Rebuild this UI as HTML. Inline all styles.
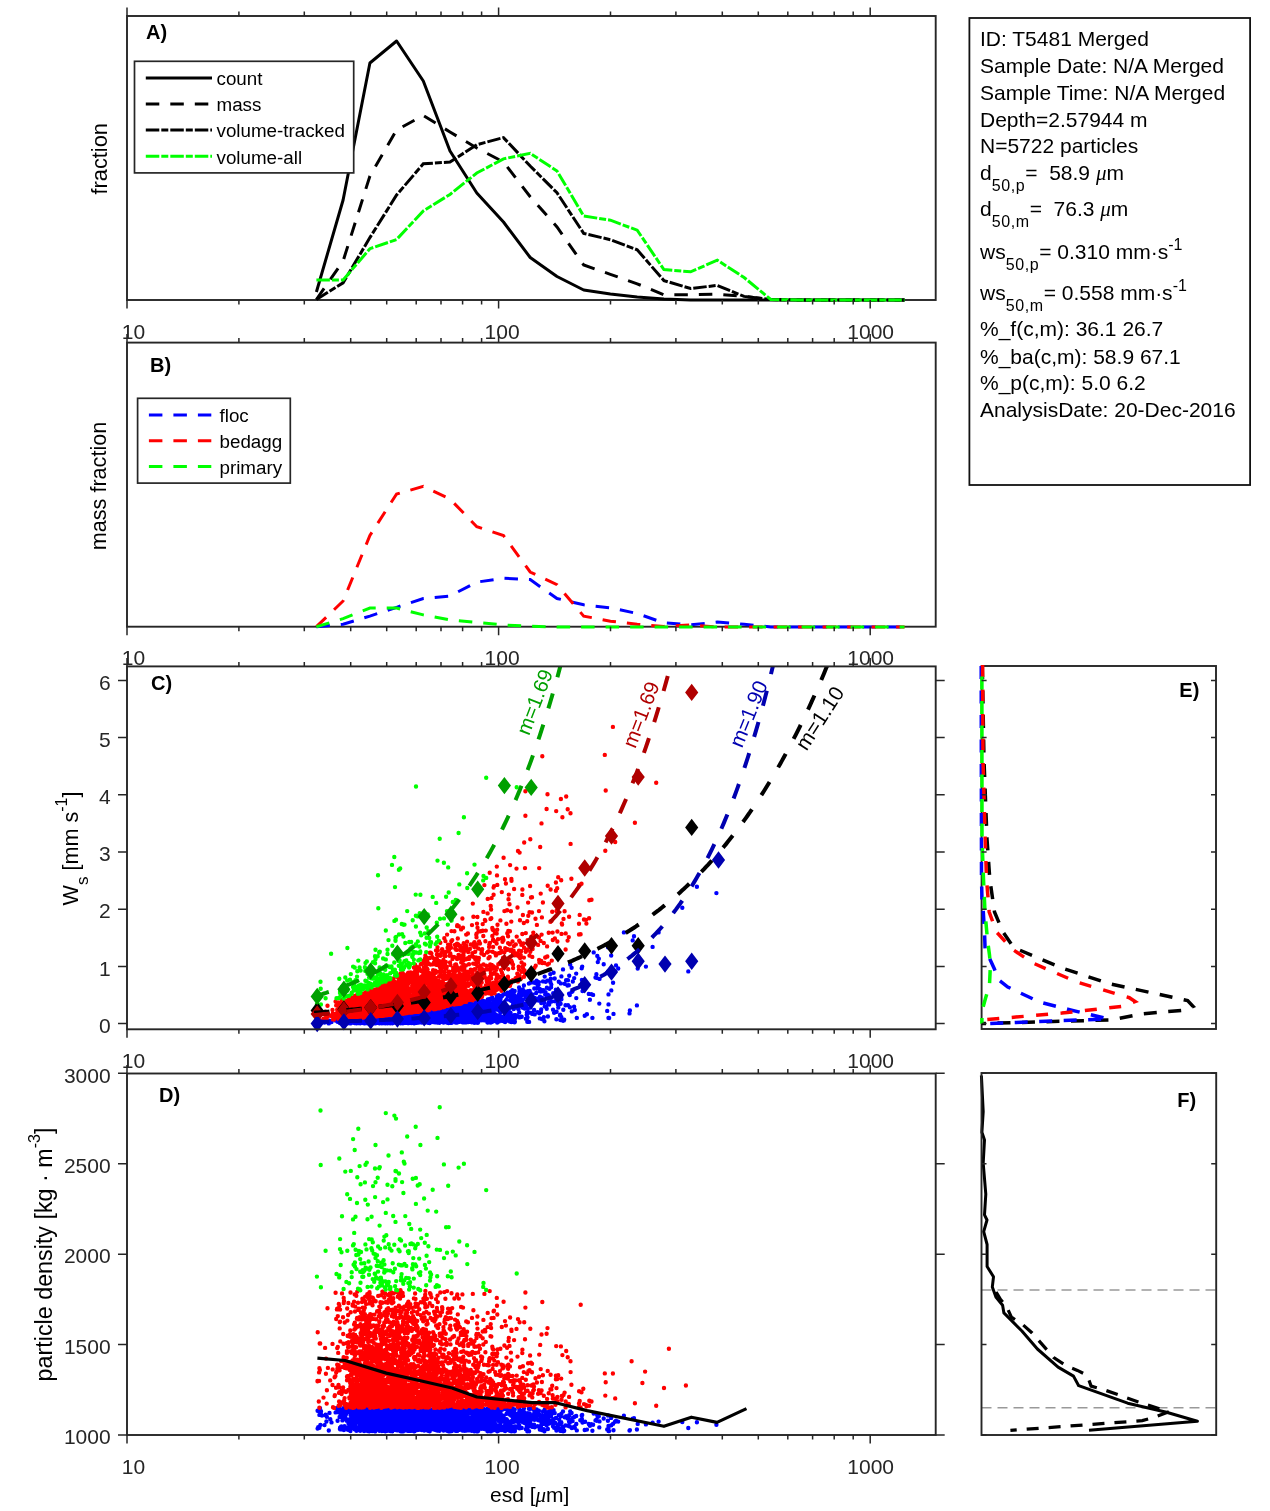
<!DOCTYPE html><html><head><meta charset="utf-8"><style>html,body{margin:0;padding:0;background:#fff;overflow:hidden}svg{display:block;will-change:transform}text{font-family:"Liberation Sans",sans-serif}</style></head><body>
<svg width="1270" height="1511" viewBox="0 0 1270 1511">
<rect width="1270" height="1511" fill="#fff"/>
<g id="A">
<rect x="127" y="16" width="808.7" height="284" fill="none" stroke="#262626" stroke-width="1.9"/>
<path d="M316.4 292 L343.1 200 L369.9 63 L396.6 41 L423.3 81 L450 151 L476.8 193 L503.5 222 L530.2 257.5 L557 276.5 L583.7 290 L610.4 294 L637.2 297 L663.9 299 L690.6 300 L717.3 300 L744.1 300 L770.8 300 L797.5 300 L824.3 300 L851 300 L877.7 300 L904.5 300" fill="none" stroke="#000" stroke-width="3" stroke-linejoin="round"/>
<path d="M316.4 299.5 L343.1 261 L369.9 176 L396.6 130 L423.3 115.5 L450 132 L476.8 148 L503.5 162 L530.2 196.7 L557 227 L583.7 265 L610.4 274.3 L637.2 283.8 L663.9 294.8 L690.6 294.8 L717.3 294.2 L744.1 296.4 L770.8 299.5 L797.5 300 L824.3 300 L851 300 L877.7 300 L904.5 300" fill="none" stroke="#000" stroke-width="3" stroke-dasharray="13.5 11"/>
<path d="M316.4 299.5 L343.1 282.8 L369.9 237.6 L396.6 195 L423.3 163.8 L450 162 L476.8 144.7 L503.5 137.6 L530.2 166 L557 192.8 L583.7 233.4 L610.4 239.7 L637.2 249.8 L663.9 280.6 L690.6 288.5 L717.3 285.4 L744.1 296.4 L770.8 299.5 L797.5 300 L824.3 300 L851 300 L877.7 300 L904.5 300" fill="none" stroke="#000" stroke-width="3" stroke-dasharray="13.5 2 7 2"/>
<path d="M316.4 280 L343.1 280 L369.9 248.7 L396.6 239.5 L423.3 211 L450 194.4 L476.8 173 L503.5 158.9 L530.2 153.3 L557 171 L583.7 216 L610.4 220.2 L637.2 230.2 L663.9 269.6 L690.6 271.8 L717.3 260.2 L744.1 277.5 L770.8 299.5 L797.5 300 L824.3 300 L851 300 L877.7 300 L904.5 300" fill="none" stroke="#0f0" stroke-width="3" stroke-dasharray="13.5 2 7 2"/>
<path d="M127 300 v8.5 M127 16 v-8.5 M238.9 300 v4.5 M238.9 16 v-4.5 M304.3 300 v4.5 M304.3 16 v-4.5 M350.7 300 v4.5 M350.7 16 v-4.5 M386.7 300 v4.5 M386.7 16 v-4.5 M416.2 300 v4.5 M416.2 16 v-4.5 M441 300 v4.5 M441 16 v-4.5 M462.6 300 v4.5 M462.6 16 v-4.5 M481.6 300 v4.5 M481.6 16 v-4.5 M498.6 300 v8.5 M498.6 16 v-8.5 M610.5 300 v4.5 M610.5 16 v-4.5 M675.9 300 v4.5 M675.9 16 v-4.5 M722.3 300 v4.5 M722.3 16 v-4.5 M758.3 300 v4.5 M758.3 16 v-4.5 M787.8 300 v4.5 M787.8 16 v-4.5 M812.6 300 v4.5 M812.6 16 v-4.5 M834.2 300 v4.5 M834.2 16 v-4.5 M853.2 300 v4.5 M853.2 16 v-4.5 M870.2 300 v8.5 M870.2 16 v-8.5" stroke="#262626" stroke-width="1.5" fill="none"/>
</g>
<g font-size="21" fill="#262626"><text x="133.5" y="338.6" text-anchor="middle">10</text><text x="502.1" y="338.6" text-anchor="middle">100</text><text x="870.7" y="338.6" text-anchor="middle">1000</text></g>
<rect x="134.5" y="61.3" width="219.2" height="111.6" fill="#fff" stroke="#262626" stroke-width="1.7"/>
<path d="M145.8 78 H212" stroke="#000" stroke-width="3"/>
<text x="216.5" y="85.3" font-size="18.8" fill="#000">count</text>
<path d="M145.8 104.1 H212" stroke="#000" stroke-width="3" stroke-dasharray="13.5 11"/>
<text x="216.5" y="111.4" font-size="18.8" fill="#000">mass</text>
<path d="M145.8 130.1 H212" stroke="#000" stroke-width="3" stroke-dasharray="13.5 2 7 2"/>
<text x="216.5" y="137.4" font-size="18.8" fill="#000">volume-tracked</text>
<path d="M145.8 156.2 H212" stroke="#0f0" stroke-width="3" stroke-dasharray="13.5 2 7 2"/>
<text x="216.5" y="163.5" font-size="18.8" fill="#000">volume-all</text>
<text x="146" y="38.9" font-size="20" font-weight="bold" fill="#000">A)</text>
<text transform="translate(106.7,158.8) rotate(-90)" text-anchor="middle" font-size="21.8" fill="#000">fraction</text>
<rect x="127" y="342.6" width="808.7" height="284.1" fill="none" stroke="#262626" stroke-width="1.9"/>
<path d="M316.4 626.7 L343.1 624.2 L369.9 616.1 L396.6 607.3 L423.3 598.5 L450 596 L476.8 582.1 L503.5 578.3 L530.2 579.6 L557 598.5 L583.7 604.8 L610.4 607.8 L637.2 613.5 L663.9 622.9 L690.6 624.8 L717.3 622.1 L744.1 624.3 L770.8 627 L797.5 627 L824.3 627 L851 627 L877.7 627 L904.5 627" fill="none" stroke="#00f" stroke-width="3" stroke-dasharray="13.5 11"/>
<path d="M316.4 626.7 L343.1 601 L369.9 535.5 L396.6 494 L423.3 486.4 L450 499 L476.8 526.7 L503.5 535.5 L530.2 572 L557 584.6 L583.7 616.1 L610.4 621.2 L637.2 624.3 L663.9 626.4 L690.6 625 L717.3 627 L744.1 627 L770.8 627 L797.5 627 L824.3 627 L851 627 L877.7 627 L904.5 627" fill="none" stroke="#f00" stroke-width="3" stroke-dasharray="13.5 11"/>
<path d="M316.4 626.7 L343.1 618.7 L369.9 608.1 L396.6 608.1 L423.3 614.9 L450 619.9 L476.8 622.4 L503.5 625 L530.2 626.2 L557 627 L583.7 627 L610.4 627 L637.2 627 L663.9 627 L690.6 627 L717.3 627 L744.1 627 L770.8 627 L797.5 627 L824.3 627 L851 627 L877.7 627 L904.5 627" fill="none" stroke="#0f0" stroke-width="3" stroke-dasharray="13.5 11"/>
<path d="M127 626.7 v8.5 M127 342.6 v-8.5 M238.9 626.7 v4.5 M238.9 342.6 v-4.5 M304.3 626.7 v4.5 M304.3 342.6 v-4.5 M350.7 626.7 v4.5 M350.7 342.6 v-4.5 M386.7 626.7 v4.5 M386.7 342.6 v-4.5 M416.2 626.7 v4.5 M416.2 342.6 v-4.5 M441 626.7 v4.5 M441 342.6 v-4.5 M462.6 626.7 v4.5 M462.6 342.6 v-4.5 M481.6 626.7 v4.5 M481.6 342.6 v-4.5 M498.6 626.7 v8.5 M498.6 342.6 v-8.5 M610.5 626.7 v4.5 M610.5 342.6 v-4.5 M675.9 626.7 v4.5 M675.9 342.6 v-4.5 M722.3 626.7 v4.5 M722.3 342.6 v-4.5 M758.3 626.7 v4.5 M758.3 342.6 v-4.5 M787.8 626.7 v4.5 M787.8 342.6 v-4.5 M812.6 626.7 v4.5 M812.6 342.6 v-4.5 M834.2 626.7 v4.5 M834.2 342.6 v-4.5 M853.2 626.7 v4.5 M853.2 342.6 v-4.5 M870.2 626.7 v8.5 M870.2 342.6 v-8.5" stroke="#262626" stroke-width="1.5" fill="none"/>
<g font-size="21" fill="#262626"><text x="133.5" y="665.3" text-anchor="middle">10</text><text x="502.1" y="665.3" text-anchor="middle">100</text><text x="870.7" y="665.3" text-anchor="middle">1000</text></g>
<rect x="137.6" y="398.3" width="152.7" height="84.8" fill="#fff" stroke="#262626" stroke-width="1.7"/>
<path d="M148.9 414.9 H211.3" stroke="#00f" stroke-width="3" stroke-dasharray="13.5 11"/>
<text x="219.5" y="422.2" font-size="18.8" fill="#000">floc</text>
<path d="M148.9 440.7 H211.3" stroke="#f00" stroke-width="3" stroke-dasharray="13.5 11"/>
<text x="219.5" y="448" font-size="18.8" fill="#000">bedagg</text>
<path d="M148.9 466.5 H211.3" stroke="#0f0" stroke-width="3" stroke-dasharray="13.5 11"/>
<text x="219.5" y="473.8" font-size="18.8" fill="#000">primary</text>
<text x="150" y="371.8" font-size="20" font-weight="bold" fill="#000">B)</text>
<text transform="translate(105.6,486) rotate(-90)" text-anchor="middle" font-size="21.6" fill="#000">mass fraction</text>
<defs><clipPath id="cC"><rect x="127" y="666.4" width="808.7" height="362.9"/></clipPath><clipPath id="cD"><rect x="127" y="1073.5" width="808.7" height="361.5"/></clipPath></defs>
<path d="M443.7 1014.4h0M527.0 1018.5h0M532.3 994.5h0M456.2 1016.9h0M377.4 1022.9h0M368.9 1022.6h0M364.5 1022.9h0M520.8 1017.0h0M454.2 1015.4h0M490.2 1018.2h0M414.7 1020.1h0M442.2 1017.7h0M506.5 1006.6h0M435.7 1022.4h0M388.8 1020.6h0M407.0 1018.5h0M412.0 1022.4h0M382.2 1020.3h0M459.9 1014.4h0M381.4 1018.4h0M433.9 1017.9h0M390.0 1019.4h0M556.4 1019.3h0M407.1 1015.5h0M548.2 1004.2h0M353.5 1020.2h0M467.0 1017.3h0M416.5 1014.8h0M392.7 1019.0h0M357.8 1018.8h0M412.8 1014.1h0M498.3 999.4h0M459.3 1012.8h0M370.1 1018.3h0M358.1 1022.8h0M412.7 1018.2h0M467.6 1014.5h0M443.2 1009.4h0M394.6 1017.1h0M464.1 1014.0h0M351.5 1020.9h0M611.2 955.5h0M466.0 1008.9h0M369.8 1019.2h0M527.9 991.3h0M449.8 1014.6h0M418.0 1016.1h0M371.4 1019.4h0M497.2 1006.4h0M415.9 1016.8h0M390.4 1019.3h0M499.7 1019.6h0M342.4 1022.8h0M367.1 1018.6h0M369.8 1022.6h0M495.9 999.1h0M682.3 907.7h0M461.7 1019.6h0M498.5 1006.1h0M434.2 1017.3h0M351.1 1021.2h0M569.9 1007.3h0M437.6 1014.1h0M484.1 1017.2h0M361.4 1021.4h0M431.3 1013.6h0M416.0 1021.3h0M507.3 1013.4h0M412.4 1021.0h0M420.0 1016.6h0M477.0 1003.1h0M507.6 1011.9h0M479.6 1017.1h0M491.0 1018.6h0M335.6 1020.5h0M435.0 1014.5h0M417.0 1021.7h0M421.5 1013.2h0M495.6 1009.3h0M362.5 1021.6h0M460.5 1010.5h0M356.7 1020.2h0M565.5 1005.2h0M423.5 1013.9h0M534.8 997.9h0M376.3 1019.6h0M458.6 1015.2h0M361.9 1019.6h0M528.1 1002.6h0M369.5 1021.0h0M472.8 1007.3h0M491.0 1003.6h0M353.2 1019.0h0M399.0 1022.9h0M561.4 976.4h0M504.0 1019.5h0M502.6 1008.8h0M446.5 1012.5h0M417.7 1017.0h0M505.3 1007.6h0M392.4 1017.5h0M397.2 1023.0h0M348.7 1019.3h0M381.1 1021.2h0M471.5 1005.4h0M569.1 993.8h0M448.6 1015.6h0M389.0 1019.8h0M387.3 1019.6h0M460.0 1016.8h0M405.7 1017.5h0M420.8 1012.9h0M413.7 1018.8h0M451.6 1013.3h0M441.3 1011.4h0M370.2 1023.1h0M514.0 1001.3h0M371.1 1019.8h0M397.7 1020.6h0M455.7 1012.4h0M506.0 994.0h0M396.6 1021.2h0M498.0 1018.5h0M558.3 1007.5h0M355.2 1021.8h0M547.9 1016.5h0M410.0 1018.4h0M425.6 1013.8h0M424.4 1022.6h0M409.7 1014.2h0M431.6 1013.3h0M381.9 1022.7h0M475.8 1012.0h0M380.6 1018.5h0M451.9 1008.9h0M433.9 1016.1h0M487.2 1001.7h0M381.9 1022.3h0M425.1 1012.5h0M368.5 1019.5h0M436.1 1022.2h0M363.6 1019.7h0M410.8 1019.6h0M455.1 1013.9h0M451.1 1015.4h0M466.4 1022.2h0M397.6 1015.7h0M539.9 990.9h0M551.1 987.2h0M360.2 1023.3h0M514.7 991.0h0M409.6 1020.1h0M385.3 1019.7h0M380.1 1018.1h0M461.2 1017.5h0M382.2 1022.3h0M629.9 1010.5h0M459.2 1007.8h0M374.7 1019.4h0M410.1 1015.9h0M510.7 1018.7h0M458.2 1007.6h0M391.0 1019.4h0M561.3 1016.9h0M365.0 1023.2h0M431.1 1015.7h0M493.6 1013.0h0M613.1 982.7h0M370.1 1018.1h0M506.6 999.5h0M403.4 1016.4h0M408.6 1014.6h0M422.5 1016.6h0M339.0 1020.2h0M436.4 1011.1h0M400.7 1019.5h0M451.7 1019.6h0M432.1 1014.6h0M382.2 1018.5h0M402.9 1015.0h0M466.7 1010.6h0M503.9 994.1h0M387.1 1017.8h0M396.4 1016.2h0M414.2 1015.0h0M391.0 1017.9h0M406.9 1021.5h0M491.0 1010.1h0M426.0 1018.7h0M571.7 991.9h0M460.4 1011.0h0M422.1 1021.9h0M424.3 1013.9h0M430.3 1012.5h0M381.4 1022.2h0M425.4 1012.4h0M352.0 1022.7h0M513.0 1016.5h0M404.1 1015.1h0M367.8 1022.7h0M425.4 1020.7h0M390.1 1017.1h0M461.8 1006.5h0M457.7 1016.8h0M409.6 1018.2h0M522.4 993.7h0M502.8 1004.3h0M424.5 1021.4h0M387.9 1020.0h0M527.0 998.1h0M434.6 1013.6h0M320.0 1020.5h0M433.3 1015.9h0M615.0 971.6h0M393.1 1022.4h0M380.2 1019.4h0M363.0 1019.9h0M402.5 1022.6h0M480.3 1014.9h0M375.1 1023.2h0M400.2 1021.4h0M460.5 1015.3h0M425.1 1021.5h0M502.7 995.2h0M505.5 1007.7h0M433.5 1019.5h0M418.4 1013.4h0M483.3 1010.2h0M360.0 1020.8h0M374.1 1020.0h0M416.5 1021.3h0M629.5 1013.4h0M391.3 1023.1h0M541.2 1009.4h0M369.1 1023.2h0M496.4 1004.5h0M440.3 1017.2h0M428.9 1022.3h0M456.0 1010.9h0M549.2 1004.6h0M487.7 1005.1h0M370.0 1021.6h0M440.0 1020.7h0M415.7 1022.8h0M379.3 1020.5h0M436.1 1015.8h0M599.3 1003.6h0M480.7 1014.9h0M362.1 1021.6h0M518.4 1001.0h0M535.6 1000.1h0M369.5 1021.9h0M374.0 1021.9h0M364.9 1022.8h0M408.5 1021.6h0M522.4 991.1h0M395.2 1017.6h0M429.9 1020.4h0M483.9 1001.6h0M367.9 1021.8h0M449.3 1017.7h0M509.8 1021.6h0M369.7 1018.7h0M387.2 1016.9h0M463.3 1014.9h0M317.6 1020.9h0M461.7 1011.7h0M393.1 1021.8h0M388.7 1020.0h0M537.6 986.9h0M502.7 1010.3h0M360.0 1019.2h0M384.7 1018.9h0M426.0 1020.0h0M368.0 1018.5h0M446.5 1008.7h0M374.2 1022.4h0M554.1 1012.8h0M396.8 1020.6h0M447.1 1010.6h0M384.3 1022.1h0M429.1 1019.1h0M372.1 1019.9h0M455.1 1008.5h0M501.4 995.9h0M559.2 992.3h0M442.1 1010.4h0M477.8 1022.7h0M397.8 1016.3h0M401.5 1020.5h0M486.7 1009.8h0M384.4 1020.3h0M433.0 1022.1h0M538.5 998.5h0M411.6 1018.2h0M454.8 1012.4h0M452.3 1012.4h0M421.5 1022.4h0M425.5 1012.1h0M510.3 992.5h0M407.7 1019.7h0M399.0 1020.4h0M544.7 976.6h0M476.6 1022.6h0M370.9 1022.2h0M342.8 1023.1h0M396.3 1018.3h0M404.4 1020.2h0M430.9 1018.8h0M353.9 1019.7h0M394.4 1016.9h0M452.3 1017.1h0M439.1 1015.1h0M423.1 1021.0h0M375.4 1020.5h0M476.8 1021.0h0M395.8 1020.1h0M411.1 1019.4h0M401.9 1022.7h0M501.8 1010.2h0M427.7 1019.9h0M457.9 1021.9h0M510.2 1021.1h0M507.8 1016.4h0M603.7 964.2h0M442.2 1016.1h0M534.1 1009.9h0M410.2 1017.6h0M387.2 1017.0h0M431.1 1013.8h0M415.2 1018.6h0M358.2 1022.9h0M514.2 1004.9h0M388.3 1018.2h0M423.7 1013.7h0M397.3 1019.3h0M414.4 1015.7h0M571.6 967.7h0M340.6 1020.9h0M371.3 1020.4h0M388.1 1021.9h0M401.8 1016.1h0M361.2 1022.3h0M468.5 1020.8h0M347.2 1022.8h0M442.4 1021.7h0M462.7 1006.8h0M394.7 1018.7h0M413.6 1014.3h0M370.9 1019.6h0M376.7 1018.6h0M465.3 1018.8h0M482.9 1017.6h0M336.5 1019.8h0M510.4 1019.9h0M383.9 1019.7h0M512.2 992.7h0M431.0 1020.3h0M500.6 1016.4h0M431.9 1016.2h0M553.6 972.7h0M478.7 1018.4h0M382.2 1017.2h0M469.8 1014.0h0M392.7 1017.0h0M400.0 1015.2h0M431.7 1018.4h0M382.3 1021.5h0M423.7 1017.0h0M427.2 1019.3h0M489.8 998.9h0M498.9 996.7h0M498.1 1009.9h0M377.1 1020.5h0M399.4 1020.9h0M393.8 1017.9h0M346.6 1019.6h0M400.0 1021.5h0M412.3 1021.8h0M547.5 994.7h0M540.6 991.6h0M569.2 975.8h0M563.9 1020.4h0M402.3 1021.3h0M458.2 1022.0h0M464.7 1006.9h0M367.1 1020.0h0M388.4 1018.0h0M399.8 1022.8h0M425.9 1022.3h0M560.6 1003.7h0M398.5 1016.0h0M401.4 1018.9h0M408.0 1018.1h0M525.8 997.4h0M364.8 1023.2h0M461.4 1020.2h0M377.5 1022.4h0M483.8 1011.2h0M426.1 1013.7h0M405.9 1020.9h0M526.2 995.1h0M356.0 1021.6h0M404.0 1015.5h0M498.6 1002.9h0M519.4 1017.4h0M411.1 1022.7h0M595.5 977.5h0M474.3 1022.8h0M514.6 1021.1h0M320.8 1021.1h0M410.8 1020.9h0M374.9 1021.9h0M425.1 1015.4h0M479.6 1009.4h0M354.1 1022.1h0M404.3 1015.4h0M359.8 1019.7h0M464.2 1005.3h0M473.0 1007.2h0M352.1 1019.3h0M377.6 1018.8h0M422.5 1015.2h0M422.0 1013.6h0M385.7 1022.5h0M413.7 1019.5h0M363.3 1020.1h0M534.7 1014.4h0M337.6 1021.8h0M574.2 978.1h0M476.8 1022.0h0M379.0 1022.0h0M500.7 998.4h0M413.8 1017.0h0M377.5 1018.0h0M516.0 1007.5h0M438.6 1017.7h0M420.6 1015.8h0M488.3 1008.1h0M494.3 1018.2h0M344.5 1022.5h0M452.6 1016.1h0M414.4 1021.4h0M466.0 1013.2h0M376.3 1021.1h0M381.0 1019.7h0M482.1 1015.0h0M386.9 1023.1h0M464.4 1009.6h0M509.3 1014.4h0M386.3 1020.6h0M419.0 1021.6h0M539.3 1013.3h0M463.4 1008.7h0M341.0 1020.7h0M439.1 1011.2h0M491.9 1006.5h0M490.2 1020.9h0M469.4 1005.7h0M430.8 1012.0h0M513.0 1004.4h0M396.6 1019.0h0M391.6 1019.2h0M437.5 1018.5h0M418.3 1017.5h0M358.0 1020.1h0M490.8 1022.6h0M512.3 990.3h0M354.5 1023.0h0M351.0 1022.8h0M389.9 1020.6h0M466.6 1013.0h0M377.5 1019.6h0M408.0 1017.8h0M361.6 1021.3h0M464.8 1022.4h0M503.8 1002.9h0M446.6 1014.1h0M376.4 1022.8h0M473.9 1004.2h0M358.6 1023.0h0M422.3 1015.3h0M455.8 1018.2h0M500.8 1001.9h0M342.1 1020.0h0M420.6 1015.9h0M522.9 1007.7h0M427.7 1012.6h0M545.2 994.4h0M394.5 1016.7h0M510.7 1015.8h0M393.1 1019.5h0M457.0 1007.0h0M436.9 1014.2h0M443.1 1010.9h0M366.6 1021.6h0M368.8 1022.6h0M357.0 1023.1h0M491.9 1022.0h0M472.1 1008.3h0M439.0 1020.3h0M543.5 990.3h0M410.3 1019.1h0M374.1 1019.2h0M378.3 1020.3h0M365.4 1019.9h0M381.9 1023.2h0M538.9 982.1h0M424.6 1013.4h0M447.6 1022.8h0M385.8 1022.8h0M512.9 999.3h0M438.0 1012.2h0M427.8 1013.2h0M412.3 1015.2h0M495.5 1007.8h0M374.2 1020.0h0M483.8 1012.2h0M498.7 1018.4h0M461.1 1019.2h0M405.2 1021.8h0M481.0 1003.1h0M540.0 996.6h0M458.4 1014.3h0M499.5 1002.8h0M465.8 1013.2h0M546.5 997.7h0M413.8 1015.9h0M519.2 1012.4h0M497.5 997.8h0M364.0 1022.4h0M478.3 1018.4h0M481.2 1007.6h0M428.4 1011.7h0M468.5 1005.2h0M371.4 1018.0h0M449.6 1018.3h0M510.2 1000.0h0M367.9 1018.1h0M416.2 1014.8h0M451.3 1014.4h0M536.0 983.2h0M481.1 1006.1h0M512.3 995.8h0M471.5 1007.5h0M442.4 1013.4h0M487.4 1022.3h0M370.3 1023.2h0M431.2 1012.8h0M441.5 1016.8h0M546.9 987.7h0M608.5 994.4h0M461.0 1007.5h0M386.9 1017.8h0M407.0 1022.7h0M449.3 1021.4h0M423.4 1015.4h0M431.4 1020.0h0M365.7 1020.9h0M375.4 1019.6h0M543.8 1017.2h0M500.6 1012.2h0M397.0 1015.6h0M450.9 1020.7h0M370.2 1022.8h0M492.7 1014.2h0M440.4 1012.3h0M403.6 1022.1h0M397.1 1021.6h0M571.8 1011.4h0M320.0 1021.3h0M368.1 1021.2h0M496.5 1018.7h0M523.0 999.6h0M358.7 1019.7h0M408.6 1020.9h0M360.4 1020.9h0M599.5 978.9h0M367.1 1022.3h0M408.9 1022.3h0M406.8 1018.1h0M421.2 1014.9h0M455.7 1013.5h0M410.2 1015.0h0M424.3 1020.5h0M444.3 1016.2h0M442.8 1009.7h0M392.3 1023.3h0M399.2 1019.8h0M364.1 1023.0h0M515.9 1007.3h0M393.6 1022.4h0M570.2 964.6h0M425.0 1021.0h0M412.9 1020.2h0M396.3 1021.5h0M356.3 1020.4h0M500.3 1012.5h0M391.8 1017.7h0M401.6 1019.7h0M418.6 1017.8h0M357.1 1020.2h0M407.2 1020.0h0M426.7 1022.4h0M514.9 1021.8h0M510.1 1000.2h0M387.2 1022.2h0M417.5 1018.7h0M443.6 1021.0h0M483.3 1011.4h0M374.3 1017.6h0M425.6 1021.1h0M504.4 1016.3h0M503.0 1016.7h0M632.7 940.4h0M404.0 1018.5h0M451.3 1021.0h0M608.5 1004.4h0M395.8 1018.7h0M448.2 1014.2h0M418.5 1018.5h0M457.6 1016.9h0M352.4 1021.9h0M514.5 1022.2h0M449.7 1014.9h0M380.2 1018.0h0M441.4 1021.9h0M369.7 1022.1h0M370.2 1022.2h0M545.5 992.1h0M401.0 1022.8h0M435.9 1013.6h0M544.7 1006.4h0M356.1 1020.0h0M401.4 1021.5h0M352.2 1020.7h0M403.3 1019.8h0M412.1 1017.8h0M584.7 1015.8h0M472.2 1010.7h0M546.2 1007.2h0M467.3 1011.8h0M468.8 1017.7h0M363.6 1020.5h0M496.7 1001.3h0M355.6 1020.1h0M413.1 1022.1h0M367.1 1018.0h0M428.5 1021.1h0M386.1 1021.8h0M373.2 1021.9h0M391.0 1020.7h0M480.8 1010.1h0M369.4 1022.2h0M463.3 1008.4h0M372.8 1021.8h0M613.5 1013.9h0M581.9 980.0h0M637.7 968.6h0M394.1 1020.5h0M384.6 1022.2h0M482.4 1016.8h0M366.5 1018.2h0M386.2 1020.3h0M385.7 1022.6h0M473.3 1016.0h0M372.3 1018.6h0M518.4 1016.8h0M401.2 1020.4h0M378.3 1021.5h0M564.7 983.8h0M385.3 1023.3h0M437.5 1012.0h0M544.4 1021.3h0M522.0 995.2h0M354.9 1022.9h0M444.7 1017.4h0M607.2 1010.9h0M451.8 1022.8h0M440.0 1021.2h0M428.0 1022.8h0M399.7 1019.4h0M381.5 1021.5h0M382.7 1018.8h0M366.4 1019.0h0M372.1 1022.1h0M444.2 1022.4h0M454.4 1010.7h0M412.6 1016.9h0M439.4 1022.7h0M543.0 981.4h0M485.7 1012.8h0M436.7 1016.1h0M645.9 966.6h0M478.2 1018.1h0M414.0 1019.7h0M363.5 1021.2h0M447.9 1013.6h0M376.9 1022.8h0M390.2 1023.2h0M381.0 1020.0h0M593.1 994.9h0M404.9 1015.8h0M410.8 1018.2h0M406.8 1018.2h0M544.2 1002.7h0M339.6 1021.1h0M458.7 1018.9h0M519.7 998.5h0M389.4 1018.4h0M351.7 1020.3h0M497.2 1020.1h0M477.4 1009.4h0M382.2 1022.8h0M393.1 1019.9h0M421.7 1018.0h0M505.2 1014.3h0M427.1 1015.1h0M361.6 1021.2h0M450.1 1011.2h0M474.5 1007.1h0M447.9 1021.6h0M497.6 1008.9h0M346.2 1022.9h0M485.9 1011.9h0M369.3 1019.7h0M379.4 1018.3h0M441.8 1011.5h0M360.2 1022.0h0M379.5 1017.3h0M500.9 1004.8h0M521.6 1001.8h0M418.9 1022.5h0M392.1 1022.5h0M431.5 1016.4h0M444.5 1019.3h0M395.5 1017.9h0M319.4 1021.4h0M423.5 1019.7h0M526.1 1005.9h0M399.3 1016.5h0M541.1 1001.0h0M491.4 1006.7h0M369.9 1019.7h0M498.8 1015.7h0M541.3 1003.0h0M438.5 1012.9h0M441.5 1021.1h0M400.8 1016.9h0M329.5 1020.8h0M453.5 1009.4h0M400.0 1019.6h0M466.4 1012.4h0M397.7 1016.5h0M513.9 1017.6h0M453.1 1012.9h0M390.0 1021.5h0M582.9 990.1h0M488.7 1006.2h0M437.7 1019.5h0M455.0 1014.7h0M484.2 1001.1h0M413.1 1014.8h0M412.8 1013.9h0M374.1 1019.6h0M454.9 1021.7h0M423.4 1018.3h0M504.4 1021.5h0M401.6 1020.8h0M522.6 1002.6h0M445.2 1017.1h0M438.4 1020.0h0M418.4 1018.5h0M343.2 1020.6h0M370.0 1018.7h0M491.8 998.2h0M405.6 1017.8h0M401.1 1019.1h0M430.8 1017.6h0M497.8 999.6h0M363.8 1023.0h0M502.1 996.1h0M439.6 1020.4h0M406.2 1015.6h0M476.2 1015.2h0M440.3 1022.0h0M568.0 980.2h0M369.7 1021.9h0M397.5 1017.9h0M433.1 1015.8h0M518.5 1009.4h0M448.6 1015.1h0M460.0 1017.1h0M457.2 1022.6h0M463.3 1009.2h0M384.4 1017.3h0M387.7 1019.4h0M449.7 1015.8h0M425.3 1013.0h0M463.0 1006.4h0M376.9 1022.8h0M530.3 1007.6h0M429.0 1017.7h0M588.8 993.9h0M455.2 1019.4h0M352.5 1022.1h0M454.9 1020.3h0M352.9 1022.2h0M375.3 1020.6h0M416.9 1022.3h0M561.2 997.7h0M444.6 1009.6h0M398.4 1019.6h0M437.5 1011.3h0M366.7 1021.7h0M392.3 1018.2h0M369.1 1018.8h0M444.3 1017.3h0M508.8 1009.4h0M541.2 1001.5h0M443.8 1015.4h0M415.9 1017.1h0M430.4 1018.1h0M528.9 983.6h0M378.6 1022.8h0M362.8 1022.6h0M350.4 1023.4h0M344.9 1020.7h0M397.1 1021.7h0M350.4 1022.7h0M516.1 1002.0h0M427.9 1013.1h0M370.1 1022.7h0M560.4 1020.1h0M400.9 1016.8h0M414.4 1021.0h0M413.0 1021.0h0M380.2 1022.8h0M440.0 1011.5h0M403.1 1015.3h0M623.9 932.4h0M402.2 1017.0h0M492.3 997.5h0M471.2 1007.9h0M343.1 1021.4h0M525.6 994.9h0M498.6 1009.6h0M443.1 1019.1h0M445.8 1020.9h0M716.4 893.1h0M485.0 1006.8h0M393.5 1017.4h0M487.7 1011.1h0M450.1 1022.9h0M377.8 1017.8h0M391.0 1023.1h0M532.4 1012.8h0M477.6 1002.5h0M531.6 1000.9h0M420.0 1020.2h0M455.0 1007.2h0M383.5 1021.4h0M519.9 1006.5h0M448.5 1013.1h0M378.4 1018.9h0M368.0 1020.4h0M355.3 1022.4h0M474.6 1017.2h0M486.8 1020.1h0M338.0 1020.3h0M430.8 1017.2h0M392.5 1021.2h0M466.9 1009.8h0M496.7 1020.9h0M636.9 1005.4h0M387.3 1019.9h0M541.4 990.0h0M458.5 1011.0h0M438.8 1021.1h0M396.3 1021.0h0M325.6 1021.3h0M439.3 1020.9h0M364.0 1018.6h0M416.1 1015.5h0M354.8 1020.6h0M358.9 1020.1h0M418.8 1020.2h0M499.3 1003.3h0M437.2 1022.6h0M389.5 1016.7h0M467.6 1016.3h0M377.8 1018.8h0M418.4 1022.0h0M414.0 1023.1h0M451.3 1015.3h0M568.8 985.3h0M457.4 1016.6h0M455.5 1007.1h0M476.7 1022.3h0M367.6 1018.8h0M386.0 1016.9h0M368.6 1022.5h0M466.5 1014.5h0M494.2 1021.1h0M379.5 1022.4h0M359.1 1019.3h0M384.4 1022.6h0M386.8 1018.3h0M481.8 1020.3h0M426.3 1021.2h0M421.6 1022.6h0M350.6 1022.7h0M446.1 1017.6h0M390.4 1021.1h0M418.0 1015.8h0M341.4 1020.0h0M487.0 1002.8h0M390.4 1018.3h0M453.6 1020.5h0M428.6 1020.6h0M464.6 1016.0h0M493.9 1001.0h0M445.9 1020.4h0M358.0 1020.0h0M354.0 1020.5h0M438.6 1017.4h0M496.8 995.8h0M696.9 886.7h0M381.1 1021.4h0M358.0 1019.4h0M551.3 984.6h0M340.6 1020.7h0M486.3 1005.0h0M397.0 1020.1h0M417.7 1018.7h0M397.7 1016.9h0M618.2 968.5h0M468.9 1015.0h0M485.3 1013.4h0M360.2 1023.2h0M486.8 1015.4h0M440.6 1015.7h0M480.7 1010.8h0M524.7 1008.6h0M438.8 1018.9h0M407.1 1018.7h0M392.0 1017.4h0M399.5 1015.3h0M413.1 1021.0h0M498.9 1021.6h0M420.7 1018.0h0M389.2 1022.1h0M375.8 1022.3h0M471.8 1013.0h0M533.6 982.5h0M346.8 1021.5h0M491.9 1006.5h0M406.8 1018.8h0M421.1 1017.9h0M357.3 1021.6h0M375.4 1022.8h0M350.6 1021.7h0M399.8 1022.9h0M469.4 1014.6h0M385.1 1022.5h0M507.9 1013.5h0M375.7 1020.9h0M375.1 1023.4h0M564.2 1019.7h0M388.8 1017.5h0M560.0 1015.6h0M446.4 1014.7h0M377.3 1020.3h0M373.2 1019.6h0M370.3 1020.5h0M354.3 1019.0h0M390.9 1021.6h0M384.7 1020.5h0M356.4 1021.0h0M381.6 1017.7h0M560.2 1014.6h0M379.8 1021.8h0M360.0 1021.2h0M528.1 995.9h0M523.3 1007.1h0M351.4 1019.5h0M490.2 1020.5h0M364.5 1020.6h0M388.7 1022.2h0M453.6 1009.4h0M549.4 988.7h0M342.4 1021.6h0M398.9 1015.3h0M511.8 1015.8h0M408.3 1017.1h0M421.0 1020.9h0M448.6 1023.0h0M585.1 987.5h0M506.0 1019.1h0M507.5 992.7h0M448.9 1019.9h0M354.6 1021.0h0M403.4 1017.7h0M369.2 1023.3h0M490.5 1007.9h0M420.6 1013.1h0M519.9 1002.7h0M457.4 1010.5h0M425.8 1014.5h0M384.6 1017.7h0M373.5 1022.0h0M363.4 1023.0h0M421.2 1016.3h0M538.4 1000.6h0M445.9 1012.5h0M463.1 1013.8h0M381.4 1022.1h0M375.0 1023.3h0M390.0 1017.6h0M576.2 973.6h0M453.9 1008.5h0M474.5 1005.3h0M559.5 1004.3h0M319.4 1023.0h0M532.1 999.3h0M355.7 1020.3h0M454.6 1019.8h0M395.8 1016.4h0M380.5 1017.3h0M464.4 1014.8h0M407.7 1023.1h0M429.7 1023.1h0M414.0 1015.3h0M403.3 1020.5h0M430.3 1019.7h0M422.0 1020.0h0M420.2 1015.7h0M511.4 998.9h0M526.7 1014.8h0M378.8 1019.3h0M412.7 1014.2h0M375.0 1018.1h0M523.9 985.5h0M409.4 1018.8h0M466.3 1006.8h0M452.6 1014.0h0M474.3 1008.0h0M514.7 1019.4h0M385.5 1017.1h0M444.9 1018.3h0M402.3 1022.0h0M609.1 1018.0h0M415.6 1016.5h0M516.7 997.0h0M372.5 1019.1h0M383.8 1022.1h0M467.9 1019.5h0M401.8 1017.3h0M634.0 936.2h0M364.8 1022.5h0M477.3 1015.3h0M490.1 1000.1h0M512.0 1007.4h0M545.7 981.8h0M560.1 999.8h0M386.2 1020.3h0M450.1 1008.7h0M366.9 1019.6h0M409.9 1021.7h0M395.8 1020.3h0M430.3 1018.3h0M413.1 1014.9h0M461.5 1018.0h0M502.0 1010.6h0M611.3 990.4h0M582.2 966.6h0M438.0 1016.5h0M405.0 1022.4h0M576.3 998.1h0M455.5 1020.5h0M492.2 1005.6h0M548.8 995.5h0M446.0 1010.9h0M490.8 1003.9h0M413.7 1021.2h0M497.7 1020.1h0M421.0 1013.8h0M378.9 1018.5h0M500.5 1011.3h0M420.8 1019.7h0M408.9 1018.3h0M492.7 1010.0h0M495.1 1005.1h0M350.2 1022.2h0M569.8 995.1h0M418.8 1019.2h0M466.8 1021.6h0M403.1 1023.0h0M394.6 1019.3h0M455.3 1007.7h0M317.6 1023.1h0M608.5 1017.9h0M391.7 1022.0h0M403.7 1023.0h0M450.9 1010.3h0M425.6 1015.7h0M543.1 1001.8h0M464.1 1007.4h0M356.8 1019.2h0M414.7 1013.6h0M417.5 1017.3h0M542.3 991.2h0M451.0 1014.9h0M568.0 1005.3h0M380.9 1019.5h0M426.6 1012.9h0M501.8 1020.5h0M405.3 1015.4h0M485.8 1003.3h0M373.0 1022.6h0M416.6 1016.8h0M442.7 1016.1h0M388.0 1017.7h0M436.5 1013.3h0M320.4 1022.7h0M467.8 1018.0h0M431.4 1014.7h0M519.1 987.4h0M392.1 1019.9h0M593.7 952.4h0M360.5 1021.9h0M386.0 1022.4h0M383.2 1022.3h0M394.6 1016.4h0M356.7 1021.7h0M461.8 1015.5h0M413.1 1016.6h0M426.4 1013.5h0M358.0 1019.2h0M421.0 1018.4h0M354.5 1022.5h0M375.7 1018.3h0M380.3 1022.2h0M482.8 1004.5h0M409.5 1015.0h0M486.0 1019.1h0M395.2 1020.1h0M529.7 1012.6h0M442.3 1010.9h0M478.6 1007.0h0M430.4 1019.1h0M465.8 1017.3h0M548.8 1002.1h0M356.0 1020.0h0M419.4 1015.8h0M337.3 1020.0h0M506.3 1019.3h0M473.5 1018.1h0M383.8 1020.3h0M405.6 1016.2h0M388.5 1020.6h0M354.7 1021.5h0M384.9 1020.6h0M523.3 1007.5h0M488.2 1016.6h0M470.1 1017.0h0M507.4 1019.4h0M447.3 1017.0h0M376.1 1019.3h0M354.1 1020.2h0M519.4 991.3h0M495.3 1007.8h0M471.7 1022.3h0M454.9 1021.4h0M369.2 1022.1h0M405.2 1017.9h0M443.6 1022.6h0M396.1 1021.3h0M488.7 1018.1h0M574.1 1006.8h0M443.4 1011.5h0M496.8 1004.7h0M467.6 1018.9h0M558.8 981.8h0M411.9 1014.5h0M358.6 1021.4h0M379.3 1021.2h0M398.2 1019.6h0M465.7 1009.8h0M515.5 998.2h0M402.5 1019.5h0M392.2 1018.9h0M454.2 1009.6h0M385.4 1017.3h0M423.9 1020.3h0M384.0 1017.7h0M411.1 1014.5h0M401.6 1020.1h0M493.9 1012.7h0M404.4 1015.7h0M418.8 1022.4h0M510.6 1018.6h0M439.7 1011.5h0M415.9 1015.4h0M414.4 1014.2h0M360.2 1023.2h0M488.9 1016.0h0M405.0 1014.8h0M530.0 994.1h0M403.9 1017.9h0M519.1 997.2h0M444.0 1022.4h0M451.4 1012.1h0M429.4 1022.5h0M383.4 1020.7h0M406.5 1014.5h0M341.0 1022.7h0M475.8 1002.3h0M525.9 1018.7h0M461.9 1019.0h0M391.1 1020.0h0M432.2 1020.7h0M363.6 1022.1h0M509.0 1011.8h0M405.0 1021.6h0M388.9 1016.8h0M414.7 1020.9h0M392.4 1019.8h0M429.5 1019.7h0M359.2 1020.3h0M406.5 1020.4h0M536.6 988.6h0M455.8 1021.4h0M419.1 1014.5h0M455.6 1013.2h0M400.9 1018.9h0M367.3 1020.2h0M405.5 1019.5h0M399.9 1015.7h0M457.0 1011.6h0M474.9 1019.5h0M358.9 1020.4h0M519.5 1005.4h0M357.2 1019.0h0M528.2 997.8h0M433.3 1019.5h0M438.0 1011.7h0M421.6 1017.3h0M563.0 969.4h0M597.3 955.9h0M457.0 1022.3h0M367.3 1018.8h0M461.3 1009.2h0M378.3 1021.5h0M394.8 1019.2h0M495.2 1014.6h0M418.2 1014.2h0M513.7 1009.0h0M381.4 1020.6h0M567.5 985.5h0M435.0 1021.4h0M350.3 1019.3h0M399.7 1021.4h0M430.5 1013.8h0M400.9 1020.4h0M425.1 1012.8h0M459.8 1021.7h0M450.3 1011.3h0M462.2 1016.8h0M502.0 1020.6h0M616.0 965.4h0M420.0 1018.6h0M405.7 1017.3h0M441.8 1021.2h0M356.4 1023.1h0M397.9 1021.4h0M467.5 1009.8h0M480.1 1006.3h0M534.4 1000.7h0M426.5 1017.5h0M394.5 1017.3h0M343.9 1023.2h0M382.3 1017.6h0M465.2 1015.1h0M339.2 1019.8h0M374.7 1018.2h0M374.8 1018.9h0M386.2 1019.2h0M490.7 1020.7h0M423.8 1018.8h0M441.5 1012.7h0M370.3 1020.7h0M452.8 1007.9h0M369.9 1017.8h0M481.9 1014.8h0M430.4 1018.4h0M507.7 996.0h0M384.8 1019.9h0M524.6 991.4h0M532.1 997.4h0M426.5 1012.1h0M447.8 1011.6h0M361.9 1021.7h0M373.6 1019.9h0M505.5 1010.1h0M434.8 1022.2h0M403.4 1017.7h0M391.4 1020.8h0M381.8 1021.0h0M592.4 1017.9h0M401.3 1020.7h0M488.7 1011.3h0M516.6 1016.7h0M514.5 995.3h0M455.6 1008.2h0M379.8 1018.5h0M424.4 1015.3h0M430.2 1018.7h0M464.9 1012.4h0M413.5 1016.8h0M369.8 1019.3h0M480.8 1011.4h0M527.7 992.4h0M374.9 1017.5h0M387.7 1020.5h0M435.3 1018.7h0M388.7 1021.9h0M354.4 1020.9h0M456.3 1009.0h0M492.0 1003.7h0M363.6 1021.1h0M369.5 1021.2h0M483.0 1011.9h0M426.0 1012.8h0M409.1 1015.2h0M353.4 1020.5h0M415.9 1020.7h0M499.1 1004.8h0M340.5 1020.1h0M387.3 1020.1h0M489.6 1001.4h0M478.8 1011.6h0M409.3 1015.4h0M325.6 1021.2h0M433.8 1018.0h0M485.4 1019.2h0M386.0 1020.6h0M490.3 1012.5h0M428.5 1022.7h0M407.7 1017.1h0M415.6 1021.8h0M378.2 1019.7h0M449.6 1020.5h0M473.0 1011.7h0M389.2 1016.9h0M352.1 1019.6h0M351.2 1019.0h0M368.7 1019.9h0M447.7 1019.6h0M433.1 1016.2h0M480.6 1008.7h0M441.6 1014.9h0M378.3 1017.9h0M400.1 1016.5h0M416.4 1018.8h0M401.4 1022.5h0M403.7 1017.6h0M531.1 1000.6h0M492.1 1005.8h0M417.1 1022.7h0M553.0 1009.7h0M391.4 1016.2h0M404.0 1016.6h0M372.6 1019.0h0M364.8 1020.5h0M418.5 1022.1h0M434.6 1012.7h0M442.0 1011.7h0M478.3 1022.0h0M473.7 1020.4h0M426.4 1018.4h0M437.3 1011.0h0M406.5 1020.1h0M424.5 1019.2h0M448.0 1009.6h0M326.8 1021.4h0M485.6 1005.6h0M383.4 1020.0h0M356.3 1021.4h0M400.8 1015.5h0M396.3 1021.3h0M486.6 1015.9h0M459.9 1010.4h0M365.9 1019.0h0M411.3 1023.0h0M388.8 1018.7h0M516.0 999.4h0M472.3 1021.3h0M425.0 1012.5h0M598.8 958.7h0M527.7 1008.7h0M485.4 1007.4h0M493.2 1017.2h0M421.8 1017.8h0M413.9 1014.2h0M457.6 1019.0h0M505.1 1022.1h0M399.4 1022.2h0M383.5 1019.3h0M464.8 1005.8h0M434.7 1013.1h0M457.0 1018.6h0M361.1 1020.0h0M464.8 1016.3h0M539.8 1018.4h0M381.4 1020.1h0M411.9 1022.5h0M479.0 1011.9h0M448.4 1020.0h0M418.0 1014.0h0M398.0 1016.1h0M485.6 1001.9h0M490.9 1016.9h0M461.4 1011.5h0M396.6 1019.8h0M377.7 1021.7h0M529.9 992.5h0M393.9 1016.0h0M582.5 991.1h0M378.1 1022.0h0M469.8 1020.5h0M342.5 1020.3h0M551.6 1001.5h0M421.7 1019.9h0M355.3 1022.3h0M470.7 1005.1h0M489.0 1004.9h0M425.0 1012.8h0M361.4 1020.4h0M382.9 1022.4h0M414.0 1016.6h0M380.2 1020.5h0M404.6 1022.9h0M458.0 1014.7h0M491.7 1005.1h0M373.9 1019.6h0M364.0 1023.1h0M405.8 1022.3h0M407.1 1015.8h0M368.5 1020.4h0M507.2 1007.7h0M527.8 1003.3h0M379.4 1023.2h0M445.5 1009.3h0M386.2 1021.8h0M404.9 1021.1h0M540.8 998.6h0M529.1 1021.9h0M373.2 1022.2h0M475.9 1010.9h0M459.0 1017.5h0M471.7 1005.7h0M461.8 1011.1h0M364.3 1021.1h0M468.8 1004.3h0M508.8 1020.9h0M460.2 1010.6h0M366.2 1020.8h0M414.9 1020.6h0M427.9 1013.8h0M463.0 1016.0h0M541.8 1019.1h0M347.8 1019.9h0M492.8 1009.9h0M420.9 1021.3h0M368.2 1022.6h0M499.0 1002.7h0M486.3 1006.5h0M385.1 1023.2h0M477.7 1016.1h0M393.6 1019.7h0M361.7 1019.4h0M437.0 1014.5h0M514.9 1018.7h0M515.7 1001.6h0M466.8 1019.4h0M485.3 1011.1h0M355.7 1022.4h0M360.7 1018.9h0M510.6 994.1h0M530.3 982.7h0M363.1 1023.1h0M386.9 1022.8h0M355.5 1022.9h0M487.8 999.4h0M518.4 1001.9h0M351.1 1020.3h0M442.8 1017.6h0M457.9 1009.8h0M453.7 1015.7h0M402.8 1017.2h0M376.1 1021.6h0M340.1 1022.8h0M427.9 1012.4h0M451.2 1011.9h0M387.2 1023.2h0M392.5 1017.9h0M449.4 1019.7h0M428.3 1019.8h0M538.6 984.8h0M380.6 1019.0h0M356.7 1021.1h0M586.9 1014.3h0M431.1 1020.9h0M497.2 1022.5h0M407.6 1020.1h0M589.9 999.8h0M560.8 983.4h0M397.6 1020.8h0M439.6 1014.3h0M388.5 1019.8h0M478.3 1001.6h0M362.3 1019.0h0M418.3 1019.3h0M393.0 1018.9h0M351.5 1019.6h0M367.0 1022.5h0M364.7 1021.1h0M550.5 982.4h0M507.8 1011.9h0M461.0 1011.5h0M556.6 1011.7h0M425.9 1014.5h0M444.8 1022.0h0M456.2 1009.7h0M596.7 977.9h0M440.7 1013.9h0M441.3 1016.3h0M408.5 1022.2h0M372.3 1022.3h0M423.1 1021.4h0M361.0 1021.7h0M438.5 1017.5h0M369.9 1018.2h0M345.3 1020.9h0M428.7 1012.3h0M392.1 1021.0h0M468.0 1005.7h0M440.4 1013.0h0M439.8 1015.2h0M476.1 1008.5h0M401.0 1017.5h0M499.3 1017.0h0M353.6 1020.2h0M459.9 1010.4h0M540.9 1012.0h0M398.7 1019.7h0M404.9 1016.3h0M455.5 1020.3h0M384.1 1017.6h0M360.7 1020.3h0M408.7 1019.3h0M354.3 1021.5h0M433.1 1018.4h0M482.2 1011.3h0M462.5 1009.0h0M366.5 1022.2h0M381.6 1020.5h0M390.9 1016.2h0M470.9 1021.0h0M408.7 1014.8h0M460.4 1018.3h0M441.9 1012.4h0M658.6 932.4h0M457.2 1011.5h0M532.2 995.9h0M431.9 1016.3h0M591.2 994.1h0M414.3 1023.2h0M381.5 1021.0h0M411.0 1020.2h0M446.8 1012.6h0M520.3 998.2h0M370.0 1018.9h0M381.2 1021.1h0M470.6 1017.6h0M420.9 1016.4h0M372.4 1020.4h0M398.0 1022.5h0M422.2 1020.6h0M457.6 1013.0h0M378.3 1018.8h0M478.7 1005.1h0M435.8 1016.6h0M399.4 1017.9h0M393.7 1019.6h0M341.4 1022.6h0M369.0 1021.7h0M428.1 1018.7h0M401.8 1019.0h0M547.4 980.6h0M450.1 1019.2h0M424.4 1015.1h0M403.6 1022.9h0M344.3 1020.4h0M561.4 999.3h0M410.7 1022.9h0M398.2 1019.3h0M474.2 1019.8h0M596.4 974.2h0M465.7 1013.5h0M402.9 1023.3h0M370.5 1021.5h0M435.4 1015.3h0M432.3 1013.4h0M414.3 1019.2h0M429.4 1014.8h0M530.0 1004.8h0M417.0 1022.3h0M401.8 1018.4h0M431.3 1016.7h0M490.4 1010.5h0M468.7 1011.7h0M454.7 1010.1h0M427.9 1016.6h0M410.0 1017.1h0M465.4 1008.7h0M387.7 1018.0h0M350.3 1019.6h0M402.4 1018.7h0M421.8 1018.0h0M450.0 1022.4h0M532.6 996.4h0M382.8 1016.8h0M412.3 1021.0h0M439.9 1017.2h0M394.1 1017.5h0M426.9 1012.8h0M355.5 1021.0h0M409.4 1018.2h0M373.8 1022.5h0M489.5 1007.1h0M449.6 1015.6h0M417.9 1021.5h0M412.4 1018.0h0M378.8 1021.2h0M424.0 1018.8h0M339.9 1023.0h0M422.9 1016.3h0M434.9 1018.7h0M469.2 1017.8h0M400.8 1023.3h0M360.6 1020.3h0M366.2 1019.2h0M404.8 1017.7h0M444.2 1019.5h0M360.3 1021.5h0M563.1 1020.7h0M400.7 1019.5h0M423.9 1019.1h0M413.3 1014.9h0M473.8 1014.2h0M340.0 1023.1h0M448.7 1018.6h0M402.1 1020.5h0M475.8 1015.7h0M435.8 1019.7h0M420.5 1017.2h0M438.6 1014.5h0M572.8 981.5h0M529.7 991.0h0M534.3 988.5h0M433.9 1014.2h0M411.7 1014.3h0M355.4 1020.5h0M375.0 1018.8h0M330.3 1021.7h0M510.8 996.7h0M359.4 1018.6h0M380.1 1021.4h0M398.0 1019.2h0M503.5 1020.7h0M472.9 1004.2h0M519.0 994.2h0M516.6 997.9h0M440.6 1014.4h0M376.5 1021.4h0M436.4 1019.6h0M507.5 995.1h0M350.5 1020.4h0M563.3 1009.8h0M396.4 1019.2h0M421.2 1019.1h0M374.2 1022.6h0M459.2 1015.4h0M466.0 1004.6h0M463.8 1019.9h0M347.9 1023.2h0M451.8 1018.9h0M428.1 1017.7h0M363.8 1020.0h0M566.1 980.3h0M473.5 1018.0h0M608.0 947.3h0M510.5 1012.6h0M553.2 993.3h0M471.9 1014.8h0M387.5 1023.0h0M479.4 1010.9h0M530.6 993.3h0M452.2 1007.8h0M399.7 1020.1h0M385.6 1018.6h0M405.1 1018.5h0M484.8 1003.0h0M555.1 1001.2h0M387.0 1020.0h0M456.1 1014.8h0M407.2 1021.7h0M450.0 1020.2h0M443.4 1011.0h0M344.3 1020.0h0M458.9 1016.0h0M444.4 1015.1h0M390.9 1020.7h0M549.0 1004.0h0M488.5 1015.1h0M468.5 1022.1h0M522.8 989.4h0M384.5 1018.2h0M580.3 985.1h0M539.5 989.0h0M389.3 1020.0h0M373.8 1017.6h0M495.3 1015.6h0M542.5 999.9h0M386.8 1020.0h0M380.4 1023.0h0M471.5 1003.4h0M393.1 1019.3h0M375.4 1021.0h0M364.1 1023.3h0M416.0 1016.0h0M433.4 1021.3h0M440.9 1019.1h0M365.6 1021.5h0M379.6 1020.1h0M441.0 1019.4h0M445.0 1015.6h0M391.8 1016.7h0M363.4 1022.0h0M447.8 1016.1h0M362.7 1018.5h0M402.6 1016.3h0M429.8 1016.6h0M372.1 1022.0h0M463.5 1014.7h0M385.7 1022.9h0M407.4 1014.6h0M407.7 1019.2h0M445.5 1009.5h0M386.3 1019.5h0M550.3 974.1h0M498.5 1015.8h0M375.9 1017.6h0M401.4 1022.4h0M401.1 1019.0h0M376.6 1021.8h0M491.9 999.1h0M455.4 1016.0h0M464.5 1007.9h0M415.1 1019.5h0M407.6 1021.5h0M407.3 1014.8h0M378.3 1018.6h0M386.6 1017.3h0M443.3 1015.7h0M326.4 1022.1h0M354.3 1022.6h0M511.3 1000.9h0M576.8 1017.9h0M478.7 1003.7h0M321.0 1020.9h0M461.5 1016.4h0M476.0 1002.5h0M507.7 1009.7h0M361.8 1018.8h0M487.5 1011.8h0M546.7 1008.7h0M527.3 1021.8h0M382.9 1019.5h0M372.7 1021.1h0M493.8 1016.0h0M418.0 1021.4h0M361.4 1021.1h0M436.5 1014.3h0M386.8 1018.8h0M364.9 1018.3h0M392.6 1017.8h0M472.8 1005.5h0M331.5 1022.1h0M382.5 1020.3h0M384.3 1020.8h0M417.9 1013.5h0M451.0 1016.8h0M408.3 1017.3h0M397.4 1021.6h0M365.2 1023.1h0M521.7 1016.8h0M343.3 1019.5h0M408.9 1023.1h0M466.7 1008.8h0M451.0 1019.2h0M413.9 1013.9h0M427.3 1022.3h0M400.5 1019.4h0M397.4 1021.5h0M497.8 997.0h0M458.6 1021.5h0M442.3 1016.6h0M512.2 1018.2h0M366.9 1020.7h0M401.6 1018.5h0M459.4 1012.3h0M441.7 1010.2h0M480.6 1007.3h0M367.8 1021.9h0M473.6 1009.2h0M351.3 1021.7h0M454.3 1020.0h0M404.2 1017.8h0M436.1 1017.1h0M391.4 1020.1h0M472.9 1009.4h0M400.3 1020.9h0M359.6 1021.8h0M328.8 1023.4h0M467.7 1007.7h0M404.7 1021.3h0M428.9 1017.6h0M481.0 1012.1h0M358.5 1020.6h0M473.8 1021.7h0M369.3 1022.5h0M382.3 1022.7h0M425.8 1017.1h0M383.3 1018.1h0M340.9 1020.4h0M395.0 1018.6h0M380.6 1019.8h0M455.7 1022.5h0M378.5 1021.6h0M500.8 1018.1h0M416.9 1022.0h0M480.3 1011.6h0M353.2 1021.5h0M497.6 1021.0h0M378.7 1017.7h0M376.4 1022.4h0M532.3 1013.9h0M436.3 1015.0h0M384.5 1020.9h0M428.0 1018.9h0M419.7 1020.5h0M374.5 1020.1h0M453.1 1008.5h0M485.2 1020.0h0M423.0 1012.4h0M450.2 1016.2h0M347.9 1019.8h0M396.9 1023.0h0M411.2 1021.7h0M418.7 1021.5h0M430.5 1020.4h0M389.9 1020.2h0M359.8 1022.3h0M408.5 1021.4h0M455.4 1010.8h0M365.1 1022.8h0M406.0 1016.5h0M447.2 1016.3h0M362.6 1019.6h0M438.9 1011.5h0M476.9 1021.3h0M368.0 1020.7h0M368.5 1021.2h0M419.5 1013.4h0M550.6 998.3h0M361.1 1019.1h0M399.7 1020.1h0M355.0 1021.0h0M448.4 1015.3h0M324.5 1022.6h0M514.0 1015.3h0M529.3 1004.2h0M452.4 1021.0h0M367.9 1023.3h0M452.7 1011.1h0M499.6 997.5h0M372.3 1020.2h0M432.7 1019.0h0M519.5 989.3h0M395.8 1022.9h0M457.9 1007.8h0M473.6 1019.3h0M372.3 1019.2h0M442.6 1010.7h0M526.9 1012.4h0M478.2 1019.2h0M536.6 980.8h0M511.3 1022.1h0M372.3 1022.8h0M393.1 1019.3h0M436.3 1014.1h0M416.6 1017.4h0M469.7 1014.4h0M369.0 1018.8h0M407.2 1018.2h0M574.8 1010.0h0M384.8 1018.7h0M511.0 992.9h0M481.3 1006.4h0M462.5 1022.3h0M476.7 1020.6h0M473.0 1021.0h0M450.7 1010.8h0M554.7 978.5h0M355.2 1022.0h0M435.1 1018.9h0M416.7 1021.2h0M494.5 1017.6h0M468.4 1004.0h0M424.2 1022.8h0M393.4 1016.2h0M431.6 1018.4h0M353.8 1022.4h0M428.9 1011.8h0M389.4 1022.8h0M391.1 1019.4h0M537.7 1012.3h0M527.5 1017.2h0M380.1 1017.5h0M355.6 1018.9h0M347.3 1021.3h0M462.8 1020.1h0M371.9 1022.0h0M383.1 1019.2h0M607.9 971.6h0M408.8 1019.3h0M448.8 1021.7h0M381.3 1017.3h0M555.9 989.7h0M394.6 1018.2h0M489.4 1017.0h0M498.7 995.2h0M527.0 1014.2h0M401.0 1022.2h0M487.7 1022.6h0M459.6 1019.6h0M495.7 1014.4h0M355.9 1022.6h0M348.5 1022.0h0M454.3 1013.5h0M432.0 1011.9h0M376.3 1020.5h0M373.8 1020.7h0M501.8 1020.8h0M458.4 1019.8h0M402.2 1019.4h0M451.6 1017.8h0M487.6 1008.9h0M450.7 1012.2h0M461.9 1021.2h0M469.4 1005.5h0M395.4 1020.8h0M370.1 1022.5h0M427.7 1014.9h0M484.4 1020.4h0M489.0 1017.4h0M475.9 1005.4h0M378.3 1020.7h0M510.8 991.6h0M351.8 1019.7h0M597.8 962.1h0M463.2 1016.8h0M401.3 1020.8h0M515.8 1015.1h0M423.6 1016.7h0M472.7 1011.1h0M444.9 1014.0h0M456.7 1016.5h0M440.6 1009.7h0M399.6 1021.3h0M418.8 1022.5h0M428.4 1019.5h0M422.7 1016.4h0M536.2 993.0h0M403.2 1018.4h0M369.9 1021.8h0M451.8 1019.9h0M557.9 1004.5h0M372.2 1022.3h0M441.1 1016.7h0M501.7 1010.8h0M476.7 1020.3h0M414.1 1015.9h0M411.3 1014.3h0M428.0 1018.0h0M318.2 1023.0h0M443.8 1011.1h0M451.8 1016.7h0M368.7 1021.5h0M419.0 1021.4h0M387.8 1016.6h0M480.8 1007.8h0M355.9 1020.5h0M499.8 1007.5h0M363.2 1018.9h0M340.3 1023.1h0M455.9 1010.3h0M484.3 1013.1h0M572.6 991.0h0M385.2 1021.4h0M472.3 1015.2h0M404.2 1015.6h0M417.8 1022.5h0M432.9 1012.6h0M356.4 1023.3h0M407.3 1020.1h0M416.0 1022.1h0M541.8 997.8h0M421.4 1020.8h0M420.9 1014.3h0M524.4 1003.7h0M451.3 1013.6h0M496.7 1008.1h0M482.2 1000.4h0M449.6 1010.3h0M451.7 1008.9h0M502.4 1009.0h0M376.4 1019.5h0M414.0 1023.2h0M380.1 1020.7h0M449.2 1011.5h0M388.5 1020.5h0M416.9 1020.6h0M434.9 1020.9h0M412.4 1020.0h0M384.3 1019.2h0M396.5 1018.0h0M400.6 1019.8h0M409.8 1015.4h0M350.0 1021.2h0M474.0 1007.9h0M467.1 1009.9h0M371.0 1021.2h0M581.7 968.2h0M424.0 1012.5h0M368.4 1018.4h0M484.4 1001.5h0M372.1 1023.3h0M372.6 1021.8h0M369.4 1021.8h0M351.1 1020.9h0M385.0 1019.2h0M468.6 1008.2h0M456.5 1013.6h0M442.8 1016.0h0M386.1 1019.7h0M506.0 1011.3h0M367.6 1019.7h0M377.1 1021.9h0M526.4 1004.1h0M494.6 1004.6h0M417.6 1017.7h0M464.5 1016.1h0M439.2 1017.5h0M513.7 1018.1h0M439.5 1015.7h0M356.7 1019.6h0M368.4 1020.7h0M411.3 1017.3h0M476.1 1002.9h0M438.9 1015.2h0M322.0 1021.4h0M477.2 1005.0h0M407.9 1014.4h0M464.9 1015.0h0M399.0 1017.7h0M479.0 1002.6h0M550.8 978.8h0M652.6 946.9h0M365.2 1022.1h0M425.6 1015.6h0M428.3 1018.3h0M421.0 1014.2h0M385.4 1019.9h0M468.4 1021.3h0M688.3 971.4h0M476.3 1003.0h0M350.9 1019.8h0M425.2 1020.3h0M374.3 1018.7h0M381.4 1021.6h0M492.6 1013.0h0M400.0 1018.8h0M434.7 1015.6h0M379.9 1018.6h0M412.3 1019.5h0M489.1 1001.9h0M446.3 1021.6h0M461.4 1019.8h0M393.0 1020.5h0M510.2 1015.0h0M421.0 1017.2h0M363.1 1022.6h0M436.7 1010.6h0M346.0 1020.4h0M467.0 1017.5h0M343.2 1020.8h0" stroke="#00f" stroke-width="4.4" stroke-linecap="round" fill="none" clip-path="url(#cC)"/>
<path d="M378.4 1001.5h0M390.5 1014.1h0M471.4 956.4h0M444.3 938.2h0M400.3 1011.9h0M392.6 1008.7h0M430.5 989.5h0M381.3 1008.6h0M442.6 1005.2h0M359.4 1017.1h0M407.1 981.3h0M499.5 977.4h0M448.5 995.4h0M391.8 1011.5h0M357.2 1015.2h0M393.6 1013.3h0M410.4 1004.3h0M383.7 1004.0h0M476.5 937.3h0M373.6 1014.7h0M358.8 1017.6h0M430.6 964.6h0M488.3 990.8h0M519.2 940.7h0M422.3 997.0h0M524.2 964.5h0M384.7 989.3h0M408.5 975.4h0M392.4 1011.5h0M382.5 1015.6h0M393.5 995.5h0M382.7 1008.2h0M395.6 999.2h0M385.9 995.8h0M355.0 1007.9h0M433.6 986.7h0M371.2 994.9h0M367.5 1015.2h0M377.1 1011.0h0M411.7 982.1h0M387.9 1006.7h0M385.4 1003.2h0M382.9 1011.5h0M412.9 977.6h0M376.3 1007.6h0M414.8 991.3h0M381.0 1011.5h0M483.1 976.7h0M371.8 1011.4h0M490.7 905.9h0M371.5 1005.3h0M375.9 996.8h0M462.1 998.7h0M357.8 1014.4h0M433.8 989.0h0M420.9 1010.3h0M436.7 1003.3h0M371.0 1009.8h0M381.2 987.6h0M446.0 984.2h0M357.1 1015.9h0M495.3 967.5h0M405.3 1012.4h0M334.0 1019.5h0M376.0 1014.6h0M493.5 982.8h0M398.6 1004.1h0M385.0 1004.8h0M402.6 1003.5h0M370.2 1015.9h0M380.1 990.9h0M375.1 1009.7h0M423.2 971.4h0M397.1 1008.6h0M385.9 1005.5h0M531.0 897.5h0M345.0 1018.4h0M513.1 953.5h0M363.3 997.9h0M503.5 967.9h0M392.4 1011.5h0M398.6 1008.0h0M394.5 1010.8h0M417.8 1007.5h0M332.7 1013.8h0M404.5 1002.3h0M496.2 979.5h0M413.1 975.5h0M546.6 809.0h0M450.5 999.6h0M384.7 1011.5h0M444.2 990.9h0M563.5 918.9h0M492.3 928.0h0M387.0 1012.5h0M490.8 986.6h0M430.9 996.2h0M394.1 1012.1h0M353.0 1007.2h0M462.8 992.6h0M319.4 1020.2h0M492.8 973.8h0M412.1 1012.5h0M370.2 1015.9h0M420.4 1005.0h0M404.9 997.0h0M369.4 997.4h0M382.6 1000.9h0M583.3 868.7h0M453.9 996.4h0M455.9 996.6h0M496.2 990.0h0M451.0 947.8h0M521.6 962.4h0M567.7 809.3h0M461.6 967.3h0M433.6 970.6h0M362.3 1017.6h0M355.0 1015.7h0M420.9 977.6h0M371.4 1006.7h0M414.6 997.1h0M393.7 987.4h0M422.3 1007.7h0M397.6 989.4h0M363.1 1003.4h0M411.8 1007.9h0M406.5 977.4h0M366.5 1014.9h0M463.2 1001.4h0M403.3 1003.2h0M375.1 1013.2h0M351.2 1015.7h0M376.7 1014.4h0M347.0 1013.2h0M440.0 994.0h0M394.3 983.4h0M349.5 1015.3h0M370.5 1008.6h0M397.9 1004.3h0M377.5 1008.1h0M447.5 998.3h0M411.2 996.5h0M401.4 989.8h0M551.4 920.9h0M474.7 996.1h0M492.3 935.9h0M414.8 979.5h0M398.0 1008.7h0M367.6 1000.6h0M430.9 1001.2h0M386.6 1007.4h0M484.3 970.3h0M439.8 976.6h0M547.5 794.2h0M438.0 989.2h0M532.6 949.0h0M444.0 1001.9h0M373.2 1010.0h0M376.5 1004.8h0M392.8 1013.1h0M446.3 1002.8h0M406.3 1002.8h0M409.6 1010.6h0M478.3 987.4h0M389.8 981.2h0M466.6 997.8h0M412.2 1008.8h0M465.0 974.3h0M359.5 1008.0h0M459.6 989.4h0M397.0 991.8h0M409.2 991.4h0M562.4 817.3h0M367.8 1011.3h0M363.8 1008.7h0M385.1 999.2h0M404.8 1003.8h0M413.3 978.4h0M348.6 1006.8h0M430.3 998.9h0M458.0 992.4h0M520.7 955.0h0M354.8 1007.8h0M370.3 1012.5h0M383.0 1009.3h0M445.8 962.0h0M540.2 847.0h0M392.2 1008.8h0M373.5 1002.5h0M528.1 902.6h0M376.2 1010.2h0M401.7 985.6h0M399.4 993.9h0M404.8 988.4h0M452.2 1002.0h0M437.7 992.7h0M395.1 1006.5h0M413.9 995.2h0M408.7 1004.3h0M380.6 1012.3h0M399.5 1009.9h0M403.2 1013.8h0M479.5 997.7h0M376.4 1012.1h0M384.9 1015.1h0M364.5 1016.2h0M364.0 1017.4h0M416.2 1011.4h0M354.8 1001.5h0M414.2 1003.8h0M352.4 1017.2h0M561.2 880.3h0M351.7 1016.4h0M466.2 934.6h0M405.1 1011.1h0M472.8 945.0h0M370.9 1004.7h0M454.8 972.2h0M351.8 1008.0h0M412.4 1006.3h0M354.6 1010.3h0M453.7 992.4h0M465.5 989.8h0M371.3 1007.3h0M474.9 984.9h0M399.6 1012.5h0M399.1 1007.5h0M440.2 991.1h0M445.5 968.4h0M377.5 1013.0h0M317.5 1016.9h0M361.8 1017.4h0M387.5 1011.7h0M354.8 1009.1h0M530.3 839.3h0M367.7 1000.8h0M392.8 1007.1h0M420.4 1009.3h0M447.6 999.7h0M386.6 987.5h0M442.4 1005.4h0M394.4 1009.3h0M507.9 976.8h0M455.3 992.0h0M409.4 1002.0h0M458.1 999.8h0M401.2 994.7h0M405.9 1012.0h0M367.5 991.8h0M457.3 996.2h0M369.3 1015.5h0M474.5 986.7h0M426.4 1010.3h0M523.1 968.5h0M403.8 1011.3h0M441.0 1003.1h0M355.9 1002.0h0M369.2 1016.7h0M442.9 963.8h0M363.2 1016.6h0M370.0 995.8h0M356.9 1000.1h0M400.4 996.3h0M532.3 956.9h0M389.1 991.7h0M490.3 967.2h0M487.8 952.0h0M518.8 967.1h0M409.3 974.3h0M401.9 1007.8h0M395.6 1012.5h0M497.2 929.8h0M428.4 980.4h0M440.4 1008.0h0M405.0 1000.4h0M455.7 965.7h0M405.2 1011.6h0M395.5 983.8h0M366.5 1015.8h0M476.4 992.6h0M428.9 998.2h0M527.4 973.9h0M414.0 1011.9h0M332.5 1010.0h0M388.3 1012.8h0M426.2 1005.9h0M420.8 978.2h0M484.9 919.9h0M414.5 1009.3h0M547.3 956.5h0M489.4 993.4h0M341.6 1016.8h0M401.4 1008.8h0M427.4 976.9h0M355.2 1003.8h0M436.9 988.0h0M393.7 985.9h0M442.2 949.6h0M349.0 1010.4h0M354.1 997.6h0M404.9 1000.9h0M429.1 973.0h0M386.0 1000.4h0M384.2 1004.5h0M448.2 996.8h0M450.8 995.4h0M359.5 1014.9h0M481.1 993.0h0M385.1 997.1h0M507.7 949.1h0M325.1 1011.7h0M425.4 998.4h0M398.9 979.6h0M411.0 1006.8h0M353.9 1012.7h0M463.8 966.9h0M440.3 955.7h0M387.1 988.5h0M400.4 993.7h0M381.1 985.4h0M365.8 1016.6h0M429.5 1008.4h0M457.0 1001.9h0M437.9 986.0h0M407.8 984.8h0M337.9 1012.6h0M401.2 1009.2h0M397.4 985.9h0M458.9 995.0h0M440.1 967.5h0M436.7 1003.1h0M445.7 952.0h0M383.0 1010.8h0M326.9 1017.4h0M453.0 970.3h0M474.6 969.3h0M376.1 1000.4h0M388.5 997.1h0M433.3 994.2h0M403.3 1007.2h0M407.0 1005.1h0M385.2 983.0h0M457.9 944.1h0M389.3 1011.5h0M458.1 1002.8h0M354.4 1008.7h0M369.7 1016.4h0M395.2 994.5h0M456.5 993.0h0M354.2 1017.7h0M457.4 985.3h0M403.5 983.2h0M352.8 998.5h0M376.1 1008.7h0M383.9 992.6h0M379.1 1015.4h0M425.4 992.7h0M387.0 1011.3h0M361.4 1005.7h0M494.4 972.6h0M370.8 999.2h0M376.8 1015.2h0M369.5 989.9h0M389.3 989.5h0M442.0 971.0h0M417.3 1010.0h0M363.4 1013.6h0M424.6 997.9h0M386.5 997.4h0M362.4 994.1h0M430.5 1002.7h0M423.1 974.9h0M461.0 1002.7h0M367.8 1015.6h0M426.7 1005.6h0M449.5 994.7h0M502.5 941.8h0M464.1 970.7h0M432.6 997.9h0M384.0 995.0h0M435.6 994.9h0M394.1 984.6h0M363.0 1000.9h0M481.7 982.6h0M381.7 1011.2h0M358.4 1011.3h0M435.4 977.9h0M428.1 1010.2h0M490.2 964.5h0M389.8 1003.7h0M418.3 993.7h0M357.3 1001.6h0M396.8 1009.2h0M506.2 985.6h0M366.8 1001.4h0M408.3 982.6h0M406.3 1011.5h0M612.9 726.9h0M386.2 998.9h0M429.2 999.0h0M389.2 1011.0h0M406.0 1007.6h0M422.3 989.7h0M344.6 1011.2h0M354.5 1006.7h0M350.2 1007.2h0M434.2 1000.2h0M390.0 1005.5h0M426.7 981.6h0M496.1 974.1h0M392.2 991.6h0M409.4 1007.2h0M395.9 1009.9h0M422.2 1000.3h0M356.4 1017.8h0M383.3 1013.5h0M461.9 990.1h0M435.7 1009.0h0M434.2 998.3h0M378.7 1008.0h0M401.8 1012.1h0M363.8 1009.3h0M411.8 974.7h0M552.8 940.0h0M430.2 1004.0h0M523.8 923.0h0M357.0 1016.4h0M438.6 983.2h0M382.8 993.2h0M420.4 1005.3h0M364.3 1009.5h0M465.0 1001.4h0M522.3 934.0h0M457.1 943.8h0M376.9 1006.7h0M518.7 966.7h0M396.9 1005.9h0M353.1 1005.6h0M410.7 989.9h0M456.9 989.9h0M457.2 991.8h0M382.0 1005.9h0M392.0 998.5h0M375.5 996.2h0M353.6 1011.6h0M403.7 1000.6h0M357.6 1017.2h0M382.9 1011.4h0M355.2 1013.6h0M387.6 1009.4h0M453.6 1002.6h0M504.4 981.4h0M477.5 966.2h0M428.8 1009.6h0M352.6 1014.3h0M506.5 978.1h0M428.1 991.0h0M370.3 1010.9h0M431.7 975.1h0M457.1 926.0h0M400.7 1008.6h0M408.1 984.0h0M409.4 990.2h0M412.4 990.1h0M340.1 1018.7h0M427.2 977.0h0M450.3 977.2h0M441.8 1000.9h0M539.0 911.1h0M423.4 960.8h0M460.5 1003.7h0M372.1 1002.1h0M457.3 1004.1h0M425.9 1001.7h0M476.1 957.4h0M527.5 949.4h0M486.6 990.4h0M398.9 979.8h0M430.2 985.7h0M382.8 983.6h0M390.3 1011.2h0M453.0 1000.5h0M400.2 996.6h0M411.9 999.0h0M352.6 1015.7h0M543.8 943.0h0M414.2 975.7h0M443.0 977.9h0M437.5 995.5h0M394.7 997.4h0M354.8 1010.5h0M456.4 987.8h0M382.6 1006.3h0M382.6 1011.5h0M419.5 999.2h0M464.3 968.6h0M570.6 843.9h0M542.3 963.0h0M438.7 1000.2h0M392.7 1006.4h0M367.4 1010.6h0M435.7 1000.7h0M500.9 981.5h0M367.1 1004.5h0M442.8 986.4h0M352.8 1006.0h0M440.4 954.4h0M483.5 964.5h0M344.2 1017.6h0M394.4 992.6h0M364.7 1009.5h0M384.2 1004.6h0M394.8 994.4h0M381.1 1007.2h0M400.5 973.4h0M433.3 1005.8h0M401.5 1005.5h0M481.4 979.2h0M424.1 979.7h0M429.8 997.0h0M376.2 995.7h0M534.0 935.7h0M469.9 948.9h0M470.9 990.3h0M459.3 993.0h0M375.3 1010.4h0M439.8 988.2h0M380.6 1010.3h0M419.7 995.9h0M420.4 1008.7h0M467.2 997.4h0M356.3 995.7h0M386.3 988.1h0M352.1 1011.4h0M402.6 1009.5h0M437.0 983.3h0M398.8 981.4h0M374.1 1012.3h0M352.3 1015.4h0M447.1 934.6h0M406.5 978.8h0M427.0 968.5h0M449.2 949.6h0M412.6 1006.8h0M476.4 962.1h0M388.2 1003.3h0M462.4 918.5h0M354.4 1002.9h0M472.5 997.9h0M374.2 1003.0h0M416.0 998.2h0M438.5 1006.6h0M358.3 1016.3h0M362.2 1016.5h0M377.9 1000.4h0M524.7 973.1h0M429.8 1002.9h0M421.5 976.5h0M359.2 1012.0h0M398.9 1013.0h0M406.4 979.4h0M449.2 1005.0h0M407.8 1009.4h0M350.6 1014.8h0M519.6 975.7h0M351.4 1004.7h0M412.1 998.4h0M536.9 924.9h0M376.1 1007.1h0M490.2 966.4h0M418.6 979.3h0M368.9 1013.1h0M445.4 1005.4h0M440.9 1006.6h0M366.1 1008.9h0M340.9 1018.5h0M398.7 994.4h0M364.2 1004.5h0M366.2 998.0h0M369.6 990.1h0M451.6 990.7h0M376.2 1001.7h0M397.9 1003.5h0M474.8 979.8h0M415.6 986.9h0M427.0 1002.6h0M422.0 982.3h0M434.1 1006.7h0M435.8 1000.9h0M339.7 1005.2h0M378.8 1012.0h0M403.4 1010.1h0M561.8 923.5h0M423.9 980.4h0M493.2 966.1h0M410.4 1009.0h0M412.7 1007.3h0M451.3 984.5h0M447.1 986.1h0M351.7 1017.5h0M427.9 978.1h0M388.8 1005.9h0M463.6 980.7h0M642.4 662.5h0M494.0 886.2h0M510.9 911.3h0M463.6 989.8h0M361.8 1000.9h0M459.3 1000.4h0M367.9 1016.6h0M405.8 1013.2h0M381.3 1000.4h0M353.8 1017.5h0M380.1 1011.8h0M392.6 985.5h0M491.6 984.0h0M338.7 1012.3h0M384.3 988.8h0M395.6 1011.2h0M529.3 971.3h0M363.1 1014.9h0M396.1 1004.2h0M429.0 1004.5h0M397.0 1008.8h0M417.0 979.1h0M349.1 1011.5h0M373.0 1006.5h0M362.0 1014.7h0M386.2 1010.0h0M463.2 997.6h0M428.1 975.2h0M452.3 986.3h0M375.2 998.5h0M399.1 1012.1h0M460.0 968.1h0M433.7 1007.1h0M435.9 987.4h0M493.1 939.5h0M384.3 1008.7h0M440.5 970.5h0M486.5 979.6h0M391.5 981.5h0M437.9 1006.4h0M354.7 995.9h0M410.8 988.8h0M475.1 987.2h0M414.8 999.2h0M452.1 984.9h0M435.5 961.6h0M338.5 1015.5h0M380.8 996.5h0M405.3 993.1h0M484.9 987.8h0M406.5 1005.7h0M394.9 1011.6h0M385.3 1005.4h0M418.5 979.7h0M371.6 1007.9h0M400.9 991.6h0M376.4 995.5h0M363.6 1000.4h0M540.6 940.9h0M403.8 994.3h0M382.9 1015.6h0M505.0 879.3h0M405.4 1004.1h0M434.3 971.0h0M376.3 1006.2h0M413.3 986.4h0M430.8 986.9h0M366.5 1014.0h0M407.9 999.2h0M410.5 1002.2h0M398.8 998.8h0M361.5 1002.0h0M507.1 910.3h0M471.2 994.0h0M397.0 989.5h0M376.2 1009.9h0M388.2 1012.9h0M437.5 997.0h0M457.4 980.5h0M460.4 976.1h0M413.4 973.2h0M352.9 1016.9h0M362.7 1012.7h0M362.6 1000.4h0M388.0 1001.5h0M562.1 924.6h0M366.1 993.9h0M434.5 985.9h0M484.8 977.0h0M361.5 1016.0h0M414.2 1002.6h0M470.0 993.5h0M385.0 1012.7h0M471.3 996.6h0M439.1 976.3h0M343.7 1000.1h0M491.1 975.0h0M375.0 1016.0h0M404.2 976.9h0M397.6 1004.3h0M464.4 945.4h0M477.3 995.6h0M352.4 1016.1h0M392.3 1010.9h0M376.8 1014.1h0M422.7 1003.3h0M372.9 1008.4h0M407.9 978.6h0M472.3 995.5h0M380.6 1005.2h0M392.1 1010.6h0M501.0 970.0h0M410.0 997.4h0M517.9 981.6h0M338.2 1016.0h0M423.3 1001.4h0M356.1 1006.1h0M416.2 1003.0h0M366.4 1014.9h0M460.2 979.3h0M429.0 1003.1h0M374.1 1012.8h0M417.8 1003.0h0M504.4 911.1h0M355.5 1016.4h0M367.8 1007.9h0M440.3 942.7h0M356.3 1016.9h0M379.1 1002.7h0M429.3 998.5h0M397.9 1009.5h0M365.8 1013.7h0M368.6 1008.8h0M376.6 1015.5h0M404.4 1003.6h0M345.5 1011.0h0M394.2 1008.9h0M586.4 923.6h0M440.0 996.1h0M355.0 999.2h0M508.1 985.7h0M408.5 1008.9h0M453.7 1000.2h0M386.7 986.9h0M414.5 1006.3h0M350.4 1010.3h0M393.2 999.1h0M513.0 964.8h0M456.5 981.1h0M463.2 982.0h0M404.4 988.2h0M539.4 962.5h0M425.4 955.5h0M431.6 999.9h0M502.7 975.1h0M379.4 1002.7h0M436.5 1000.4h0M382.5 1010.4h0M428.9 977.3h0M405.7 990.3h0M499.9 947.7h0M403.0 997.7h0M420.8 994.8h0M415.5 1010.0h0M501.9 979.2h0M424.0 1001.0h0M354.6 1008.9h0M383.2 1006.0h0M399.0 986.9h0M381.2 1010.9h0M431.6 999.1h0M369.1 999.8h0M327.9 1014.1h0M489.3 944.4h0M371.1 990.4h0M412.2 978.4h0M408.6 991.8h0M417.2 974.9h0M491.3 918.3h0M326.7 1019.2h0M400.1 1001.7h0M490.5 919.0h0M370.9 1011.9h0M368.8 1005.5h0M368.5 1011.6h0M396.4 994.2h0M412.0 1008.7h0M489.7 943.1h0M429.2 981.5h0M367.8 999.2h0M426.2 989.4h0M378.2 987.0h0M388.6 1014.3h0M408.4 972.7h0M494.6 993.2h0M360.9 997.6h0M355.6 1015.6h0M319.7 1011.9h0M389.8 1002.7h0M456.9 949.9h0M456.2 993.2h0M423.1 988.0h0M399.0 989.9h0M392.1 1014.6h0M463.4 960.2h0M379.5 1006.0h0M362.9 1004.1h0M332.5 1016.1h0M356.5 1004.9h0M346.6 1007.3h0M485.8 930.6h0M408.6 1010.0h0M360.0 1009.7h0M386.7 984.6h0M380.8 997.5h0M344.8 1016.0h0M413.0 1009.4h0M351.4 1004.8h0M430.3 1008.2h0M435.5 992.5h0M414.5 1011.5h0M478.6 960.1h0M371.7 1016.2h0M421.4 1006.9h0M517.6 953.6h0M469.3 984.4h0M369.0 991.6h0M420.8 986.1h0M494.4 987.6h0M378.5 1002.0h0M378.4 1015.7h0M418.1 994.0h0M371.5 994.5h0M443.5 976.2h0M396.6 976.3h0M377.0 1008.9h0M414.9 1001.6h0M556.5 911.0h0M373.6 1013.8h0M357.1 999.9h0M413.5 994.7h0M458.4 970.3h0M359.4 1006.6h0M527.2 921.3h0M415.2 1000.4h0M448.8 1004.0h0M479.4 969.3h0M434.7 990.0h0M394.3 995.2h0M382.0 1012.0h0M402.8 991.8h0M413.9 1001.6h0M476.2 977.8h0M401.0 1005.0h0M420.6 1007.0h0M411.5 1008.9h0M384.6 1013.3h0M449.0 984.4h0M402.8 984.0h0M372.2 1000.8h0M417.6 968.5h0M480.3 993.4h0M438.4 1004.3h0M489.9 986.9h0M327.5 1005.8h0M367.8 1006.8h0M358.0 996.5h0M455.0 981.3h0M354.1 1002.0h0M503.9 957.9h0M393.9 1013.7h0M429.0 1009.5h0M493.6 887.5h0M417.9 1007.1h0M362.0 995.0h0M496.7 933.6h0M475.0 969.5h0M463.4 956.5h0M486.0 985.1h0M373.6 1011.7h0M396.5 997.4h0M374.7 1010.0h0M435.3 997.2h0M399.3 983.5h0M389.0 982.8h0M426.4 964.7h0M435.6 993.5h0M392.8 1013.2h0M404.6 997.4h0M424.3 1001.3h0M472.9 974.3h0M347.2 1000.9h0M369.1 1002.7h0M427.8 1004.9h0M502.8 989.0h0M432.3 957.3h0M491.2 992.4h0M404.7 980.5h0M361.7 1017.6h0M382.4 983.9h0M367.1 1007.7h0M448.5 983.8h0M471.7 999.3h0M380.1 1014.8h0M512.2 963.4h0M383.1 1015.1h0M416.3 1008.1h0M392.7 990.9h0M539.2 868.1h0M425.9 982.6h0M445.5 978.9h0M364.3 1006.2h0M391.4 1007.7h0M417.3 997.5h0M393.5 1011.9h0M360.7 1006.9h0M419.1 990.8h0M443.0 982.5h0M458.3 944.8h0M427.6 1007.5h0M411.1 1010.1h0M391.2 1015.1h0M362.6 1009.6h0M359.0 1015.4h0M384.0 994.7h0M472.6 1000.2h0M342.7 1012.1h0M461.6 969.2h0M379.0 1001.8h0M425.9 973.5h0M379.0 1014.2h0M564.6 911.3h0M407.7 979.4h0M363.6 1011.0h0M436.5 1003.8h0M467.0 995.8h0M387.1 1015.2h0M456.1 964.5h0M383.0 1006.7h0M398.7 1011.4h0M368.4 1003.4h0M368.4 1016.4h0M466.9 996.9h0M407.7 1008.7h0M541.3 961.0h0M449.4 1005.1h0M480.6 931.2h0M429.5 1006.3h0M470.9 977.1h0M418.0 999.5h0M464.8 977.4h0M468.1 978.1h0M391.7 1007.3h0M425.0 1000.0h0M388.4 1006.6h0M475.2 959.1h0M467.1 941.8h0M358.9 1017.9h0M453.2 968.0h0M350.2 1005.3h0M402.1 1012.8h0M460.8 950.5h0M358.1 1004.0h0M421.8 963.6h0M457.0 1003.3h0M389.3 1005.2h0M427.2 999.5h0M390.0 1009.6h0M385.2 1014.5h0M403.9 983.4h0M436.0 950.4h0M579.0 934.5h0M482.2 949.3h0M499.2 982.3h0M454.1 970.8h0M360.0 1004.6h0M365.9 1013.5h0M367.4 997.1h0M392.2 1009.8h0M433.6 1006.0h0M444.2 1007.1h0M382.7 993.9h0M456.2 987.0h0M439.7 966.5h0M383.8 1015.1h0M389.1 1003.0h0M352.9 1013.4h0M580.6 934.3h0M438.8 1001.9h0M473.0 995.7h0M346.0 1016.0h0M379.2 1015.9h0M400.1 1013.0h0M442.5 985.4h0M400.3 1004.7h0M479.8 987.8h0M381.1 997.5h0M413.7 1003.1h0M498.3 986.1h0M554.9 938.4h0M362.6 1005.9h0M369.5 1008.3h0M367.2 1016.8h0M452.2 940.1h0M468.6 976.1h0M463.0 927.7h0M394.5 1013.8h0M418.8 1001.7h0M524.5 970.4h0M402.7 989.8h0M359.3 1014.1h0M556.2 811.1h0M369.4 1012.4h0M362.8 1000.1h0M408.0 1002.1h0M383.4 990.0h0M419.0 991.3h0M467.6 983.1h0M420.2 1001.1h0M544.4 963.0h0M422.3 1004.1h0M533.2 943.8h0M519.0 956.6h0M503.5 940.0h0M430.1 978.2h0M420.7 1005.8h0M410.3 1001.7h0M455.1 1003.9h0M430.1 1000.0h0M358.0 1013.9h0M416.2 1005.0h0M405.1 1011.1h0M425.0 976.4h0M407.9 1010.0h0M493.9 991.7h0M400.3 981.8h0M441.7 996.3h0M444.3 1006.6h0M439.5 961.2h0M457.8 938.5h0M363.9 1011.9h0M385.0 1001.9h0M434.0 999.6h0M482.7 924.1h0M371.7 1005.9h0M481.8 951.7h0M424.3 984.6h0M406.7 1001.3h0M389.4 991.7h0M451.6 982.2h0M405.6 1001.3h0M477.0 923.6h0M503.1 957.7h0M428.9 963.7h0M465.4 999.8h0M416.1 984.0h0M463.9 999.7h0M423.9 1008.5h0M391.7 1012.4h0M399.0 987.1h0M431.5 998.2h0M510.5 982.9h0M373.7 1000.7h0M370.8 1016.4h0M410.8 999.2h0M394.0 1007.4h0M381.6 1009.4h0M542.9 902.5h0M404.1 991.0h0M399.8 1011.0h0M424.1 985.8h0M372.5 1000.5h0M429.0 1004.9h0M484.2 974.5h0M407.4 986.8h0M374.5 997.5h0M394.2 995.9h0M541.5 823.4h0M430.6 985.6h0M481.4 953.5h0M497.1 985.2h0M424.4 984.6h0M443.3 994.5h0M402.2 1011.6h0M394.7 996.2h0M400.3 979.4h0M424.3 986.8h0M503.8 986.3h0M383.1 995.8h0M391.4 979.4h0M399.5 986.4h0M424.3 998.1h0M350.3 1004.1h0M502.4 984.7h0M366.6 1010.8h0M403.2 1013.2h0M354.9 1004.3h0M460.2 995.1h0M468.2 952.1h0M417.1 986.0h0M370.4 999.8h0M372.4 1004.0h0M382.4 1014.4h0M490.4 993.1h0M433.0 1003.1h0M584.0 919.5h0M391.6 984.9h0M414.4 996.7h0M476.8 997.7h0M436.0 1001.5h0M396.4 1009.7h0M363.2 1009.9h0M390.9 1012.6h0M380.9 1000.7h0M417.0 983.3h0M388.3 1013.4h0M433.9 980.8h0M402.3 986.7h0M414.0 983.9h0M358.8 1014.9h0M376.9 1011.3h0M464.1 998.3h0M389.9 1014.5h0M412.2 985.5h0M393.8 1013.1h0M370.6 1015.6h0M475.3 979.2h0M384.4 994.6h0M401.1 1001.1h0M400.1 1003.7h0M440.0 987.1h0M368.5 1010.1h0M439.2 996.4h0M495.5 985.6h0M443.7 984.0h0M368.8 1015.2h0M490.2 987.1h0M420.7 970.3h0M468.8 973.5h0M335.6 1001.5h0M386.3 993.9h0M471.4 980.5h0M368.3 1015.7h0M401.7 986.3h0M446.0 1002.2h0M512.5 941.5h0M427.7 997.6h0M550.6 889.5h0M346.1 1018.1h0M455.0 945.0h0M432.9 994.3h0M400.5 1012.5h0M481.6 997.0h0M444.5 1002.1h0M409.6 1008.5h0M377.2 1016.3h0M436.5 1003.5h0M395.4 1004.4h0M520.1 958.1h0M435.7 1002.5h0M459.5 977.4h0M604.8 754.9h0M398.6 1003.4h0M511.2 949.6h0M370.8 1017.0h0M377.8 996.2h0M337.8 1004.6h0M350.2 1013.9h0M454.8 987.5h0M414.9 992.3h0M478.1 997.6h0M463.3 964.5h0M503.6 857.8h0M425.3 999.3h0M538.9 937.4h0M434.1 958.7h0M374.4 1014.9h0M433.9 1006.0h0M380.3 1013.7h0M483.9 955.0h0M406.6 1008.0h0M490.7 969.3h0M362.9 1013.6h0M500.5 952.8h0M364.1 1016.6h0M481.0 949.6h0M503.7 981.4h0M405.3 1009.9h0M462.7 982.4h0M377.2 991.4h0M472.4 981.4h0M368.2 1002.0h0M392.5 1007.2h0M377.7 1004.2h0M362.7 1017.3h0M358.2 997.9h0M391.9 989.7h0M386.6 1013.1h0M466.5 997.7h0M415.5 1000.7h0M400.2 1001.7h0M391.6 1009.8h0M418.2 1002.1h0M451.4 998.6h0M336.9 1003.8h0M455.9 965.4h0M374.8 1013.5h0M406.7 983.1h0M397.2 1003.7h0M459.7 958.4h0M409.1 996.8h0M402.1 991.0h0M462.9 988.4h0M381.5 1009.7h0M505.1 965.1h0M467.4 979.2h0M382.9 1011.9h0M457.5 997.4h0M416.4 1005.9h0M333.0 1019.4h0M363.1 1002.5h0M378.3 999.8h0M417.9 967.3h0M372.4 1011.9h0M475.3 958.2h0M381.3 1000.3h0M394.9 1013.9h0M367.6 1013.3h0M444.3 997.8h0M432.3 988.3h0M552.2 911.7h0M450.6 999.0h0M393.8 1003.2h0M434.7 1002.6h0M381.5 1010.4h0M370.1 1008.7h0M405.9 1011.3h0M354.4 1017.6h0M375.2 1016.5h0M388.2 985.8h0M391.8 986.6h0M458.7 1003.9h0M579.7 914.9h0M462.3 985.1h0M431.5 1001.9h0M463.7 943.2h0M367.1 996.9h0M685.9 433.3h0M438.5 1002.8h0M367.2 996.9h0M431.2 1006.8h0M461.2 1001.8h0M461.5 997.2h0M463.6 947.6h0M368.3 1003.7h0M362.8 994.0h0M350.4 1014.6h0M373.6 1002.6h0M445.5 1002.1h0M480.2 996.5h0M498.3 964.3h0M461.4 994.7h0M493.6 894.8h0M416.9 977.3h0M446.8 985.5h0M355.4 1014.8h0M423.0 1007.2h0M405.1 989.9h0M365.6 1013.2h0M492.5 991.7h0M438.1 993.4h0M381.0 1012.9h0M395.8 1006.3h0M429.9 952.7h0M409.7 1010.1h0M465.9 992.1h0M470.7 969.7h0M413.3 1007.7h0M387.8 984.4h0M391.3 1014.5h0M395.5 1007.7h0M411.0 981.3h0M478.2 994.9h0M371.8 1015.8h0M372.9 1004.7h0M363.4 1012.0h0M591.5 899.7h0M409.1 1001.8h0M445.4 956.1h0M478.0 990.8h0M437.1 985.2h0M463.7 952.7h0M555.9 890.7h0M367.5 1015.4h0M362.2 1002.2h0M406.9 994.4h0M362.1 1013.5h0M472.4 979.9h0M397.1 999.5h0M375.4 1012.7h0M373.9 1014.7h0M366.8 1015.9h0M383.3 1008.1h0M403.8 1011.5h0M516.7 936.6h0M373.4 989.9h0M319.9 1015.3h0M466.4 948.8h0M339.0 1016.8h0M339.5 1018.2h0M420.6 978.2h0M383.4 1006.7h0M427.0 1005.5h0M394.5 1009.1h0M460.0 981.4h0M501.9 972.8h0M319.1 1015.7h0M448.2 999.4h0M399.0 989.7h0M427.2 990.7h0M461.9 947.1h0M508.9 943.6h0M502.9 937.6h0M479.3 989.6h0M361.4 1015.4h0M400.9 1013.8h0M354.9 1017.5h0M440.7 970.6h0M405.1 1001.3h0M392.9 1004.6h0M378.8 992.1h0M380.7 1007.6h0M401.5 1008.7h0M480.6 965.7h0M365.2 993.6h0M517.5 907.5h0M343.1 1015.5h0M475.8 979.2h0M474.4 947.1h0M468.0 997.2h0M456.5 969.7h0M514.1 889.0h0M395.9 1003.4h0M426.5 974.4h0M416.1 1011.0h0M454.4 994.2h0M361.5 1002.4h0M360.6 1013.8h0M450.2 1000.7h0M374.4 998.4h0M373.9 1016.7h0M437.2 986.6h0M434.0 993.2h0M363.1 1016.0h0M417.0 971.3h0M380.8 1003.9h0M370.2 994.8h0M350.9 1016.1h0M530.3 971.7h0M426.4 1001.3h0M580.7 601.8h0M402.2 999.0h0M370.1 1014.3h0M402.8 998.1h0M393.5 1003.3h0M512.8 980.2h0M425.7 977.4h0M395.6 982.1h0M362.0 1010.9h0M382.3 986.9h0M493.7 973.6h0M362.7 995.9h0M415.5 1000.0h0M392.8 992.4h0M406.9 1010.4h0M589.3 900.2h0M541.9 917.4h0M450.0 962.4h0M378.8 1014.8h0M381.2 1014.5h0M395.3 1003.9h0M511.2 981.3h0M400.3 997.3h0M393.6 978.5h0M367.0 1015.7h0M496.1 969.3h0M397.6 986.2h0M413.5 999.5h0M508.8 981.3h0M417.4 1007.3h0M361.4 1017.5h0M383.3 1009.9h0M433.3 984.7h0M473.2 945.8h0M429.8 989.8h0M367.1 1016.5h0M394.6 1012.8h0M421.3 983.1h0M388.5 1005.3h0M346.2 1018.8h0M361.7 1000.3h0M471.1 983.1h0M374.8 1011.7h0M539.1 959.9h0M379.7 1006.9h0M377.4 1016.0h0M375.2 1003.9h0M668.9 191.4h0M337.8 1009.6h0M425.0 1007.5h0M363.5 1012.6h0M406.9 989.0h0M347.7 1005.7h0M402.8 995.6h0M433.2 994.7h0M486.8 981.6h0M432.9 1001.7h0M391.1 981.3h0M353.2 1004.4h0M454.0 957.2h0M367.4 998.6h0M499.1 983.0h0M434.6 1006.5h0M350.3 1012.5h0M493.0 940.3h0M381.3 1016.2h0M533.3 932.6h0M416.4 975.7h0M411.8 972.8h0M388.5 1000.1h0M615.2 842.0h0M432.1 983.5h0M415.1 994.9h0M433.9 1009.3h0M427.6 993.9h0M382.4 1010.8h0M437.8 950.4h0M394.7 999.7h0M551.8 960.6h0M377.0 995.8h0M368.9 1005.1h0M397.0 1013.2h0M418.5 1011.1h0M444.9 995.8h0M429.2 1004.6h0M402.2 1011.0h0M412.1 1004.0h0M366.8 1014.4h0M388.7 1014.7h0M396.8 1006.3h0M478.4 931.5h0M380.7 1009.2h0M458.4 993.9h0M367.3 991.2h0M382.7 1007.2h0M497.5 924.7h0M446.8 1001.6h0M326.0 1013.1h0M457.1 959.1h0M521.0 978.6h0M382.8 1008.4h0M474.6 996.1h0M364.5 1016.3h0M357.3 1010.6h0M360.0 1016.6h0M390.7 1011.9h0M494.0 988.2h0M428.3 995.9h0M350.6 1008.0h0M385.1 1006.2h0M453.9 986.9h0M405.1 982.4h0M430.0 992.9h0M474.6 982.4h0M513.1 968.1h0M518.0 851.0h0M356.6 1013.6h0M450.7 955.4h0M460.6 976.8h0M351.0 1009.8h0M481.8 971.0h0M467.9 933.5h0M479.8 993.9h0M423.6 988.0h0M431.0 976.9h0M521.3 951.1h0M368.5 1012.6h0M397.7 992.5h0M360.4 1014.6h0M394.1 1013.3h0M488.7 985.6h0M480.8 987.6h0M390.6 1010.0h0M363.5 1000.8h0M472.0 982.9h0M415.4 985.1h0M359.4 1004.3h0M440.9 1006.9h0M434.8 990.5h0M423.2 1000.1h0M409.4 1012.6h0M475.8 991.9h0M383.4 1015.2h0M453.9 1000.2h0M445.3 996.3h0M424.1 1002.5h0M489.7 872.8h0M400.2 1007.6h0M491.2 978.2h0M380.3 1000.7h0M426.9 978.9h0M399.6 1008.2h0M338.8 1002.4h0M397.9 993.6h0M370.8 1009.7h0M430.5 985.7h0M382.9 1001.5h0M436.9 954.4h0M469.0 964.2h0M473.7 994.8h0M374.4 993.4h0M494.1 987.2h0M474.8 990.6h0M430.1 982.3h0M488.5 958.3h0M402.7 992.4h0M381.0 999.4h0M390.0 990.5h0M432.0 992.7h0M417.8 980.9h0M344.5 1011.9h0M447.7 1004.3h0M410.9 1003.8h0M396.6 1005.7h0M366.1 1001.8h0M365.3 1011.7h0M433.9 972.3h0M447.4 1003.7h0M385.6 1015.2h0M427.2 979.8h0M364.3 1006.4h0M424.3 991.7h0M392.1 1001.0h0M432.4 964.4h0M418.8 995.8h0M433.9 976.4h0M387.6 1011.0h0M579.1 884.9h0M397.2 982.4h0M431.5 1000.5h0M418.2 1007.2h0M496.3 974.6h0M401.8 999.5h0M493.3 930.0h0M414.1 996.3h0M450.2 991.9h0M445.5 965.6h0M371.3 1013.4h0M367.3 1016.8h0M343.0 1003.6h0M379.0 1001.8h0M425.0 992.7h0M377.1 1014.3h0M372.5 1010.6h0M365.6 1005.8h0M363.7 1012.3h0M517.3 973.7h0M361.5 997.6h0M395.9 994.8h0M413.3 989.8h0M439.6 1007.2h0M432.2 977.8h0M372.9 1009.3h0M406.3 998.3h0M463.5 955.5h0M372.1 1008.6h0M370.1 1014.0h0M442.1 981.4h0M424.6 1004.2h0M393.2 991.0h0M433.1 993.4h0M483.0 989.7h0M475.3 997.6h0M376.5 1015.2h0M383.6 997.9h0M402.4 978.5h0M375.4 1016.1h0M398.9 1000.3h0M376.4 1005.0h0M426.0 981.3h0M401.6 982.0h0M389.8 991.2h0M360.5 1000.2h0M461.2 962.4h0M363.8 996.2h0M427.0 996.9h0M570.5 813.3h0M401.2 973.8h0M356.4 1013.8h0M355.6 1001.8h0M369.3 1014.6h0M540.7 893.6h0M357.4 1009.3h0M372.4 1003.4h0M397.6 1008.6h0M511.4 879.0h0M464.4 950.8h0M400.3 1009.8h0M458.5 987.3h0M509.5 981.3h0M441.0 982.2h0M474.8 998.8h0M392.7 995.1h0M408.2 1009.9h0M408.1 995.1h0M325.9 1015.2h0M471.4 994.9h0M363.2 1014.9h0M404.8 1009.3h0M456.1 977.4h0M383.9 996.4h0M362.3 1013.7h0M363.4 1017.5h0M409.3 1005.6h0M529.5 912.3h0M354.2 1014.8h0M406.2 1008.2h0M379.4 993.2h0M438.5 1004.3h0M422.8 996.7h0M385.7 1015.0h0M347.7 1005.8h0M388.3 1005.3h0M424.6 992.0h0M364.5 999.1h0M354.9 1007.1h0M436.6 1004.3h0M465.6 986.5h0M348.1 1007.7h0M455.5 1002.4h0M392.6 984.2h0M398.1 991.2h0M437.7 963.2h0M383.1 1015.7h0M400.3 997.0h0M477.2 992.4h0M463.5 968.0h0M381.1 1002.9h0M458.8 926.2h0M463.7 984.5h0M454.4 931.3h0M370.1 1006.5h0M417.4 996.8h0M356.5 1017.2h0M416.3 1005.3h0M358.5 1003.7h0M485.9 985.4h0M410.3 978.0h0M402.4 1002.4h0M438.7 980.6h0M415.6 977.8h0M399.0 1000.4h0M476.3 934.8h0M438.2 1003.4h0M412.2 981.4h0M589.1 918.3h0M433.3 988.7h0M434.5 990.1h0M408.8 1004.9h0M384.9 996.8h0M501.8 892.1h0M359.5 999.0h0M533.3 935.1h0M448.5 1004.2h0M391.6 1001.6h0M402.0 1008.7h0M525.8 933.1h0M418.9 983.5h0M423.4 997.4h0M366.2 1004.9h0M372.8 990.8h0M420.9 1009.8h0M398.1 1012.6h0M374.5 1003.4h0M330.2 1015.7h0M406.5 980.0h0M399.2 989.0h0M431.1 984.3h0M487.1 952.6h0M401.5 1008.0h0M376.0 1011.7h0M496.9 977.7h0M390.3 1013.4h0M460.4 982.9h0M425.6 976.4h0M365.3 1004.9h0M475.0 993.1h0M357.4 1004.7h0M431.2 1006.3h0M338.6 1018.9h0M381.1 1015.9h0M350.5 997.0h0M449.5 977.6h0M454.1 956.9h0M349.9 1010.2h0M379.2 990.5h0M367.1 1006.4h0M437.0 959.1h0M462.5 1002.0h0M441.9 989.1h0M477.4 917.0h0M429.0 999.7h0M392.9 996.9h0M442.1 949.3h0M441.7 1001.7h0M402.8 1012.1h0M391.8 991.7h0M524.2 842.5h0M386.7 1005.2h0M396.3 1012.5h0M361.7 1013.5h0M355.8 1010.8h0M451.0 997.8h0M416.5 1007.8h0M461.0 1001.1h0M473.4 916.8h0M381.0 1013.5h0M421.5 1011.1h0M384.3 991.8h0M360.4 1009.1h0M388.0 987.4h0M393.4 992.0h0M346.7 1009.8h0M376.4 1015.1h0M423.5 991.5h0M392.3 986.2h0M479.1 990.4h0M351.2 1011.6h0M418.9 999.4h0M383.9 992.9h0M366.4 1004.3h0M390.7 1000.3h0M557.4 931.5h0M442.3 950.4h0M422.8 994.4h0M377.8 1002.1h0M437.4 1002.8h0M406.5 975.3h0M376.1 1015.9h0M525.8 951.8h0M364.0 1014.1h0M389.2 1012.0h0M400.0 1008.9h0M473.0 992.2h0M555.5 951.9h0M417.7 977.5h0M370.7 1012.8h0M342.6 1018.0h0M436.7 984.4h0M407.3 1004.9h0M392.7 993.7h0M351.9 1005.7h0M385.4 1011.4h0M356.7 1015.0h0M390.5 1007.4h0M458.6 985.2h0M465.8 999.6h0M412.0 1005.8h0M432.0 987.1h0M408.3 1012.4h0M489.9 943.0h0M370.8 997.8h0M352.4 1014.5h0M434.7 986.7h0M392.5 1000.9h0M394.0 1009.5h0M396.0 1009.0h0M340.1 1005.0h0M444.4 990.6h0M381.1 994.8h0M424.8 1005.0h0M387.6 989.5h0M370.0 992.0h0M465.6 991.6h0M461.0 1003.6h0M353.8 1018.0h0M411.7 1000.2h0M397.7 1009.4h0M496.8 866.6h0M459.6 981.9h0M431.1 990.3h0M388.5 983.4h0M367.8 1001.4h0M361.2 1017.5h0M446.2 968.5h0M451.2 975.3h0M393.4 1008.8h0M364.1 1014.9h0M507.3 933.3h0M358.3 1011.1h0M400.9 1012.9h0M512.0 962.2h0M478.9 957.9h0M390.4 996.1h0M484.4 885.1h0M365.9 1014.9h0M426.8 992.0h0M416.6 975.1h0M508.1 943.1h0M427.9 999.7h0M379.9 1005.0h0M376.4 1014.1h0M378.7 1005.7h0M435.8 992.4h0M455.5 982.9h0M380.6 1006.8h0M383.5 1014.1h0M389.4 1010.4h0M358.9 997.4h0M426.7 997.1h0M561.5 933.9h0M458.1 1003.8h0M372.1 1007.5h0M339.1 1018.2h0M358.7 1001.1h0M473.2 990.3h0M412.6 985.0h0M446.8 990.6h0M396.0 989.7h0M404.3 1005.2h0M454.2 998.5h0M428.3 1008.7h0M442.0 952.2h0M367.8 1014.1h0M427.8 995.1h0M519.2 977.4h0M369.8 1013.2h0M460.7 992.4h0M417.2 1011.8h0M501.4 990.7h0M375.4 1015.4h0M386.6 990.5h0M396.0 996.8h0M441.5 982.8h0M413.2 1001.7h0M443.6 961.4h0M399.8 1002.9h0M354.4 1018.1h0M413.5 1012.1h0M435.3 970.8h0M355.5 1002.3h0M459.6 995.4h0M435.6 959.3h0M510.3 950.8h0M412.7 1008.1h0M483.3 936.0h0M473.6 995.7h0M383.9 994.5h0M446.4 976.5h0M468.3 985.8h0M434.7 998.6h0M392.6 1005.1h0M448.5 991.5h0M439.4 1001.5h0M397.2 1014.0h0M402.6 973.0h0M369.9 1015.9h0M401.4 980.4h0M423.2 1000.7h0M433.2 1008.1h0M489.4 977.3h0M357.7 1017.3h0M511.3 921.6h0M384.4 1013.7h0M422.4 1004.8h0M413.4 1003.2h0M399.3 1011.0h0M425.0 988.8h0M386.1 990.2h0M381.8 1004.2h0M468.2 950.8h0M388.3 1012.0h0M390.2 991.7h0M401.1 1013.8h0M455.2 948.6h0M368.9 1000.6h0M365.8 1012.8h0M393.5 1014.6h0M532.0 897.3h0M394.0 1012.4h0M392.1 1009.7h0M457.3 925.1h0M374.2 1009.5h0M460.1 995.4h0M472.2 998.0h0M461.6 999.9h0M440.2 1002.5h0M506.4 923.8h0M504.3 966.5h0M361.8 1012.8h0M407.8 1012.8h0M371.5 1016.8h0M496.6 943.5h0M360.1 1017.1h0M348.3 1015.4h0M349.5 1016.9h0M385.8 1010.4h0M480.0 943.5h0M356.0 1017.7h0M364.7 1011.9h0M453.5 1002.9h0M471.2 995.4h0M364.8 995.2h0M386.2 989.4h0M389.1 1001.3h0M375.8 999.0h0M372.2 1012.2h0M492.6 951.7h0M469.0 958.9h0M420.8 964.3h0M354.6 1007.8h0M404.8 1011.0h0M509.9 931.2h0M414.8 1011.4h0M465.4 976.3h0M389.2 1012.7h0M385.7 1008.0h0M413.4 1010.2h0M342.2 1011.1h0M399.4 1013.9h0M378.2 1009.7h0M499.3 976.9h0M381.1 1001.3h0M349.3 1016.7h0M380.2 1006.0h0M379.7 996.3h0M454.6 975.3h0M444.8 954.1h0M398.3 975.6h0M419.4 982.3h0M414.8 1011.6h0M352.3 1016.0h0M361.2 1017.3h0M407.3 1006.7h0M382.5 1006.5h0M457.7 993.9h0M402.1 1012.3h0M383.4 996.8h0M443.4 959.9h0M377.4 1011.7h0M447.6 987.9h0M375.7 989.4h0M430.0 988.7h0M425.6 959.0h0M358.4 1017.6h0M390.7 1011.8h0M368.1 1012.8h0M423.9 967.1h0M424.4 975.5h0M396.0 990.6h0M379.4 1004.4h0M404.1 1008.1h0M416.4 977.2h0M388.6 1011.2h0M408.0 997.9h0M363.6 1010.5h0M399.8 988.3h0M413.7 983.3h0M437.9 999.9h0M417.8 1005.2h0M422.5 979.1h0M368.1 1005.8h0M381.0 1005.1h0M452.5 998.5h0M412.0 1011.0h0M466.1 959.2h0M426.4 1009.9h0M631.6 575.0h0M404.2 1001.4h0M429.2 1002.1h0M464.1 971.0h0M557.4 941.5h0M495.9 955.4h0M368.8 995.7h0M351.0 1010.6h0M478.0 962.3h0M455.8 987.0h0M453.0 981.1h0M394.3 1000.5h0M472.3 997.7h0M396.2 1010.9h0M365.3 1013.5h0M384.6 1013.8h0M428.2 982.2h0M377.1 991.5h0M361.8 1008.8h0M491.1 909.5h0M432.5 1007.3h0M453.0 970.2h0M374.9 1014.1h0M409.3 1008.3h0M384.3 991.6h0M379.3 989.3h0M480.6 995.8h0M365.9 1012.8h0M406.7 1010.7h0M354.3 1009.7h0M377.2 1006.4h0M429.7 958.0h0M340.3 1008.2h0M356.6 1013.9h0M460.8 987.0h0M397.1 1006.1h0M471.2 979.1h0M437.4 955.6h0M421.7 971.2h0M426.7 1004.7h0M522.3 894.9h0M374.5 1010.6h0M426.3 988.5h0M634.9 822.8h0M430.7 992.8h0M475.2 951.8h0M349.8 1005.0h0M398.0 1008.8h0M459.6 973.9h0M401.3 998.5h0M425.7 982.7h0M466.4 945.9h0M435.7 985.8h0M415.3 1004.9h0M379.4 1015.0h0M380.8 991.6h0M395.3 996.3h0M393.1 1011.5h0M344.0 1010.4h0M398.1 1002.2h0M385.3 996.8h0M443.6 993.5h0M552.6 932.6h0M376.7 1012.2h0M396.2 1002.0h0M517.8 976.6h0M472.5 972.7h0M406.4 994.1h0M406.8 997.3h0M462.2 1002.5h0M426.4 1006.2h0M395.6 994.5h0M373.2 994.9h0M372.2 1014.1h0M415.4 1001.3h0M348.7 1018.1h0M472.5 970.4h0M515.8 944.4h0M505.0 961.0h0M346.9 1008.6h0M439.7 1001.1h0M398.4 1006.3h0M493.1 985.7h0M389.8 1006.8h0M425.2 1010.0h0M467.0 994.8h0M369.8 1016.9h0M409.1 999.5h0M459.8 1003.1h0M548.7 932.8h0M422.9 992.3h0M462.3 980.3h0M353.9 1017.7h0M403.1 1006.9h0M385.7 994.4h0M433.6 984.8h0M463.8 978.4h0M380.3 996.8h0M390.8 1004.6h0M368.4 1014.8h0M436.1 980.0h0M560.9 799.0h0M377.0 1004.7h0M504.3 952.4h0M373.9 999.1h0M444.5 990.2h0M432.5 973.3h0M374.7 1002.3h0M419.3 982.3h0M458.5 954.9h0M412.8 1002.4h0M369.4 1010.5h0M357.5 1004.0h0M522.8 966.5h0M437.6 995.4h0M522.9 915.0h0M451.7 997.0h0M406.4 983.9h0M422.4 1001.2h0M421.3 1002.3h0M408.7 979.8h0M435.4 996.1h0M507.4 983.8h0M490.8 986.8h0M411.2 1007.8h0M481.2 977.6h0M486.2 965.8h0M379.9 1015.5h0M357.3 994.5h0M451.2 1002.1h0M378.3 1000.0h0M469.6 999.9h0M415.1 995.6h0M429.8 1004.8h0M550.4 921.8h0M416.4 1000.1h0M445.5 1003.8h0M422.7 1005.2h0M446.7 967.0h0M424.9 962.0h0M455.6 995.9h0M508.1 936.3h0M434.8 1004.3h0M442.6 967.1h0M517.2 955.4h0M450.9 998.0h0M428.3 1009.0h0M364.8 1014.6h0M420.5 1001.8h0M452.5 959.0h0M389.9 980.6h0M381.4 1013.8h0M450.4 998.0h0M473.8 985.2h0M429.2 1009.7h0M418.8 1011.7h0M398.4 986.6h0M372.6 1005.5h0M430.3 998.5h0M403.9 1007.6h0M455.2 964.8h0M350.6 1013.6h0M415.6 982.3h0M407.9 982.2h0M357.4 1017.6h0M474.2 998.1h0M449.6 955.8h0M581.5 883.7h0M380.4 1015.5h0M368.2 999.4h0M378.3 1003.2h0M388.4 1007.6h0M467.7 994.0h0M405.1 1003.2h0M427.8 1007.3h0M431.8 992.2h0M432.3 1005.0h0M386.8 993.2h0M395.7 1011.5h0M399.1 1011.1h0M434.2 971.4h0M380.3 999.9h0M361.5 1012.2h0M482.2 989.0h0M415.0 992.0h0M459.2 945.9h0M435.4 997.8h0M366.3 1009.1h0M400.0 997.5h0M374.9 1004.5h0M498.0 988.8h0M368.1 1010.1h0M375.1 1007.8h0M413.9 1003.4h0M410.0 998.2h0M365.5 1003.6h0M448.2 978.6h0M365.9 1012.8h0M351.2 1016.5h0M356.8 1010.0h0M538.1 944.9h0M408.4 975.4h0M378.3 1004.0h0M360.6 1002.1h0M390.5 1010.2h0M372.5 991.8h0M378.7 1015.5h0M351.5 1016.4h0M409.9 1001.2h0M419.2 1009.0h0M493.3 968.5h0M446.1 987.4h0M355.0 1009.4h0M347.1 1011.2h0M404.3 996.3h0M500.4 988.8h0M480.9 973.3h0M415.6 968.6h0M411.2 1007.0h0M434.2 1007.7h0M404.8 986.4h0M378.5 1002.3h0M369.3 1006.7h0M485.1 988.8h0M461.7 955.5h0M420.6 998.7h0M458.4 994.6h0M405.3 995.5h0M500.4 920.4h0M429.7 995.8h0M447.0 975.6h0M389.2 1013.4h0M436.2 1003.0h0M389.9 1011.1h0M495.7 989.3h0M362.4 1007.2h0M318.8 1019.4h0M444.3 961.8h0M355.1 1017.8h0M434.2 988.7h0M419.6 988.6h0M358.7 1016.1h0M380.0 1014.8h0M351.1 1015.7h0M438.1 964.5h0M506.1 963.9h0M353.9 1004.9h0M485.3 920.8h0M347.0 1013.8h0M464.1 989.1h0M439.8 995.3h0M374.8 1004.8h0M375.3 1008.5h0M566.2 796.5h0M415.9 998.4h0M423.4 982.2h0M420.9 1006.8h0M364.8 1007.6h0M443.5 1000.6h0M468.9 997.5h0M366.6 1014.6h0M429.9 994.1h0M442.3 949.5h0M399.8 1004.9h0M385.4 1009.0h0M387.3 997.7h0M323.5 1018.6h0M425.0 989.6h0M335.4 1014.5h0M423.8 974.6h0M348.4 999.6h0M429.3 992.2h0M403.5 1009.7h0M365.2 1012.0h0M420.2 1009.3h0M521.5 971.8h0M425.7 1007.6h0M424.0 979.6h0M355.0 1008.6h0M424.3 994.9h0M385.1 1015.5h0M365.2 1011.9h0M349.6 1012.7h0M428.7 977.6h0M364.6 1012.7h0M386.4 995.5h0M476.9 965.1h0M547.1 946.4h0M400.4 989.8h0M361.0 1000.6h0M377.1 1005.8h0M431.8 986.1h0M395.3 984.4h0M461.1 1002.0h0M413.9 967.6h0M466.5 1001.0h0M426.0 999.9h0M390.8 1007.3h0M390.9 1008.8h0M408.1 998.7h0M353.2 1004.2h0M410.6 1008.0h0M430.8 999.4h0M377.4 1014.1h0M437.3 999.2h0M382.5 995.8h0M442.2 977.0h0M418.1 988.9h0M430.3 1000.4h0M341.8 1016.2h0M371.7 1008.3h0M354.3 1018.1h0M459.3 986.3h0M447.5 987.5h0M460.8 948.6h0M356.4 1011.5h0M529.5 955.6h0M425.5 996.7h0M454.0 978.3h0M415.5 991.3h0M353.8 1014.9h0M425.0 958.7h0M466.7 990.7h0M500.6 987.9h0M482.1 996.4h0M489.1 946.9h0M357.3 1006.8h0M396.9 988.7h0M376.7 1011.1h0M397.1 988.7h0M508.5 899.3h0M427.1 988.3h0M379.5 1010.8h0M501.8 963.0h0M393.5 991.1h0M456.2 975.7h0M357.6 1011.2h0M412.5 1001.3h0M480.9 994.4h0M440.1 971.6h0M445.2 996.7h0M434.1 994.7h0M404.8 1000.2h0M381.3 1014.2h0M413.6 1002.7h0M447.9 1005.8h0M407.0 974.4h0M421.9 1003.1h0M396.3 997.2h0M407.4 984.1h0M424.6 1002.0h0M377.7 1001.5h0M478.5 984.3h0M565.7 933.4h0M545.2 957.5h0M426.7 1004.3h0M415.0 1009.5h0M439.9 986.6h0M443.7 986.1h0M436.6 990.8h0M468.8 998.5h0M403.2 991.2h0M477.8 975.4h0M401.4 998.3h0M379.7 1013.5h0M664.0 596.4h0M365.6 1000.1h0M347.3 1013.0h0M488.6 969.4h0M470.8 944.5h0M360.0 1012.1h0M406.8 999.5h0M369.4 1011.2h0M361.1 1008.8h0M497.0 875.4h0M487.6 913.4h0M388.2 991.7h0M433.6 994.4h0M392.2 1000.9h0M403.6 1013.6h0M429.8 982.4h0M384.5 1010.4h0M453.6 991.9h0M367.2 1009.0h0M442.9 994.7h0M407.2 1012.4h0M463.4 994.1h0M454.2 1004.5h0M474.9 989.8h0M384.9 1014.1h0M395.7 1008.3h0M498.8 953.2h0M451.5 931.1h0M371.8 1014.4h0M401.1 994.1h0M392.2 988.5h0M454.9 970.8h0M485.8 993.5h0M524.0 976.7h0M377.0 1014.9h0M457.6 1002.0h0M390.4 980.8h0M392.0 1002.2h0M372.7 989.9h0M505.8 987.2h0M367.1 1000.6h0M410.0 999.5h0M374.3 997.8h0M387.7 1002.2h0M397.3 991.2h0M436.0 1008.3h0M359.4 1014.0h0M466.1 1001.9h0M428.0 993.8h0M414.0 991.9h0M439.5 1008.3h0M524.1 947.7h0M402.6 1011.0h0M500.2 962.9h0M389.7 982.5h0M401.8 986.8h0M451.4 991.1h0M385.0 1012.8h0M388.9 995.3h0M449.2 971.8h0M403.0 982.9h0M426.4 1000.1h0M347.4 1003.0h0M477.1 973.3h0M350.4 1015.6h0M376.8 1006.7h0M516.4 953.5h0M405.7 1007.8h0M437.1 1008.4h0M384.4 1001.7h0M416.7 1009.9h0M387.3 1004.1h0M343.5 1016.1h0M419.3 1008.3h0M375.2 1007.7h0M421.4 1010.9h0M441.9 964.6h0M405.2 1005.1h0M385.5 1010.1h0M411.1 1008.1h0M508.8 894.6h0M388.7 1014.2h0M344.0 1010.4h0M317.5 1016.9h0M414.6 1000.7h0M437.0 1000.5h0M369.9 1001.4h0M383.4 1012.7h0M382.5 994.6h0M378.0 1006.0h0M494.8 933.1h0M358.2 1013.3h0M423.9 993.8h0M378.5 994.6h0M361.1 1011.2h0M353.1 1010.9h0M460.0 996.5h0M373.0 998.7h0M431.2 1002.7h0M393.4 1014.6h0M400.3 1012.1h0M396.7 1012.4h0M370.1 1013.5h0M456.0 968.3h0M375.0 1004.9h0M416.1 1003.7h0M416.7 1001.0h0M352.5 1017.9h0M390.2 1013.7h0M369.4 1009.6h0M457.4 957.7h0M473.9 997.4h0M353.1 1004.8h0M398.5 1000.4h0M476.6 933.6h0M377.8 1002.7h0M569.1 916.7h0M415.5 1002.9h0M497.1 989.5h0M441.6 991.4h0M383.3 1014.1h0M497.6 978.0h0M397.2 1014.4h0M513.9 946.0h0M541.6 934.6h0M415.2 1009.4h0M492.9 973.8h0M477.5 927.8h0M351.8 1015.8h0M431.4 953.5h0M487.7 898.9h0M381.0 1001.0h0M510.0 985.8h0M476.1 998.0h0M374.1 1008.9h0M435.0 1004.4h0M393.2 1008.8h0M397.2 1012.6h0M481.3 972.0h0M441.0 997.3h0M402.3 998.3h0M364.9 996.6h0M368.2 1015.2h0M357.2 1012.6h0M480.3 979.9h0M366.5 1013.4h0M469.6 998.0h0M452.1 974.4h0M447.6 947.7h0M392.0 982.5h0M462.7 980.7h0M379.0 1012.3h0M387.2 1007.6h0M393.2 993.9h0M488.4 979.8h0M411.0 996.1h0M416.7 997.0h0M352.9 1016.3h0M482.7 930.7h0M405.8 997.2h0M353.8 1017.6h0M410.4 996.7h0M447.6 990.3h0M428.4 1006.3h0M497.4 983.6h0M364.4 1001.2h0M456.7 966.5h0M410.5 1011.6h0M454.0 988.4h0M393.3 1005.5h0M466.9 990.6h0M533.8 974.2h0M342.0 999.8h0M348.1 1001.8h0M427.8 1009.6h0M412.9 1009.8h0M447.5 989.0h0M439.1 1005.6h0M404.2 1004.7h0M452.9 998.9h0M374.0 1007.6h0M436.5 1002.0h0M464.7 975.7h0M499.8 985.4h0M449.4 994.9h0M404.6 1007.5h0M395.8 1010.3h0M339.3 1015.9h0M508.0 977.6h0M425.4 995.9h0M435.4 1003.9h0M511.3 960.8h0M462.4 974.5h0M535.7 965.7h0M350.4 1017.6h0M424.8 982.4h0M395.7 1012.2h0M352.7 1009.3h0M376.4 1006.5h0M433.8 989.4h0M433.4 1005.7h0M374.1 1013.5h0M507.8 949.5h0M371.7 1016.7h0M368.7 1004.2h0M392.7 1002.6h0M421.4 1007.8h0M354.8 1011.0h0M473.9 943.1h0M437.1 971.7h0M430.1 1000.2h0M430.6 952.6h0M388.0 1002.6h0M414.0 1012.0h0M645.1 567.5h0M388.9 1000.7h0M370.8 1007.2h0M522.4 889.5h0M376.0 994.0h0M365.4 999.5h0M376.9 1009.8h0M404.6 1004.2h0M394.3 987.3h0M461.4 995.3h0M365.2 1015.0h0M417.2 1011.9h0M446.5 1000.4h0M361.1 1002.4h0M369.9 1000.2h0M431.3 1004.5h0M407.1 977.5h0M497.3 884.9h0M472.4 953.3h0M432.3 982.3h0M409.0 991.3h0M432.1 1006.7h0M420.6 985.7h0M394.3 988.0h0M455.0 983.1h0M466.8 996.7h0M384.9 1008.3h0M457.0 981.2h0M461.8 984.2h0M416.7 1010.1h0M391.5 1011.9h0M344.5 1011.0h0M420.2 1008.9h0M393.3 1002.9h0M398.4 999.3h0M380.8 999.2h0M410.3 972.4h0M420.6 998.2h0M365.5 1009.1h0M385.9 1008.2h0M497.6 976.0h0M394.1 995.4h0M344.6 1017.2h0M361.6 1017.7h0M426.5 970.8h0M425.2 957.6h0M371.1 1014.9h0M364.4 1012.1h0M435.8 972.8h0M423.4 996.6h0M494.3 941.1h0M506.5 950.1h0M449.0 975.0h0M397.6 1008.0h0M388.9 993.5h0M361.7 1012.9h0M365.9 1006.7h0M501.4 938.6h0M336.2 1013.8h0M462.7 1000.3h0M381.5 1010.4h0M354.1 1006.4h0M467.4 991.4h0M508.2 969.2h0M403.6 985.6h0M410.3 1011.8h0M605.7 790.5h0M384.5 1013.8h0M334.6 1017.6h0M424.4 1009.1h0M387.0 1014.3h0M382.5 1007.0h0M415.1 964.8h0M437.5 947.1h0M479.1 984.1h0M424.4 960.7h0M426.9 958.0h0M352.6 998.8h0M457.6 978.4h0M393.0 1012.5h0M378.2 1012.3h0M366.8 1010.2h0M396.8 992.2h0M397.4 1009.7h0M381.9 1007.3h0M368.0 1004.8h0M397.7 1000.1h0M381.9 994.5h0M385.6 985.3h0M409.2 989.7h0M449.7 990.4h0M448.4 989.0h0M388.6 999.5h0M383.1 1007.0h0M509.9 961.9h0M392.2 1012.5h0M370.9 1003.9h0M351.2 1015.4h0M337.2 1003.6h0M435.8 991.9h0M465.9 965.5h0M378.5 1000.4h0M352.7 1006.5h0M406.9 977.0h0M424.6 968.5h0M495.2 953.3h0M370.8 997.4h0M423.9 994.5h0M418.6 1011.2h0M495.7 982.5h0M440.7 974.2h0M357.5 1014.5h0M386.3 1010.0h0M421.2 982.4h0M398.8 989.7h0M373.9 1016.5h0M362.1 997.6h0M396.4 991.6h0M396.7 984.9h0M355.3 998.1h0M414.6 988.2h0M405.9 999.9h0M397.1 999.3h0M376.0 1001.3h0M460.9 983.2h0M378.3 995.5h0M405.9 1011.7h0M451.4 983.7h0M451.3 941.2h0M346.9 1008.9h0M363.8 1016.2h0M375.9 1004.0h0M487.2 979.1h0M416.7 1007.9h0M479.7 992.1h0M412.3 1004.8h0M425.3 1001.4h0M411.0 995.6h0M520.0 920.3h0M399.7 1005.7h0M378.9 996.3h0M415.1 999.3h0M385.1 1015.0h0M482.8 977.0h0M478.2 948.5h0M491.6 994.1h0M502.9 975.1h0M405.1 1002.3h0M473.2 963.6h0M433.6 999.8h0M380.7 1001.3h0M393.4 981.5h0M402.3 1006.5h0M530.3 951.7h0M428.3 991.9h0M368.1 1012.2h0M371.7 997.2h0M390.3 1009.2h0M362.3 1017.4h0M359.6 1011.0h0M534.5 967.8h0M491.8 964.9h0M363.1 1016.0h0M418.7 1004.9h0M448.3 995.0h0M449.7 1000.0h0M377.5 1004.5h0M431.1 982.3h0M485.4 941.3h0M378.3 1001.3h0M395.7 1003.9h0M336.0 1016.2h0M656.2 782.8h0M404.8 991.9h0M409.4 978.1h0M433.9 962.7h0M505.9 883.5h0M393.1 998.9h0M386.3 1010.1h0M428.3 995.6h0M405.7 989.4h0M394.1 1003.9h0M379.0 1002.1h0M349.8 1018.1h0M490.8 973.1h0M343.2 1006.4h0M369.8 996.4h0M368.5 1012.3h0M473.8 978.3h0M363.3 1001.3h0M359.5 1006.2h0M403.2 1006.5h0M434.6 982.7h0M472.8 903.6h0M489.7 956.9h0M460.0 999.9h0M481.9 968.7h0M349.2 1013.3h0M380.6 991.3h0M369.7 1012.1h0M362.6 998.1h0M415.2 970.2h0M428.2 999.4h0M571.4 878.8h0M450.4 944.7h0M436.1 964.7h0M339.1 1012.8h0M513.6 950.7h0M388.8 1001.7h0M384.3 1015.3h0M456.1 949.7h0M421.0 1000.7h0M407.1 1013.1h0M421.7 1005.0h0M380.4 989.0h0M519.6 852.6h0M445.8 1005.9h0M460.0 945.6h0M369.5 992.5h0M352.1 1011.0h0M414.0 987.5h0M430.1 1008.8h0M415.1 998.5h0M579.0 923.7h0M409.4 1008.9h0M475.4 964.1h0M424.2 1009.9h0M483.4 911.9h0M455.8 993.9h0M380.4 987.7h0M351.6 1014.0h0M430.4 980.6h0M370.5 1013.6h0M474.1 957.3h0M521.3 944.7h0M496.2 969.7h0M437.6 982.9h0M503.4 986.8h0M435.4 983.0h0M424.8 1004.4h0M366.2 998.8h0M357.0 1013.1h0M406.4 987.7h0M351.9 1018.3h0M366.0 1004.5h0M422.8 1000.3h0M356.7 1009.3h0M452.9 983.7h0M408.8 1011.7h0M434.7 959.3h0M444.0 1004.4h0M386.2 1001.1h0M423.9 995.0h0M515.6 978.3h0M394.6 1008.1h0M382.5 1011.3h0M465.3 1001.4h0M352.9 1018.4h0M395.7 989.9h0M386.7 1011.6h0M346.3 1011.8h0M363.3 1011.9h0M492.3 986.2h0M353.5 1004.1h0M520.1 942.1h0M356.9 1011.8h0M365.7 1015.4h0M471.8 982.6h0M455.8 982.1h0M370.1 1017.1h0M378.4 1005.3h0M406.4 1012.4h0M320.2 1011.9h0M366.3 1006.6h0M568.8 937.1h0M420.9 993.5h0M488.8 951.3h0M442.8 990.6h0M395.8 1007.6h0M383.9 1014.1h0M423.3 1009.5h0M397.6 1013.2h0M428.3 984.7h0M454.0 980.9h0M382.7 984.2h0M509.5 904.2h0M486.9 969.4h0M381.7 1000.6h0M376.1 1014.4h0M402.4 985.1h0M424.2 986.6h0M487.3 983.6h0M390.9 997.0h0M434.4 963.7h0M497.6 975.2h0M353.7 1017.1h0M365.5 1016.7h0M370.2 1017.0h0M364.6 997.8h0M440.2 997.5h0M378.2 1014.5h0M432.7 1003.5h0M492.6 929.6h0M381.6 1012.8h0M429.5 979.2h0M407.3 984.6h0M547.4 964.6h0M366.6 999.4h0M394.8 1010.7h0M469.5 957.0h0M422.7 1000.7h0M397.0 987.7h0M356.5 1012.4h0M379.9 1002.2h0M505.2 948.2h0M445.5 984.7h0M361.6 1011.6h0M361.0 1014.4h0M410.0 1009.9h0M395.9 1007.6h0M430.6 997.4h0M471.8 983.8h0M348.5 1006.7h0M567.6 940.6h0M548.9 963.6h0M424.4 983.5h0M380.1 1006.2h0M393.8 995.3h0M447.3 992.5h0M400.3 1002.1h0M410.6 1012.6h0M457.7 988.7h0M319.4 1015.1h0M380.7 1008.0h0M461.1 929.4h0M472.0 925.1h0M384.2 1014.6h0M461.7 982.0h0M403.7 978.3h0M403.4 999.7h0M369.3 999.8h0M511.5 880.7h0M387.6 999.5h0M402.4 995.3h0M406.2 1000.0h0M450.3 953.4h0M383.2 1006.9h0M411.6 991.2h0M355.4 1012.7h0M417.6 1005.1h0M437.4 964.7h0M445.6 1004.8h0M435.6 983.9h0M355.0 1015.8h0M396.0 1007.9h0M433.8 1005.3h0M547.7 885.8h0M453.4 988.5h0M396.8 1005.5h0M443.3 996.9h0M514.3 980.2h0M397.8 1012.7h0M334.9 1017.5h0M501.4 951.0h0M408.1 999.3h0M339.5 1016.6h0M476.6 944.8h0M403.5 1011.8h0M457.0 970.2h0M525.4 791.3h0M380.2 1013.2h0M510.9 983.3h0M446.8 994.8h0M460.3 1000.6h0M420.0 1007.3h0M381.6 998.1h0M415.5 966.8h0M397.3 1012.5h0M447.6 984.2h0M398.8 1011.2h0M480.6 986.2h0M369.1 1008.1h0M444.4 956.1h0M535.5 918.7h0M359.2 1015.6h0M363.8 1015.2h0M369.9 1007.0h0M427.1 996.9h0M428.8 1008.2h0M434.2 1005.8h0M371.0 1009.6h0M445.0 1004.1h0M531.3 936.7h0M337.4 1013.1h0M444.6 972.4h0M454.9 1004.4h0M359.5 1016.4h0M479.1 941.4h0M426.4 1000.5h0M386.4 1009.8h0M370.8 1003.2h0M377.9 1011.2h0M339.6 1013.1h0M460.1 994.8h0M413.0 999.6h0M363.9 1004.1h0M361.9 1017.5h0M426.2 998.7h0M382.4 987.0h0M412.0 976.8h0M402.3 1012.4h0M351.6 1012.3h0M372.9 1016.7h0M455.9 980.3h0M403.8 1009.6h0M399.3 1006.6h0M442.7 998.3h0M384.4 1000.9h0M341.1 1011.3h0M438.7 1008.2h0M340.1 1003.0h0M399.0 1009.3h0M352.4 1011.3h0M338.2 1010.4h0M426.1 992.3h0M435.0 984.2h0M388.9 1006.0h0M382.5 997.3h0M421.3 1004.7h0M441.4 1007.0h0M373.0 1010.8h0M399.4 998.9h0M438.3 1003.8h0M450.1 999.6h0M360.9 1015.3h0M555.9 882.5h0M464.4 971.7h0M491.4 989.0h0M382.5 1006.4h0M467.3 958.4h0M519.1 950.6h0M362.0 1011.7h0M514.3 955.2h0M384.3 984.6h0M450.6 1002.4h0M433.1 996.0h0M403.3 993.8h0M395.7 994.6h0M376.6 1014.5h0M422.0 999.4h0M425.6 995.5h0M393.5 1009.8h0M496.6 974.6h0M357.5 1006.9h0M411.0 1011.7h0M397.6 1001.3h0M355.5 1002.4h0M399.0 989.6h0M336.2 1005.4h0M416.7 968.6h0M424.5 994.9h0M419.0 1004.9h0M438.8 1007.0h0M353.2 1012.8h0M383.2 993.4h0M339.7 1006.2h0M409.0 974.5h0M389.4 985.7h0M363.6 1002.5h0M358.4 1013.8h0M427.6 969.6h0M337.2 1009.8h0M339.4 1002.6h0M371.7 1013.1h0M409.6 1009.5h0M363.9 998.0h0M510.1 865.1h0M348.0 1012.9h0M379.0 1014.9h0M389.3 1014.8h0M416.6 977.7h0M360.0 1010.3h0M542.3 756.2h0M386.2 1004.2h0M407.5 1006.0h0M387.6 1011.1h0M385.2 1000.4h0M370.9 1013.3h0M337.2 1012.5h0M409.7 1002.1h0M396.7 1003.5h0M403.6 1008.3h0M446.8 951.5h0M465.7 978.1h0M402.3 1006.5h0M416.2 1007.8h0M374.5 1015.2h0M366.0 1013.7h0M419.1 996.6h0M379.2 1010.0h0M403.0 1010.5h0M434.5 998.1h0M397.6 1011.9h0M450.5 965.1h0M334.6 1014.7h0M458.6 1003.4h0M533.9 941.6h0M409.5 1002.4h0M478.5 988.2h0M515.8 954.0h0M448.1 999.0h0M381.9 1013.3h0M416.5 1005.7h0M387.9 982.0h0M384.5 1010.0h0M481.8 993.4h0M365.1 1002.2h0M403.0 973.8h0M415.1 1006.0h0M391.8 1008.3h0M366.5 1009.4h0M410.1 988.8h0M379.3 993.4h0M397.1 1004.4h0M443.2 1007.2h0M518.9 969.5h0M418.7 1010.8h0M357.9 999.9h0M403.4 981.7h0M445.6 999.3h0M385.1 988.3h0M407.9 1011.2h0M429.9 975.0h0M449.1 978.0h0M394.8 1011.4h0M488.2 987.3h0M462.5 992.7h0M359.4 1009.9h0M516.5 868.6h0M498.0 939.2h0M399.2 1004.8h0M359.2 999.6h0M508.3 931.0h0M586.0 919.9h0M396.1 995.9h0M388.9 1007.7h0M357.4 1008.3h0M381.7 1005.1h0M427.3 961.4h0M340.7 1018.3h0M508.3 985.7h0M523.4 943.5h0M372.9 1012.0h0M482.0 992.7h0M361.5 1001.5h0M389.5 993.6h0M407.8 992.8h0M428.7 978.8h0M442.0 986.0h0M419.3 968.5h0M433.9 1000.4h0M382.8 1008.0h0M378.3 1004.6h0M448.2 1004.2h0M421.1 978.2h0M391.9 988.8h0M352.3 1016.0h0M557.2 888.2h0M491.6 898.1h0M360.0 1008.7h0M420.6 991.2h0M384.5 1008.8h0M374.7 1003.2h0M432.4 995.9h0M350.7 1017.6h0M343.7 1000.9h0M366.7 1016.8h0M370.1 1016.0h0M390.1 1006.0h0M400.1 976.5h0M565.6 949.5h0M396.9 1014.1h0M428.1 1007.8h0M528.3 915.8h0M412.5 1007.4h0M417.6 971.7h0M385.2 1010.2h0M525.0 868.1h0M407.4 999.1h0M343.6 1010.3h0M397.8 977.2h0M498.8 984.3h0M395.7 997.3h0M420.9 984.7h0M381.7 1009.9h0M464.4 981.1h0M396.2 1003.7h0M417.4 983.7h0M453.4 1002.4h0M390.2 997.3h0M386.3 1004.5h0M363.5 1010.0h0M463.0 981.0h0M431.9 1008.1h0M442.4 966.5h0M375.5 1007.9h0M415.9 1003.9h0M465.2 984.8h0M420.2 996.7h0M356.9 1004.5h0M496.9 967.9h0M388.4 1004.9h0M406.3 1012.0h0M377.4 1009.8h0M433.1 970.3h0M473.2 997.8h0M343.6 1008.0h0M388.9 983.0h0M424.0 982.5h0M454.0 985.1h0M361.5 998.9h0M393.3 980.2h0M380.8 1008.6h0M375.0 1013.1h0M527.6 940.2h0M438.8 1004.7h0M356.7 1016.8h0M389.9 993.1h0M384.7 1015.0h0M407.8 973.5h0M381.8 996.1h0M360.3 1003.4h0M408.6 988.7h0M466.9 971.8h0M454.9 982.8h0M408.0 1009.9h0M360.2 1004.8h0M435.7 1006.0h0M367.1 996.7h0M503.5 961.8h0M439.8 997.6h0M357.4 1008.5h0M450.4 1004.8h0M384.7 1015.1h0M558.2 877.2h0M446.8 1002.3h0M344.0 1000.5h0M337.2 1013.4h0M359.7 1014.8h0M362.5 1010.2h0M459.7 1000.6h0M412.2 1001.7h0M393.6 1002.5h0M392.7 1004.7h0M366.8 1014.0h0M511.1 960.6h0M430.0 979.0h0M400.8 1001.3h0M447.7 951.4h0M460.8 989.3h0M530.1 886.0h0M523.9 957.6h0M375.2 1011.9h0M472.6 975.8h0M469.6 971.6h0M351.5 1016.9h0M489.2 981.2h0M362.5 1011.6h0M458.8 1002.0h0M375.4 1011.8h0M462.9 968.4h0M463.8 1001.8h0M432.7 987.6h0M398.7 1005.7h0M448.1 944.6h0M384.4 1007.9h0M445.4 941.1h0M471.1 978.7h0M400.0 975.8h0M400.7 1003.0h0M358.3 1009.1h0M409.6 992.6h0M493.1 946.9h0M461.1 969.7h0M373.5 996.4h0M410.3 1012.1h0M405.9 1012.6h0M434.3 982.3h0M402.2 1002.2h0M350.9 1012.3h0M403.8 1001.3h0M391.2 995.8h0M361.4 1015.9h0M379.2 1011.3h0M443.9 997.0h0M446.4 968.4h0M429.0 1005.4h0M509.8 944.2h0M370.7 1014.3h0M439.8 1004.0h0M388.6 1014.6h0M415.9 979.2h0M349.8 1011.6h0M430.1 1007.7h0M532.0 912.5h0M387.4 994.0h0M465.4 979.2h0M401.0 1006.9h0M344.7 1004.1h0M365.2 992.6h0M481.4 950.1h0M403.1 1011.4h0M458.2 945.3h0M407.2 1007.6h0M350.7 1000.6h0M418.2 991.8h0M401.2 1011.1h0M462.5 991.9h0M343.6 1010.8h0M317.7 1010.8h0M605.3 850.7h0M400.0 1003.9h0M473.8 992.8h0M425.2 1010.6h0M425.3 963.3h0M369.0 1002.6h0M394.8 1009.2h0M384.6 1013.3h0M408.1 1002.2h0M374.9 997.9h0M484.9 993.6h0M448.7 972.0h0M381.7 1015.2h0M356.4 1015.1h0M363.8 1014.5h0M418.6 1006.8h0M319.0 1016.8h0M390.1 1003.0h0M455.1 986.8h0M467.9 958.7h0M472.6 983.6h0M350.2 1018.4h0M413.1 1010.5h0M396.5 1013.1h0M357.1 1014.3h0M474.5 942.1h0M426.5 995.8h0M356.8 1003.8h0M446.9 998.0h0M390.8 996.7h0M434.1 985.2h0M525.4 815.8h0M405.5 978.9h0" stroke="#f00" stroke-width="4.4" stroke-linecap="round" fill="none" clip-path="url(#cC)"/>
<path d="M372.7 985.3h0M431.1 942.3h0M325.6 998.3h0M432.7 896.9h0M371.6 970.6h0M385.8 959.4h0M358.9 985.4h0M388.7 966.4h0M448.2 867.4h0M404.5 924.6h0M377.3 985.4h0M406.2 965.1h0M405.1 954.0h0M377.7 956.3h0M393.2 954.2h0M355.6 986.7h0M409.1 967.5h0M474.5 864.6h0M405.3 943.0h0M365.6 985.9h0M390.5 978.3h0M395.5 937.5h0M363.4 987.9h0M369.4 984.6h0M388.7 977.7h0M415.2 945.9h0M376.1 983.2h0M366.8 985.6h0M398.5 960.9h0M399.0 934.5h0M413.7 963.4h0M426.2 952.1h0M377.8 978.1h0M486.2 777.7h0M407.9 953.7h0M435.6 944.1h0M419.2 946.5h0M357.3 971.2h0M408.7 953.7h0M398.9 869.8h0M366.5 981.3h0M401.2 968.3h0M354.7 967.5h0M458.6 833.0h0M421.2 935.3h0M455.7 900.0h0M378.9 984.2h0M426.6 937.7h0M336.5 998.3h0M362.3 989.4h0M365.5 962.9h0M373.0 962.1h0M413.3 951.7h0M447.8 924.6h0M340.0 993.1h0M388.5 940.1h0M388.0 978.9h0M379.8 951.7h0M394.9 969.8h0M385.2 969.7h0M385.6 981.6h0M374.7 983.0h0M417.7 916.4h0M384.7 977.0h0M467.3 888.0h0M382.1 981.6h0M360.3 993.1h0M383.1 958.5h0M407.2 911.1h0M516.7 787.2h0M420.2 932.6h0M392.7 969.5h0M361.0 984.7h0M393.3 971.9h0M440.0 918.8h0M373.6 978.5h0M349.1 995.7h0M359.5 993.2h0M452.8 902.0h0M411.4 947.5h0M392.3 945.7h0M389.7 967.0h0M320.7 988.8h0M383.6 974.4h0M403.3 969.3h0M351.7 992.8h0M391.5 966.4h0M430.4 944.3h0M412.4 957.0h0M426.7 927.5h0M436.2 902.9h0M354.9 989.6h0M420.4 894.8h0M360.2 989.2h0M378.1 980.6h0M412.2 956.7h0M408.8 952.9h0M340.1 991.4h0M384.4 967.2h0M424.1 913.7h0M410.1 963.9h0M350.0 979.8h0M437.5 860.6h0M532.4 83.0h0M376.7 979.9h0M371.5 987.6h0M429.2 938.0h0M375.1 963.3h0M411.2 941.9h0M385.8 930.5h0M359.6 967.4h0M356.5 990.2h0M443.9 862.8h0M371.4 978.4h0M364.9 967.2h0M448.7 892.5h0M366.8 961.4h0M412.9 954.5h0M361.3 987.0h0M399.6 960.5h0M402.0 963.7h0M360.2 986.6h0M400.7 964.6h0M358.4 986.4h0M402.1 934.1h0M390.2 979.0h0M379.6 967.5h0M380.2 973.3h0M383.4 980.5h0M378.9 982.2h0M483.2 880.4h0M377.0 977.0h0M428.4 931.1h0M353.0 987.1h0M367.6 989.4h0M420.2 959.5h0M395.5 954.1h0M371.7 976.1h0M395.1 975.3h0M346.4 996.4h0M384.4 975.1h0M398.8 965.7h0M406.3 960.5h0M437.2 936.8h0M370.5 983.6h0M397.1 975.4h0M379.0 978.7h0M415.9 915.7h0M387.0 975.3h0M395.0 887.1h0M362.5 988.3h0M408.8 963.3h0M415.9 926.5h0M463.9 817.2h0M467.1 873.3h0M415.9 944.1h0M382.0 982.3h0M413.8 959.6h0M394.3 962.5h0M390.3 973.3h0M486.2 877.9h0M394.4 920.9h0M415.3 952.5h0M375.5 949.8h0M360.6 970.5h0M367.5 973.8h0M409.8 965.6h0M446.1 896.7h0M451.6 920.6h0M418.3 960.4h0M375.5 978.6h0M483.5 875.9h0M342.0 986.9h0M425.9 944.5h0M355.5 980.2h0M427.7 914.5h0M439.7 838.8h0M403.8 924.8h0M320.5 981.8h0M396.1 936.9h0M409.8 965.8h0M345.3 977.5h0M399.8 956.3h0M386.7 979.9h0M368.6 983.0h0M408.3 965.5h0M409.3 942.0h0M369.1 977.5h0M365.4 980.8h0M378.0 875.3h0M360.5 991.4h0M343.6 998.6h0M364.4 987.1h0M380.4 982.4h0M444.0 918.4h0M362.7 987.8h0M473.9 538.0h0M501.2 562.0h0M381.0 981.0h0M356.3 987.5h0M377.2 985.4h0M369.0 985.9h0M354.2 984.1h0M378.3 908.2h0M354.9 990.4h0M365.3 970.9h0M358.3 960.6h0M341.5 993.1h0M424.9 943.8h0M404.5 961.3h0M420.3 951.4h0M339.3 978.7h0M367.8 970.3h0M392.0 864.9h0M381.7 977.4h0M379.2 952.5h0M436.9 942.1h0M416.2 952.5h0M347.3 990.5h0M419.7 913.2h0M374.2 985.2h0M347.2 980.5h0M389.9 979.2h0M380.9 980.8h0M412.9 946.5h0M410.4 948.6h0M384.9 981.4h0M351.7 993.7h0M353.1 966.6h0M430.0 946.4h0M447.0 911.1h0M417.8 941.4h0M430.1 942.2h0M491.4 462.8h0M320.9 1004.5h0M384.2 977.5h0M350.8 974.1h0M450.8 917.9h0M316.9 1004.1h0M340.7 995.5h0M378.1 974.1h0M357.0 976.6h0M372.8 976.2h0M353.8 986.4h0M376.5 983.2h0M424.8 933.4h0M364.3 985.5h0M387.5 954.0h0M400.9 969.6h0M412.7 920.2h0M386.3 965.5h0M436.8 922.7h0M415.7 894.6h0M418.9 953.0h0M381.2 976.6h0M372.2 978.5h0M363.3 988.9h0M375.0 956.2h0M401.1 955.6h0M395.5 940.1h0M385.5 979.4h0M375.5 959.3h0M353.0 982.1h0M339.3 997.7h0M395.5 940.7h0M347.4 948.0h0M358.0 993.7h0M401.8 924.0h0M420.2 952.8h0M383.7 968.8h0M456.3 647.1h0M396.2 973.0h0M400.2 868.4h0M396.0 919.8h0M387.5 949.7h0M384.5 976.7h0M375.4 977.7h0M331.1 953.7h0M396.2 975.9h0M375.1 982.8h0M438.8 940.6h0M404.3 967.3h0M459.3 884.4h0M401.6 967.0h0M416.0 786.5h0M403.4 936.6h0M353.6 990.6h0M394.3 857.0h0M339.2 998.0h0" stroke="#0f0" stroke-width="4.4" stroke-linecap="round" fill="none" clip-path="url(#cC)"/>
<path d="M317.2 1001.7l6.6 8.7-6.6 8.7-6.6-8.7zM343.9 1000.6l6.6 8.7-6.6 8.7-6.6-8.7zM370.7 998.9l6.6 8.7-6.6 8.7-6.6-8.7zM397.4 997.2l6.6 8.7-6.6 8.7-6.6-8.7zM424.2 993.7l6.6 8.7-6.6 8.7-6.6-8.7zM450.9 987.4l6.6 8.7-6.6 8.7-6.6-8.7zM477.7 984.6l6.6 8.7-6.6 8.7-6.6-8.7zM504.4 975.4l6.6 8.7-6.6 8.7-6.6-8.7zM531.2 965.1l6.6 8.7-6.6 8.7-6.6-8.7zM558.0 945.1l6.6 8.7-6.6 8.7-6.6-8.7zM584.7 942.3l6.6 8.7-6.6 8.7-6.6-8.7zM611.5 937.1l6.6 8.7-6.6 8.7-6.6-8.7zM638.2 937.1l6.6 8.7-6.6 8.7-6.6-8.7zM691.7 818.7l6.6 8.7-6.6 8.7-6.6-8.7z" fill="#000"/>
<path d="M317.2 987.7l6.6 8.7-6.6 8.7-6.6-8.7zM343.9 980.6l6.6 8.7-6.6 8.7-6.6-8.7zM370.7 962.3l6.6 8.7-6.6 8.7-6.6-8.7zM397.4 944.5l6.6 8.7-6.6 8.7-6.6-8.7zM424.2 907.9l6.6 8.7-6.6 8.7-6.6-8.7zM450.9 905.6l6.6 8.7-6.6 8.7-6.6-8.7zM477.7 880.5l6.6 8.7-6.6 8.7-6.6-8.7zM504.4 776.9l6.6 8.7-6.6 8.7-6.6-8.7zM531.2 778.7l6.6 8.7-6.6 8.7-6.6-8.7z" fill="#00a000"/>
<path d="M317.2 1005.2l6.6 8.7-6.6 8.7-6.6-8.7zM343.9 1001.2l6.6 8.7-6.6 8.7-6.6-8.7zM370.7 998.9l6.6 8.7-6.6 8.7-6.6-8.7zM397.4 993.7l6.6 8.7-6.6 8.7-6.6-8.7zM424.2 983.4l6.6 8.7-6.6 8.7-6.6-8.7zM450.9 977.1l6.6 8.7-6.6 8.7-6.6-8.7zM477.7 970.3l6.6 8.7-6.6 8.7-6.6-8.7zM504.4 953.7l6.6 8.7-6.6 8.7-6.6-8.7zM531.2 934.2l6.6 8.7-6.6 8.7-6.6-8.7zM558.0 894.8l6.6 8.7-6.6 8.7-6.6-8.7zM584.7 859.3l6.6 8.7-6.6 8.7-6.6-8.7zM611.5 827.3l6.6 8.7-6.6 8.7-6.6-8.7zM638.2 768.4l6.6 8.7-6.6 8.7-6.6-8.7zM691.7 683.7l6.6 8.7-6.6 8.7-6.6-8.7z" fill="#b00000"/>
<path d="M317.2 1014.9l6.6 8.7-6.6 8.7-6.6-8.7zM343.9 1013.2l6.6 8.7-6.6 8.7-6.6-8.7zM370.7 1012.0l6.6 8.7-6.6 8.7-6.6-8.7zM397.4 1010.3l6.6 8.7-6.6 8.7-6.6-8.7zM424.2 1009.2l6.6 8.7-6.6 8.7-6.6-8.7zM450.9 1006.9l6.6 8.7-6.6 8.7-6.6-8.7zM477.7 1002.9l6.6 8.7-6.6 8.7-6.6-8.7zM504.4 998.9l6.6 8.7-6.6 8.7-6.6-8.7zM531.2 992.0l6.6 8.7-6.6 8.7-6.6-8.7zM558.0 986.3l6.6 8.7-6.6 8.7-6.6-8.7zM584.7 976.0l6.6 8.7-6.6 8.7-6.6-8.7zM611.5 963.4l6.6 8.7-6.6 8.7-6.6-8.7zM638.2 952.6l6.6 8.7-6.6 8.7-6.6-8.7zM665.0 955.4l6.6 8.7-6.6 8.7-6.6-8.7zM691.7 952.6l6.6 8.7-6.6 8.7-6.6-8.7zM718.5 851.3l6.6 8.7-6.6 8.7-6.6-8.7z" fill="#0000b0"/>
<path d="M314 1012.8 L316 1012.6 L318 1012.5 L320 1012.3 L322 1012.2 L324 1012 L326 1011.8 L328 1011.7 L330 1011.5 L332 1011.4 L334 1011.2 L336 1011 L338 1010.8 L340 1010.7 L342 1010.5 L344 1010.3 L346 1010.1 L348 1009.9 L350 1009.8 L352 1009.6 L354 1009.4 L356 1009.2 L358 1009 L360 1008.8 L362 1008.6 L364 1008.4 L366 1008.2 L368 1008 L370 1007.7 L372 1007.5 L374 1007.3 L376 1007.1 L378 1006.8 L380 1006.6 L382 1006.4 L384 1006.2 L386 1005.9 L388 1005.7 L390 1005.4 L392 1005.2 L394 1004.9 L396 1004.7 L398 1004.4 L400 1004.1 L402 1003.9 L404 1003.6 L406 1003.3 L408 1003 L410 1002.8 L412 1002.5 L414 1002.2 L416 1001.9 L418 1001.6 L420 1001.3 L422 1001 L424 1000.7 L426 1000.4 L428 1000 L430 999.7 L432 999.4 L434 999.1 L436 998.7 L438 998.4 L440 998 L442 997.7 L444 997.3 L446 997 L448 996.6 L450 996.2 L452 995.9 L454 995.5 L456 995.1 L458 994.7 L460 994.3 L462 993.9 L464 993.5 L466 993.1 L468 992.7 L470 992.2 L472 991.8 L474 991.4 L476 990.9 L478 990.5 L480 990 L482 989.6 L484 989.1 L486 988.6 L488 988.1 L490 987.7 L492 987.2 L494 986.7 L496 986.2 L498 985.6 L500 985.1 L502 984.6 L504 984.1 L506 983.5 L508 983 L510 982.4 L512 981.8 L514 981.3 L516 980.7 L518 980.1 L520 979.5 L522 978.9 L524 978.3 L526 977.7 L528 977 L530 976.4 L532 975.7 L534 975.1 L536 974.4 L538 973.8 L540 973.1 L542 972.4 L544 971.7 L546 971 L548 970.2 L550 969.5 L552 968.8 L554 968 L556 967.2 L558 966.5 L560 965.7 L562 964.9 L564 964.1 L566 963.3 L568 962.4 L570 961.6 L572 960.8 L574 959.9 L576 959 L578 958.1 L580 957.2 L582 956.3 L584 955.4 L586 954.5 L588 953.5 L590 952.5 L592 951.6 L594 950.6 L596 949.6 L598 948.6 L600 947.5 L602 946.5 L604 945.4 L606 944.4 L608 943.3 L610 942.2 L612 941.1 L614 939.9 L616 938.8 L618 937.6 L620 936.4 L622 935.2 L624 934 L626 932.8 L628 931.5 L630 930.3 L632 929 L634 927.7 L636 926.4 L638 925 L640 923.7 L642 922.3 L644 920.9 L646 919.5 L648 918.1 L650 916.6 L652 915.2 L654 913.7 L656 912.2 L658 910.7 L660 909.1 L662 907.5 L664 905.9 L666 904.3 L668 902.7 L670 901 L672 899.3 L674 897.6 L676 895.9 L678 894.2 L680 892.4 L682 890.6 L684 888.8 L686 886.9 L688 885 L690 883.1 L692 881.2 L694 879.2 L696 877.3 L698 875.3 L700 873.2 L702 871.2 L704 869.1 L706 866.9 L708 864.8 L710 862.6 L712 860.4 L714 858.2 L716 855.9 L718 853.6 L720 851.3 L722 848.9 L724 846.5 L726 844.1 L728 841.6 L730 839.1 L732 836.6 L734 834 L736 831.4 L738 828.8 L740 826.1 L742 823.4 L744 820.6 L746 817.8 L748 815 L750 812.2 L752 809.2 L754 806.3 L756 803.3 L758 800.3 L760 797.2 L762 794.1 L764 791 L766 787.8 L768 784.5 L770 781.3 L772 777.9 L774 774.6 L776 771.2 L778 767.7 L780 764.2 L782 760.6 L784 757 L786 753.3 L788 749.6 L790 745.9 L792 742.1 L794 738.2 L796 734.3 L798 730.3 L800 726.3 L802 722.2 L804 718.1 L806 713.9 L808 709.6 L810 705.3 L812 700.9 L814 696.5 L816 692 L818 687.5 L820 682.9 L822 678.2 L824 673.4 L826 668.6 L828 663.8 L830 658.8" fill="none" stroke="#000" stroke-width="4" stroke-dasharray="15.5 17" clip-path="url(#cC)"/>
<path d="M314 996.5 L316 995.9 L318 995.4 L320 994.8 L322 994.2 L324 993.5 L326 992.9 L328 992.2 L330 991.6 L332 990.9 L334 990.2 L336 989.5 L338 988.8 L340 988 L342 987.3 L344 986.5 L346 985.7 L348 984.9 L350 984.1 L352 983.3 L354 982.4 L356 981.6 L358 980.7 L360 979.8 L362 978.8 L364 977.9 L366 976.9 L368 975.9 L370 974.9 L372 973.9 L374 972.8 L376 971.8 L378 970.7 L380 969.5 L382 968.4 L384 967.2 L386 966 L388 964.8 L390 963.6 L392 962.3 L394 961 L396 959.7 L398 958.3 L400 956.9 L402 955.5 L404 954.1 L406 952.6 L408 951.1 L410 949.6 L412 948 L414 946.4 L416 944.8 L418 943.1 L420 941.4 L422 939.7 L424 937.9 L426 936.1 L428 934.2 L430 932.3 L432 930.4 L434 928.4 L436 926.4 L438 924.4 L440 922.3 L442 920.1 L444 917.9 L446 915.7 L448 913.4 L450 911.1 L452 908.7 L454 906.3 L456 903.8 L458 901.3 L460 898.7 L462 896 L464 893.3 L466 890.6 L468 887.7 L470 884.9 L472 881.9 L474 878.9 L476 875.9 L478 872.7 L480 869.6 L482 866.3 L484 863 L486 859.6 L488 856.1 L490 852.5 L492 848.9 L494 845.2 L496 841.5 L498 837.6 L500 833.7 L502 829.6 L504 825.5 L506 821.3 L508 817.1 L510 812.7 L512 808.2 L514 803.7 L516 799 L518 794.3 L520 789.4 L522 784.5 L524 779.4 L526 774.2 L528 768.9 L530 763.6 L532 758.1 L534 752.4 L536 746.7 L538 740.8 L540 734.8 L542 728.7 L544 722.5 L546 716.1 L548 709.6 L550 703 L552 696.2 L554 689.3 L556 682.2 L558 675 L560 667.6 L562 660 L564 652.3" fill="none" stroke="#00a000" stroke-width="4" stroke-dasharray="15.5 17" clip-path="url(#cC)"/>
<path d="M314 1022 L316 1022 L318 1021.9 L320 1021.9 L322 1021.8 L324 1021.8 L326 1021.7 L328 1021.7 L330 1021.7 L332 1021.6 L334 1021.6 L336 1021.5 L338 1021.5 L340 1021.4 L342 1021.4 L344 1021.3 L346 1021.3 L348 1021.2 L350 1021.1 L352 1021.1 L354 1021 L356 1021 L358 1020.9 L360 1020.8 L362 1020.8 L364 1020.7 L366 1020.6 L368 1020.6 L370 1020.5 L372 1020.4 L374 1020.3 L376 1020.3 L378 1020.2 L380 1020.1 L382 1020 L384 1019.9 L386 1019.8 L388 1019.8 L390 1019.7 L392 1019.6 L394 1019.5 L396 1019.4 L398 1019.3 L400 1019.2 L402 1019.1 L404 1019 L406 1018.8 L408 1018.7 L410 1018.6 L412 1018.5 L414 1018.4 L416 1018.2 L418 1018.1 L420 1018 L422 1017.9 L424 1017.7 L426 1017.6 L428 1017.4 L430 1017.3 L432 1017.1 L434 1017 L436 1016.8 L438 1016.7 L440 1016.5 L442 1016.3 L444 1016.2 L446 1016 L448 1015.8 L450 1015.6 L452 1015.4 L454 1015.2 L456 1015 L458 1014.8 L460 1014.6 L462 1014.4 L464 1014.2 L466 1014 L468 1013.7 L470 1013.5 L472 1013.3 L474 1013 L476 1012.8 L478 1012.5 L480 1012.2 L482 1012 L484 1011.7 L486 1011.4 L488 1011.1 L490 1010.8 L492 1010.5 L494 1010.2 L496 1009.9 L498 1009.6 L500 1009.2 L502 1008.9 L504 1008.5 L506 1008.2 L508 1007.8 L510 1007.4 L512 1007 L514 1006.6 L516 1006.2 L518 1005.8 L520 1005.4 L522 1005 L524 1004.5 L526 1004.1 L528 1003.6 L530 1003.1 L532 1002.6 L534 1002.1 L536 1001.6 L538 1001.1 L540 1000.6 L542 1000 L544 999.5 L546 998.9 L548 998.3 L550 997.7 L552 997.1 L554 996.4 L556 995.8 L558 995.1 L560 994.4 L562 993.8 L564 993 L566 992.3 L568 991.6 L570 990.8 L572 990 L574 989.2 L576 988.4 L578 987.6 L580 986.7 L582 985.8 L584 984.9 L586 984 L588 983.1 L590 982.1 L592 981.1 L594 980.1 L596 979.1 L598 978 L600 976.9 L602 975.8 L604 974.7 L606 973.5 L608 972.3 L610 971.1 L612 969.8 L614 968.5 L616 967.2 L618 965.9 L620 964.5 L622 963.1 L624 961.7 L626 960.2 L628 958.7 L630 957.1 L632 955.6 L634 953.9 L636 952.3 L638 950.6 L640 948.8 L642 947.1 L644 945.2 L646 943.4 L648 941.4 L650 939.5 L652 937.5 L654 935.4 L656 933.3 L658 931.2 L660 929 L662 926.7 L664 924.4 L666 922.1 L668 919.6 L670 917.2 L672 914.6 L674 912 L676 909.4 L678 906.6 L680 903.9 L682 901 L684 898.1 L686 895.1 L688 892 L690 888.9 L692 885.7 L694 882.4 L696 879 L698 875.6 L700 872.1 L702 868.5 L704 864.8 L706 861 L708 857.1 L710 853.1 L712 849.1 L714 844.9 L716 840.7 L718 836.3 L720 831.8 L722 827.3 L724 822.6 L726 817.8 L728 812.9 L730 807.9 L732 802.7 L734 797.5 L736 792.1 L738 786.6 L740 780.9 L742 775.1 L744 769.2 L746 763.2 L748 757 L750 750.6 L752 744.1 L754 737.4 L756 730.6 L758 723.7 L760 716.5 L762 709.2 L764 701.7 L766 694 L768 686.2 L770 678.1 L772 669.9 L774 661.5 L776 652.8" fill="none" stroke="#0000b0" stroke-width="4" stroke-dasharray="15.5 17" clip-path="url(#cC)"/>
<path d="M314 1015 L316 1014.9 L318 1014.7 L320 1014.5 L322 1014.3 L324 1014.1 L326 1013.9 L328 1013.7 L330 1013.5 L332 1013.3 L334 1013.1 L336 1012.8 L338 1012.6 L340 1012.4 L342 1012.1 L344 1011.9 L346 1011.6 L348 1011.4 L350 1011.1 L352 1010.9 L354 1010.6 L356 1010.3 L358 1010 L360 1009.8 L362 1009.5 L364 1009.2 L366 1008.9 L368 1008.5 L370 1008.2 L372 1007.9 L374 1007.6 L376 1007.2 L378 1006.9 L380 1006.5 L382 1006.2 L384 1005.8 L386 1005.4 L388 1005 L390 1004.6 L392 1004.2 L394 1003.8 L396 1003.4 L398 1003 L400 1002.6 L402 1002.1 L404 1001.7 L406 1001.2 L408 1000.7 L410 1000.2 L412 999.7 L414 999.2 L416 998.7 L418 998.2 L420 997.6 L422 997.1 L424 996.5 L426 996 L428 995.4 L430 994.8 L432 994.2 L434 993.5 L436 992.9 L438 992.3 L440 991.6 L442 990.9 L444 990.2 L446 989.5 L448 988.8 L450 988.1 L452 987.3 L454 986.5 L456 985.8 L458 985 L460 984.1 L462 983.3 L464 982.5 L466 981.6 L468 980.7 L470 979.8 L472 978.9 L474 977.9 L476 976.9 L478 976 L480 975 L482 973.9 L484 972.9 L486 971.8 L488 970.7 L490 969.6 L492 968.4 L494 967.3 L496 966.1 L498 964.9 L500 963.6 L502 962.3 L504 961.1 L506 959.7 L508 958.4 L510 957 L512 955.6 L514 954.1 L516 952.7 L518 951.2 L520 949.6 L522 948.1 L524 946.5 L526 944.8 L528 943.2 L530 941.5 L532 939.7 L534 938 L536 936.2 L538 934.3 L540 932.4 L542 930.5 L544 928.5 L546 926.5 L548 924.4 L550 922.3 L552 920.2 L554 918 L556 915.8 L558 913.5 L560 911.2 L562 908.8 L564 906.4 L566 903.9 L568 901.3 L570 898.8 L572 896.1 L574 893.4 L576 890.7 L578 887.8 L580 885 L582 882 L584 879 L586 876 L588 872.9 L590 869.7 L592 866.4 L594 863.1 L596 859.7 L598 856.2 L600 852.7 L602 849.1 L604 845.4 L606 841.6 L608 837.7 L610 833.8 L612 829.8 L614 825.7 L616 821.5 L618 817.2 L620 812.8 L622 808.4 L624 803.8 L626 799.2 L628 794.4 L630 789.6 L632 784.6 L634 779.6 L636 774.4 L638 769.1 L640 763.7 L642 758.2 L644 752.6 L646 746.9 L648 741 L650 735.1 L652 729 L654 722.7 L656 716.3 L658 709.8 L660 703.2 L662 696.4 L664 689.5 L666 682.4 L668 675.2 L670 667.8 L672 660.3 L674 652.6" fill="none" stroke="#b00000" stroke-width="4" stroke-dasharray="15.5 17" clip-path="url(#cC)"/>
<text transform="translate(534.6,702) rotate(-69)" text-anchor="middle" dominant-baseline="central" font-size="20.3" fill="#00a000">m=1.69</text>
<text transform="translate(640.5,714.5) rotate(-69)" text-anchor="middle" dominant-baseline="central" font-size="20.5" fill="#b00000">m=1.69</text>
<text transform="translate(748,713.8) rotate(-68)" text-anchor="middle" dominant-baseline="central" font-size="20.7" fill="#0000b0">m=1.90</text>
<text transform="translate(819.5,718) rotate(-57)" text-anchor="middle" dominant-baseline="central" font-size="21" fill="#000">m=1.10</text>
<rect x="127" y="666.4" width="808.7" height="362.9" fill="none" stroke="#262626" stroke-width="1.9"/>
<path d="M127 1029.3 v8.5 M127 666.4 v-8.5 M238.9 1029.3 v4.5 M238.9 666.4 v-4.5 M304.3 1029.3 v4.5 M304.3 666.4 v-4.5 M350.7 1029.3 v4.5 M350.7 666.4 v-4.5 M386.7 1029.3 v4.5 M386.7 666.4 v-4.5 M416.2 1029.3 v4.5 M416.2 666.4 v-4.5 M441 1029.3 v4.5 M441 666.4 v-4.5 M462.6 1029.3 v4.5 M462.6 666.4 v-4.5 M481.6 1029.3 v4.5 M481.6 666.4 v-4.5 M498.6 1029.3 v8.5 M498.6 666.4 v-8.5 M610.5 1029.3 v4.5 M610.5 666.4 v-4.5 M675.9 1029.3 v4.5 M675.9 666.4 v-4.5 M722.3 1029.3 v4.5 M722.3 666.4 v-4.5 M758.3 1029.3 v4.5 M758.3 666.4 v-4.5 M787.8 1029.3 v4.5 M787.8 666.4 v-4.5 M812.6 1029.3 v4.5 M812.6 666.4 v-4.5 M834.2 1029.3 v4.5 M834.2 666.4 v-4.5 M853.2 1029.3 v4.5 M853.2 666.4 v-4.5 M870.2 1029.3 v8.5 M870.2 666.4 v-8.5" stroke="#262626" stroke-width="1.5" fill="none"/>
<g font-size="21" fill="#262626"><text x="133.5" y="1067.9" text-anchor="middle">10</text><text x="502.1" y="1067.9" text-anchor="middle">100</text><text x="870.7" y="1067.9" text-anchor="middle">1000</text></g>
<path d="M127 1023.6 h-9 M935.7 1023.6 h9 M127 966.4 h-9 M935.7 966.4 h9 M127 909.2 h-9 M935.7 909.2 h9 M127 852 h-9 M935.7 852 h9 M127 794.8 h-9 M935.7 794.8 h9 M127 737.6 h-9 M935.7 737.6 h9 M127 680.4 h-9 M935.7 680.4 h9" stroke="#262626" stroke-width="1.5"/>
<g font-size="21" fill="#262626" text-anchor="end"><text x="110.6" y="1032.8">0</text><text x="110.6" y="975.6">1</text><text x="110.6" y="918.4">2</text><text x="110.6" y="861.2">3</text><text x="110.6" y="804">4</text><text x="110.6" y="746.8">5</text><text x="110.6" y="689.6">6</text></g>
<text x="151" y="689.8" font-size="20" font-weight="bold" fill="#000">C)</text>
<text transform="translate(77.8,848.5) rotate(-90)" text-anchor="middle" font-size="21.6" fill="#000">W<tspan font-size="17" dy="10">s</tspan><tspan dy="-10"> [mm s</tspan><tspan font-size="16" dy="-10.5">-1</tspan><tspan dy="10.5">]</tspan></text>
<path d="M443.7 1416.7h0M527.0 1429.2h0M532.3 1415.9h0M456.2 1422.6h0M377.4 1429.5h0M368.9 1428.2h0M364.5 1429.3h0M520.8 1428.0h0M454.2 1420.1h0M490.2 1427.2h0M414.7 1423.7h0M442.2 1422.1h0M506.5 1419.1h0M435.7 1430.0h0M388.8 1422.4h0M407.0 1418.6h0M412.0 1429.3h0M382.2 1420.4h0M459.9 1419.6h0M381.4 1413.4h0M433.9 1421.3h0M390.0 1418.4h0M556.4 1430.5h0M407.1 1410.7h0M548.2 1423.3h0M353.5 1414.8h0M467.0 1424.3h0M416.5 1411.6h0M392.7 1417.8h0M357.8 1408.9h0M412.8 1408.8h0M498.3 1411.6h0M459.3 1417.3h0M370.1 1409.9h0M358.1 1428.5h0M412.7 1418.9h0M467.6 1420.9h0M443.2 1408.1h0M394.6 1412.1h0M464.1 1419.7h0M351.5 1417.9h0M611.2 1417.9h0M466.0 1413.4h0M369.8 1413.8h0M527.9 1413.1h0M449.8 1418.3h0M418.0 1414.8h0M371.4 1414.7h0M497.2 1417.3h0M415.9 1416.0h0M390.4 1418.4h0M499.7 1428.9h0M342.4 1427.3h0M367.1 1410.6h0M369.8 1428.0h0M495.9 1410.6h0M682.3 1422.1h0M461.7 1426.9h0M498.5 1417.3h0M434.2 1420.3h0M351.1 1419.7h0M569.9 1426.5h0M437.6 1414.9h0M484.1 1425.8h0M361.4 1422.2h0M431.3 1412.7h0M416.0 1426.7h0M507.3 1424.4h0M412.4 1425.9h0M420.0 1416.4h0M477.0 1409.4h0M507.6 1423.3h0M479.6 1425.3h0M491.0 1427.6h0M335.6 1412.4h0M435.0 1415.1h0M417.0 1427.8h0M421.5 1409.2h0M495.6 1419.6h0M362.5 1423.2h0M460.5 1414.3h0M356.7 1415.2h0M565.5 1425.4h0M423.5 1411.2h0M534.8 1418.3h0M376.3 1416.8h0M458.6 1420.5h0M361.9 1413.7h0M528.1 1419.9h0M369.5 1421.1h0M472.8 1413.2h0M491.0 1413.5h0M353.2 1408.2h0M399.0 1430.2h0M561.4 1413.8h0M504.0 1429.0h0M502.6 1420.3h0M446.5 1414.2h0M417.7 1417.0h0M505.3 1419.7h0M392.4 1412.9h0M397.2 1430.4h0M348.7 1408.7h0M381.1 1423.6h0M471.5 1410.5h0M569.1 1421.7h0M448.6 1419.6h0M389.0 1419.6h0M387.3 1418.6h0M460.0 1422.9h0M405.7 1415.7h0M420.8 1408.2h0M413.7 1420.4h0M451.6 1416.5h0M441.3 1411.1h0M370.2 1430.1h0M514.0 1416.6h0M371.1 1416.7h0M397.7 1423.4h0M455.7 1416.0h0M506.0 1409.2h0M396.6 1424.9h0M498.0 1427.9h0M558.3 1425.7h0M355.2 1423.0h0M547.9 1429.0h0M410.0 1419.0h0M425.6 1411.5h0M424.4 1430.1h0M409.7 1408.2h0M431.6 1412.1h0M381.9 1429.0h0M475.8 1419.2h0M380.6 1413.6h0M451.9 1409.9h0M433.9 1418.1h0M487.2 1410.8h0M381.9 1427.6h0M425.1 1408.7h0M368.5 1414.9h0M436.1 1429.7h0M363.6 1414.5h0M410.8 1422.0h0M455.1 1418.1h0M451.1 1419.6h0M466.4 1430.5h0M397.6 1408.8h0M539.9 1415.5h0M551.1 1416.1h0M360.2 1430.7h0M514.7 1409.5h0M409.6 1423.2h0M385.3 1418.6h0M380.1 1412.0h0M461.2 1424.0h0M382.2 1427.5h0M629.9 1430.1h0M459.2 1410.2h0M374.7 1415.5h0M410.1 1412.6h0M510.7 1428.7h0M458.2 1409.7h0M391.0 1418.8h0M561.3 1429.7h0M365.0 1430.5h0M431.1 1416.7h0M493.6 1422.6h0M613.1 1423.8h0M370.1 1409.3h0M506.6 1413.7h0M403.4 1412.3h0M408.6 1408.9h0M422.5 1417.0h0M339.0 1411.1h0M436.4 1409.3h0M400.7 1420.6h0M451.7 1426.2h0M432.1 1414.8h0M382.2 1414.0h0M402.9 1408.4h0M466.7 1415.8h0M503.9 1408.7h0M387.1 1412.7h0M396.4 1410.0h0M414.2 1411.4h0M391.0 1413.8h0M406.9 1426.6h0M491.0 1419.7h0M426.0 1421.9h0M571.7 1421.3h0M460.4 1415.0h0M422.1 1428.6h0M424.3 1411.4h0M430.3 1410.1h0M381.4 1427.2h0M425.4 1408.7h0M352.0 1427.3h0M513.0 1427.2h0M404.1 1408.8h0M367.8 1428.4h0M425.4 1426.1h0M390.1 1411.1h0M461.8 1409.2h0M457.7 1422.6h0M409.6 1418.4h0M522.4 1413.3h0M502.8 1416.6h0M424.5 1427.5h0M387.9 1420.1h0M527.0 1416.9h0M434.6 1413.4h0M320.0 1408.1h0M433.3 1417.6h0M615.0 1421.8h0M393.1 1428.5h0M380.2 1416.9h0M363.0 1415.3h0M402.5 1429.4h0M480.3 1422.9h0M375.1 1430.8h0M400.2 1425.9h0M460.5 1420.9h0M425.1 1427.9h0M502.7 1409.2h0M505.5 1419.8h0M433.5 1424.5h0M418.4 1408.8h0M483.3 1418.4h0M360.0 1418.8h0M374.1 1417.9h0M416.5 1426.9h0M629.5 1430.6h0M391.3 1430.7h0M541.2 1425.1h0M369.1 1430.7h0M496.4 1415.5h0M440.3 1421.1h0M428.9 1429.7h0M456.0 1413.9h0M549.2 1423.6h0M487.7 1414.2h0M370.0 1423.9h0M440.0 1427.1h0M415.7 1430.4h0M379.3 1420.6h0M436.1 1417.8h0M599.3 1427.4h0M480.7 1423.0h0M362.1 1423.0h0M518.4 1417.2h0M535.6 1419.6h0M369.5 1425.2h0M374.0 1425.3h0M364.9 1428.8h0M408.5 1427.0h0M522.4 1411.6h0M395.2 1413.9h0M429.9 1425.8h0M483.9 1409.7h0M367.9 1424.7h0M449.3 1422.9h0M509.8 1430.8h0M369.7 1411.4h0M387.2 1409.6h0M463.3 1420.7h0M317.6 1410.7h0M461.7 1416.3h0M393.1 1426.5h0M388.7 1420.2h0M537.6 1413.0h0M502.7 1421.5h0M360.0 1411.4h0M384.7 1415.7h0M426.0 1424.8h0M368.0 1410.3h0M446.5 1407.9h0M374.2 1427.6h0M554.1 1427.7h0M396.8 1423.3h0M447.1 1411.3h0M384.3 1427.1h0M429.1 1423.1h0M372.1 1417.1h0M455.1 1410.1h0M501.4 1409.4h0M559.2 1419.7h0M442.1 1409.6h0M477.8 1431.3h0M397.8 1410.7h0M401.5 1423.5h0M486.7 1418.7h0M384.4 1420.8h0M433.0 1429.3h0M538.5 1419.2h0M411.6 1418.7h0M454.8 1415.8h0M452.3 1415.3h0M421.5 1429.6h0M425.5 1407.9h0M510.3 1409.3h0M407.7 1422.0h0M399.0 1422.8h0M544.7 1409.6h0M476.6 1431.2h0M370.9 1426.6h0M342.8 1429.5h0M396.3 1416.3h0M404.4 1422.8h0M430.9 1422.7h0M353.9 1412.2h0M394.4 1411.4h0M452.3 1422.5h0M439.1 1417.2h0M423.1 1426.7h0M375.4 1420.2h0M476.8 1429.4h0M395.8 1421.6h0M411.1 1421.8h0M401.9 1429.6h0M501.8 1421.3h0M427.7 1424.6h0M457.9 1429.9h0M510.2 1430.5h0M507.8 1426.8h0M603.7 1418.5h0M442.2 1419.4h0M534.1 1424.8h0M410.2 1416.9h0M387.2 1409.9h0M431.1 1412.9h0M415.2 1420.3h0M358.2 1428.7h0M514.2 1419.2h0M388.3 1414.2h0M423.7 1411.0h0M397.3 1419.5h0M414.4 1413.1h0M571.6 1413.0h0M340.6 1415.7h0M371.3 1419.0h0M388.1 1426.6h0M401.8 1411.0h0M361.2 1426.2h0M468.5 1428.8h0M347.2 1427.8h0M442.4 1429.1h0M462.7 1409.9h0M394.7 1417.2h0M413.6 1409.4h0M370.9 1415.5h0M376.7 1412.8h0M465.3 1426.1h0M482.9 1426.1h0M336.5 1408.2h0M510.4 1429.6h0M383.9 1418.6h0M512.2 1410.0h0M431.0 1425.8h0M500.6 1426.3h0M431.9 1417.9h0M553.6 1410.3h0M478.7 1426.6h0M382.2 1409.1h0M469.8 1420.5h0M392.7 1411.4h0M400.0 1407.9h0M431.7 1422.1h0M382.3 1424.8h0M423.7 1418.1h0M427.2 1423.4h0M489.8 1408.8h0M498.9 1409.4h0M498.1 1420.5h0M377.1 1420.3h0M399.4 1424.5h0M393.8 1414.6h0M346.6 1410.0h0M400.0 1426.1h0M412.3 1427.9h0M547.5 1418.8h0M540.6 1416.0h0M569.2 1415.3h0M563.9 1431.1h0M402.3 1425.7h0M458.2 1430.0h0M464.7 1410.6h0M367.1 1416.7h0M388.4 1413.6h0M399.8 1430.0h0M425.9 1429.6h0M560.6 1424.4h0M398.5 1409.9h0M401.4 1419.0h0M408.0 1417.7h0M525.8 1416.3h0M364.8 1430.7h0M461.4 1427.7h0M377.5 1427.5h0M483.8 1419.6h0M426.1 1411.6h0M405.9 1424.9h0M526.2 1415.0h0M356.0 1422.2h0M404.0 1409.8h0M498.6 1414.6h0M519.4 1428.2h0M411.1 1430.1h0M595.5 1420.4h0M474.3 1431.3h0M514.6 1430.5h0M320.8 1412.9h0M410.8 1425.4h0M374.9 1425.8h0M425.1 1414.9h0M479.6 1416.9h0M354.1 1424.6h0M404.3 1409.8h0M359.8 1413.5h0M464.2 1408.4h0M473.0 1413.1h0M352.1 1409.5h0M377.6 1413.9h0M422.5 1413.8h0M422.0 1410.2h0M385.7 1428.6h0M413.7 1422.3h0M363.3 1416.4h0M534.7 1427.2h0M337.6 1420.7h0M574.2 1417.0h0M476.8 1430.5h0M379.0 1426.3h0M500.7 1411.3h0M413.8 1416.2h0M377.5 1410.9h0M516.0 1421.2h0M438.6 1421.7h0M420.6 1414.7h0M488.3 1417.3h0M494.3 1427.5h0M344.5 1426.1h0M452.6 1421.0h0M414.4 1426.9h0M466.0 1419.0h0M376.3 1422.6h0M381.0 1418.0h0M482.1 1423.3h0M386.9 1430.7h0M464.4 1414.0h0M509.3 1425.4h0M386.3 1422.1h0M419.0 1427.7h0M539.3 1427.0h0M463.4 1412.6h0M341.0 1414.5h0M439.1 1410.1h0M491.9 1416.4h0M490.2 1429.8h0M469.4 1410.3h0M430.8 1409.4h0M513.0 1418.6h0M396.6 1418.3h0M391.6 1418.0h0M437.5 1423.0h0M418.3 1418.2h0M358.0 1415.0h0M490.8 1431.4h0M512.3 1408.3h0M354.5 1429.2h0M351.0 1428.1h0M389.9 1422.4h0M466.6 1418.8h0M377.5 1417.1h0M408.0 1417.1h0M361.6 1421.4h0M464.8 1430.7h0M503.8 1415.7h0M446.6 1416.8h0M376.4 1429.3h0M473.9 1409.8h0M358.6 1429.3h0M422.3 1414.1h0M455.8 1424.4h0M500.8 1414.2h0M342.1 1410.9h0M420.6 1415.0h0M522.9 1422.3h0M427.7 1409.7h0M545.2 1418.3h0M394.5 1410.9h0M510.7 1426.6h0M393.1 1419.4h0M457.0 1408.6h0M436.9 1415.1h0M443.1 1410.7h0M366.6 1423.6h0M368.8 1427.9h0M357.0 1429.9h0M491.9 1430.8h0M472.1 1414.2h0M439.0 1426.4h0M543.5 1416.0h0M410.3 1420.7h0M374.1 1414.5h0M378.3 1419.7h0M365.4 1415.8h0M381.9 1431.0h0M538.9 1410.8h0M424.6 1410.5h0M447.6 1430.9h0M385.8 1429.4h0M512.9 1414.9h0M438.0 1411.6h0M427.8 1410.8h0M412.3 1411.4h0M495.5 1418.3h0M374.2 1418.0h0M483.8 1420.6h0M498.7 1427.9h0M461.1 1426.3h0M405.2 1427.4h0M481.0 1410.5h0M540.0 1418.5h0M458.4 1419.2h0M499.5 1414.7h0M465.8 1419.0h0M546.5 1420.1h0M413.8 1413.5h0M519.2 1424.9h0M497.5 1410.0h0M364.0 1426.7h0M478.3 1426.5h0M481.2 1415.4h0M428.4 1407.9h0M468.5 1409.4h0M371.4 1409.0h0M449.6 1424.0h0M510.2 1414.8h0M367.9 1408.4h0M416.2 1411.4h0M451.3 1418.2h0M536.0 1410.6h0M481.1 1413.8h0M512.3 1412.2h0M471.5 1413.1h0M442.4 1414.8h0M487.4 1431.0h0M370.3 1430.7h0M431.2 1411.1h0M441.5 1420.6h0M546.9 1415.4h0M608.5 1425.9h0M461.0 1410.4h0M386.9 1412.4h0M407.0 1429.9h0M449.3 1428.9h0M423.4 1414.5h0M431.4 1425.1h0M365.7 1420.1h0M375.4 1416.5h0M543.8 1429.2h0M500.6 1422.8h0M397.0 1408.2h0M450.9 1427.8h0M370.2 1429.0h0M492.7 1423.7h0M440.4 1412.5h0M403.6 1428.2h0M397.1 1426.2h0M571.8 1428.1h0M320.0 1414.4h0M368.1 1421.9h0M496.5 1428.0h0M523.0 1417.1h0M358.7 1413.5h0M408.6 1425.3h0M360.4 1419.6h0M599.5 1421.4h0M367.1 1426.8h0M408.9 1428.9h0M406.8 1417.8h0M421.2 1413.0h0M455.7 1417.6h0M410.2 1410.3h0M424.3 1425.7h0M444.3 1419.9h0M442.8 1408.6h0M392.3 1431.3h0M399.2 1421.0h0M364.1 1429.5h0M515.9 1421.0h0M393.6 1428.4h0M570.2 1411.5h0M425.0 1426.8h0M412.9 1423.9h0M396.3 1426.0h0M356.3 1416.4h0M500.3 1423.0h0M391.8 1413.2h0M401.6 1421.3h0M418.6 1418.8h0M357.1 1415.6h0M407.2 1422.7h0M426.7 1429.7h0M514.9 1431.0h0M510.1 1414.9h0M387.2 1427.6h0M417.5 1421.0h0M443.6 1427.9h0M483.3 1419.6h0M374.3 1408.3h0M425.6 1427.1h0M504.4 1426.5h0M503.0 1426.7h0M632.7 1418.8h0M404.0 1418.1h0M451.3 1428.2h0M608.5 1428.1h0M395.8 1417.3h0M448.2 1417.2h0M418.5 1420.6h0M457.6 1422.8h0M352.4 1423.6h0M514.5 1431.3h0M449.7 1418.6h0M380.2 1411.7h0M441.4 1429.3h0M369.7 1426.1h0M370.2 1426.4h0M545.5 1417.2h0M401.0 1430.1h0M435.9 1413.8h0M544.7 1424.0h0M356.1 1414.5h0M401.4 1426.2h0M352.2 1417.2h0M403.3 1421.8h0M412.1 1417.7h0M584.7 1430.0h0M472.2 1417.0h0M546.2 1424.5h0M467.3 1417.5h0M468.8 1424.9h0M363.6 1418.3h0M496.7 1412.7h0M355.6 1414.9h0M413.1 1428.7h0M367.1 1408.0h0M428.5 1427.1h0M386.1 1426.2h0M373.2 1425.4h0M391.0 1422.9h0M480.8 1417.9h0M369.4 1426.5h0M463.3 1412.1h0M372.8 1425.1h0M613.5 1430.3h0M581.9 1419.0h0M637.7 1423.9h0M394.1 1422.8h0M384.6 1427.3h0M482.4 1425.2h0M366.5 1408.7h0M386.2 1420.9h0M385.7 1428.7h0M473.3 1423.4h0M372.3 1411.8h0M518.4 1427.7h0M401.2 1423.1h0M378.3 1424.4h0M564.7 1417.3h0M385.3 1431.2h0M437.5 1411.1h0M544.4 1431.2h0M522.0 1414.1h0M354.9 1428.5h0M444.7 1421.9h0M607.2 1429.5h0M451.8 1431.1h0M440.0 1428.1h0M428.0 1430.7h0M399.7 1420.1h0M381.5 1424.7h0M382.7 1415.1h0M366.4 1412.1h0M372.1 1426.1h0M444.2 1430.3h0M454.4 1413.2h0M412.6 1415.6h0M439.4 1430.7h0M543.0 1411.5h0M485.7 1421.5h0M436.7 1418.6h0M645.9 1424.4h0M478.2 1426.2h0M414.0 1422.7h0M363.5 1421.3h0M447.9 1416.3h0M376.9 1429.2h0M390.2 1431.1h0M381.0 1418.9h0M593.1 1424.7h0M404.9 1411.0h0M410.8 1418.7h0M406.8 1417.8h0M544.2 1422.2h0M339.6 1416.9h0M458.7 1425.7h0M519.7 1415.8h0M389.4 1415.0h0M351.7 1414.7h0M497.2 1429.3h0M477.4 1416.5h0M382.2 1429.3h0M393.1 1420.6h0M421.7 1419.8h0M505.2 1424.9h0M427.1 1414.7h0M361.6 1421.1h0M450.1 1412.9h0M474.5 1413.3h0M447.9 1429.1h0M497.6 1419.6h0M346.2 1428.5h0M485.9 1420.6h0M369.3 1415.7h0M379.4 1412.4h0M441.8 1411.3h0M360.2 1424.8h0M379.5 1408.6h0M500.9 1416.7h0M521.6 1418.3h0M418.9 1429.7h0M392.1 1428.9h0M431.5 1418.2h0M444.5 1425.1h0M395.5 1414.9h0M319.4 1414.9h0M423.5 1423.8h0M526.1 1421.5h0M399.3 1411.4h0M541.1 1420.9h0M491.4 1416.5h0M369.9 1416.0h0M498.8 1425.6h0M541.3 1421.9h0M438.5 1413.0h0M441.5 1428.0h0M400.8 1413.1h0M329.5 1412.9h0M453.5 1411.1h0M400.0 1420.6h0M466.4 1418.1h0M397.7 1411.2h0M513.9 1428.0h0M453.1 1416.3h0M390.0 1425.5h0M582.9 1422.2h0M488.7 1415.5h0M437.7 1424.9h0M455.0 1419.2h0M484.2 1409.3h0M413.1 1410.6h0M412.8 1408.4h0M374.1 1416.4h0M454.9 1429.5h0M423.4 1420.7h0M504.4 1430.6h0M401.6 1424.2h0M522.6 1418.9h0M445.2 1421.6h0M438.4 1425.8h0M418.4 1420.5h0M343.2 1414.9h0M370.0 1411.8h0M491.8 1408.7h0M405.6 1416.7h0M401.1 1419.5h0M430.8 1420.4h0M497.8 1411.6h0M363.8 1429.4h0M502.1 1409.8h0M439.6 1426.7h0M406.2 1410.7h0M476.2 1422.8h0M440.3 1429.4h0M568.0 1416.6h0M369.7 1425.2h0M397.5 1415.2h0M433.1 1417.4h0M518.5 1422.8h0M448.6 1418.8h0M460.0 1423.3h0M457.2 1430.9h0M463.3 1413.2h0M384.4 1410.2h0M387.7 1418.2h0M449.7 1420.1h0M425.3 1409.8h0M463.0 1409.5h0M376.9 1429.4h0M530.3 1423.0h0M429.0 1420.3h0M588.8 1424.0h0M455.2 1426.1h0M352.5 1424.6h0M454.9 1427.4h0M352.9 1424.8h0M375.3 1420.7h0M416.9 1429.3h0M561.2 1422.1h0M444.6 1409.0h0M398.4 1420.3h0M437.5 1409.9h0M366.7 1424.2h0M392.3 1414.9h0M369.1 1411.9h0M444.3 1421.7h0M508.8 1421.6h0M541.2 1421.1h0M443.8 1418.5h0M415.9 1416.7h0M430.4 1421.4h0M528.9 1408.8h0M378.6 1429.4h0M362.8 1427.6h0M350.4 1431.1h0M344.9 1415.5h0M397.1 1426.6h0M350.4 1427.3h0M516.1 1417.4h0M427.9 1410.8h0M370.1 1428.7h0M560.4 1430.9h0M400.9 1412.8h0M414.4 1426.0h0M413.0 1425.9h0M380.2 1429.3h0M440.0 1410.8h0M403.1 1409.0h0M623.9 1415.8h0M402.2 1413.5h0M492.3 1408.2h0M471.2 1413.4h0M343.1 1419.2h0M525.6 1414.7h0M498.6 1420.3h0M443.1 1424.6h0M445.8 1427.9h0M716.4 1424.8h0M485.0 1415.3h0M393.5 1412.8h0M487.7 1420.1h0M450.1 1431.2h0M377.8 1410.1h0M391.0 1430.8h0M532.4 1426.2h0M477.6 1408.9h0M531.6 1419.4h0M420.0 1424.5h0M455.0 1408.3h0M383.5 1424.3h0M519.9 1421.1h0M448.5 1415.6h0M378.4 1414.5h0M368.0 1418.6h0M355.3 1426.2h0M474.6 1424.9h0M486.8 1428.8h0M338.0 1412.0h0M430.8 1419.6h0M392.5 1424.8h0M466.9 1414.8h0M496.7 1429.9h0M636.9 1429.5h0M387.3 1419.8h0M541.4 1415.4h0M458.5 1414.7h0M438.8 1427.8h0M396.3 1424.3h0M325.6 1415.3h0M439.3 1427.5h0M364.0 1409.7h0M416.1 1413.0h0M354.8 1416.9h0M358.9 1415.3h0M418.8 1424.4h0M499.3 1415.1h0M437.2 1430.5h0M389.5 1409.5h0M467.6 1423.1h0M377.8 1413.9h0M418.4 1428.5h0M414.0 1431.0h0M451.3 1419.6h0M568.8 1418.6h0M457.4 1422.3h0M455.5 1408.2h0M476.7 1430.8h0M367.6 1411.5h0M386.0 1409.3h0M368.6 1427.4h0M466.5 1420.7h0M494.2 1430.1h0M379.5 1427.9h0M359.1 1411.8h0M384.4 1428.8h0M386.8 1414.2h0M481.8 1428.8h0M426.3 1427.2h0M421.6 1430.0h0M350.6 1427.4h0M446.1 1422.5h0M390.4 1424.1h0M418.0 1414.2h0M341.4 1410.9h0M487.0 1411.8h0M390.4 1415.1h0M453.6 1427.6h0M428.6 1426.1h0M464.6 1422.4h0M493.9 1411.8h0M445.9 1427.0h0M358.0 1414.5h0M354.0 1416.3h0M438.6 1421.1h0M496.8 1407.9h0M696.9 1422.3h0M381.1 1424.3h0M358.0 1411.7h0M551.3 1415.0h0M340.6 1415.0h0M486.3 1413.8h0M397.0 1421.7h0M417.7 1420.9h0M397.7 1412.4h0M618.2 1421.6h0M468.9 1421.7h0M485.3 1422.0h0M360.2 1430.3h0M486.8 1424.2h0M440.6 1418.5h0M480.7 1418.6h0M524.7 1423.0h0M438.8 1423.8h0M407.1 1419.2h0M392.0 1412.6h0M399.5 1408.1h0M413.1 1425.9h0M498.9 1430.6h0M420.7 1419.8h0M389.2 1427.2h0M375.8 1427.0h0M471.8 1419.7h0M533.6 1409.5h0M346.8 1420.7h0M491.9 1416.4h0M406.8 1419.4h0M421.1 1419.7h0M357.3 1422.5h0M375.4 1429.2h0M350.6 1422.1h0M399.8 1430.3h0M469.4 1421.3h0M385.1 1428.5h0M507.9 1424.6h0M375.7 1421.6h0M375.1 1431.4h0M564.2 1430.8h0M388.8 1411.8h0M560.0 1429.1h0M446.4 1417.8h0M377.3 1419.6h0M373.2 1416.2h0M370.3 1419.1h0M354.3 1408.9h0M390.9 1425.8h0M384.7 1421.5h0M356.4 1419.1h0M381.6 1410.8h0M560.2 1428.7h0M379.8 1425.5h0M360.0 1420.7h0M528.1 1415.9h0M523.3 1421.9h0M351.4 1410.5h0M490.2 1429.3h0M364.5 1418.9h0M388.7 1427.7h0M453.6 1411.0h0M549.4 1416.4h0M342.4 1420.4h0M398.9 1408.0h0M511.8 1426.6h0M408.3 1415.2h0M421.0 1426.2h0M448.6 1431.3h0M585.1 1421.7h0M506.0 1428.7h0M507.5 1408.6h0M448.9 1426.4h0M354.6 1419.1h0M403.4 1416.0h0M369.2 1431.2h0M490.5 1417.5h0M420.6 1408.6h0M519.9 1418.6h0M457.4 1413.7h0M425.8 1413.2h0M384.6 1411.7h0M373.5 1425.8h0M363.4 1429.7h0M421.2 1416.1h0M538.4 1420.3h0M445.9 1414.0h0M463.1 1419.3h0M381.4 1426.9h0M375.0 1431.3h0M390.0 1412.5h0M576.2 1416.0h0M453.9 1409.9h0M474.5 1411.2h0M559.5 1424.5h0M319.4 1427.7h0M532.1 1418.6h0M355.7 1416.0h0M454.6 1426.7h0M395.8 1410.2h0M380.5 1409.0h0M464.4 1420.8h0M407.7 1430.8h0M429.7 1431.3h0M414.0 1412.0h0M403.3 1423.6h0M430.3 1424.6h0M422.0 1424.4h0M420.2 1414.5h0M511.4 1414.3h0M526.7 1427.0h0M378.8 1416.2h0M412.7 1408.9h0M375.0 1410.4h0M523.9 1408.5h0M409.4 1419.9h0M466.3 1410.9h0M452.6 1417.9h0M474.3 1414.3h0M514.7 1429.3h0M385.5 1409.7h0M444.9 1423.5h0M402.3 1427.8h0M609.1 1431.1h0M415.6 1415.3h0M516.7 1414.1h0M372.5 1413.9h0M383.8 1426.9h0M467.9 1427.2h0M401.8 1414.4h0M634.0 1418.3h0M364.8 1427.5h0M477.3 1423.1h0M490.1 1410.0h0M512.0 1420.6h0M545.7 1412.3h0M560.1 1422.8h0M386.2 1421.0h0M450.1 1409.1h0M366.9 1414.9h0M409.9 1427.5h0M395.8 1422.1h0M430.3 1421.8h0M413.1 1410.9h0M461.5 1424.7h0M502.0 1421.6h0M611.3 1425.3h0M582.2 1415.0h0M438.0 1419.4h0M405.0 1428.9h0M576.3 1424.0h0M455.5 1427.7h0M492.2 1415.6h0M548.8 1419.4h0M446.0 1411.4h0M490.8 1413.7h0M413.7 1426.5h0M497.7 1429.3h0M421.0 1410.5h0M378.9 1413.1h0M500.5 1422.0h0M420.8 1423.6h0M408.9 1418.5h0M492.7 1419.8h0M495.1 1415.8h0M350.2 1424.6h0M569.8 1422.2h0M418.8 1422.1h0M466.8 1429.7h0M403.1 1430.5h0M394.6 1419.0h0M455.3 1409.1h0M317.6 1428.6h0M608.5 1431.0h0M391.7 1427.0h0M403.7 1430.6h0M450.9 1411.7h0M425.6 1415.5h0M543.1 1421.6h0M464.1 1411.1h0M356.8 1410.2h0M414.7 1408.2h0M417.5 1417.6h0M542.3 1416.2h0M451.0 1418.9h0M568.0 1425.7h0M380.9 1417.1h0M426.6 1410.0h0M501.8 1429.8h0M405.3 1409.9h0M485.8 1411.9h0M373.0 1428.2h0M416.6 1416.3h0M442.7 1419.5h0M388.0 1412.5h0M436.5 1413.3h0M320.4 1424.9h0M467.8 1425.3h0M431.4 1414.8h0M519.1 1408.3h0M392.1 1420.6h0M593.7 1413.6h0M360.5 1424.3h0M386.0 1428.3h0M383.2 1427.7h0M394.6 1410.0h0M356.7 1422.8h0M461.8 1421.4h0M413.1 1415.1h0M426.4 1411.2h0M358.0 1410.7h0M421.0 1420.7h0M354.5 1426.5h0M375.7 1411.5h0M380.3 1427.3h0M482.8 1412.4h0M409.5 1410.1h0M486.0 1427.8h0M395.2 1421.4h0M529.7 1425.9h0M442.3 1410.5h0M478.6 1414.1h0M430.4 1423.4h0M465.8 1424.3h0M548.8 1422.4h0M356.0 1414.4h0M419.4 1414.5h0M337.3 1409.4h0M506.3 1429.0h0M473.5 1425.8h0M383.8 1420.5h0M405.6 1412.3h0M388.5 1422.3h0M354.7 1421.7h0M384.9 1421.8h0M523.3 1422.2h0M488.2 1425.5h0M470.1 1424.3h0M507.4 1429.1h0M447.3 1421.6h0M376.1 1415.5h0M354.1 1414.7h0M519.4 1411.0h0M495.3 1418.2h0M471.7 1430.8h0M454.9 1429.0h0M369.2 1425.9h0M405.2 1416.8h0M443.6 1430.6h0M396.1 1425.1h0M488.7 1427.0h0M574.1 1426.6h0M443.4 1411.7h0M496.8 1415.7h0M467.6 1426.4h0M558.8 1415.3h0M411.9 1409.4h0M358.6 1421.8h0M379.3 1423.1h0M398.2 1420.3h0M465.7 1414.5h0M515.5 1414.7h0M402.5 1420.8h0M392.2 1417.4h0M454.2 1411.5h0M385.4 1410.6h0M423.9 1425.2h0M384.0 1411.4h0M411.1 1409.3h0M401.6 1422.5h0M493.9 1422.4h0M404.4 1410.5h0M418.8 1429.5h0M510.6 1428.6h0M439.7 1410.9h0M415.9 1412.7h0M414.4 1409.4h0M360.2 1430.6h0M488.9 1425.0h0M405.0 1408.3h0M530.0 1415.2h0M403.9 1416.6h0M519.1 1414.8h0M444.0 1430.4h0M451.4 1414.7h0M429.4 1430.1h0M383.4 1422.1h0M406.5 1407.9h0M341.0 1426.8h0M475.8 1408.2h0M525.9 1429.3h0M461.9 1426.0h0M391.1 1420.7h0M432.2 1426.6h0M363.6 1425.6h0M509.0 1423.4h0M405.0 1426.9h0M388.9 1409.8h0M414.7 1425.7h0M392.4 1420.1h0M429.5 1424.5h0M359.2 1416.4h0M406.5 1423.7h0M536.6 1413.6h0M455.8 1429.2h0M419.1 1411.6h0M455.6 1417.1h0M400.9 1418.7h0M367.3 1417.7h0M405.5 1421.2h0M399.9 1409.3h0M457.0 1415.1h0M474.9 1427.6h0M358.9 1416.8h0M519.5 1420.3h0M357.2 1409.4h0M528.2 1417.0h0M433.3 1424.4h0M438.0 1410.7h0M421.6 1418.2h0M563.0 1411.4h0M597.3 1415.3h0M457.0 1430.4h0M367.3 1411.5h0M461.3 1412.7h0M378.3 1424.4h0M394.8 1418.6h0M495.2 1424.3h0M418.2 1410.5h0M513.7 1421.9h0M381.4 1421.3h0M567.5 1418.4h0M435.0 1428.1h0M350.3 1409.4h0M399.7 1425.9h0M430.5 1412.8h0M400.9 1423.1h0M425.1 1409.4h0M459.8 1429.7h0M450.3 1413.1h0M462.2 1423.2h0M502.0 1429.9h0M616.0 1420.7h0M420.0 1420.9h0M405.7 1415.3h0M441.8 1428.2h0M356.4 1430.0h0M397.9 1425.6h0M467.5 1415.0h0M480.1 1413.7h0M534.4 1419.7h0M426.5 1419.5h0M394.5 1412.8h0M343.9 1430.0h0M382.3 1410.5h0M465.2 1421.3h0M339.2 1408.6h0M374.7 1410.9h0M374.8 1413.8h0M386.2 1417.3h0M490.7 1429.5h0M423.8 1422.0h0M441.5 1413.3h0M370.3 1419.9h0M452.8 1408.6h0M369.9 1407.9h0M481.9 1423.0h0M430.4 1422.0h0M507.7 1411.2h0M384.8 1419.4h0M524.6 1412.4h0M532.1 1417.5h0M426.5 1408.3h0M447.8 1413.1h0M361.9 1423.5h0M373.6 1417.2h0M505.5 1421.7h0M434.8 1429.7h0M403.4 1415.8h0M391.4 1423.1h0M381.8 1422.7h0M592.4 1430.8h0M401.3 1424.0h0M488.7 1420.4h0M516.6 1427.6h0M514.5 1412.4h0M455.6 1409.9h0M379.8 1413.5h0M424.4 1414.4h0M430.2 1422.5h0M464.9 1417.8h0M413.5 1415.5h0M369.8 1414.2h0M480.8 1419.3h0M527.7 1413.7h0M374.9 1408.1h0M387.7 1421.8h0M435.3 1423.1h0M388.7 1426.5h0M354.4 1418.8h0M456.3 1411.2h0M492.0 1413.9h0M363.6 1420.7h0M369.5 1422.2h0M483.0 1420.2h0M426.0 1409.6h0M409.1 1410.5h0M353.4 1416.5h0M415.9 1425.4h0M499.1 1416.3h0M340.5 1411.0h0M387.3 1420.4h0M489.6 1411.1h0M478.8 1419.2h0M409.3 1411.2h0M325.6 1414.8h0M433.8 1421.7h0M485.4 1427.9h0M386.0 1422.1h0M490.3 1421.8h0M428.5 1430.4h0M407.7 1415.2h0M415.6 1428.1h0M378.2 1417.5h0M449.6 1427.4h0M473.0 1418.3h0M389.2 1410.0h0M352.1 1411.3h0M351.2 1408.0h0M368.7 1416.3h0M447.7 1425.8h0M433.1 1418.0h0M480.6 1416.4h0M441.6 1417.2h0M378.3 1410.6h0M400.1 1411.7h0M416.4 1421.0h0M401.4 1429.2h0M403.7 1415.7h0M531.1 1419.1h0M492.1 1415.8h0M417.1 1430.1h0M553.0 1426.2h0M391.4 1408.3h0M404.0 1412.9h0M372.6 1413.5h0M364.8 1418.2h0M418.5 1428.8h0M434.6 1411.7h0M442.0 1411.8h0M478.3 1430.6h0M473.7 1428.6h0M426.4 1421.5h0M437.3 1409.3h0M406.5 1423.0h0M424.5 1422.8h0M448.0 1409.9h0M326.8 1416.7h0M485.6 1414.2h0M383.4 1419.4h0M356.3 1421.3h0M400.8 1409.0h0M396.3 1425.2h0M486.6 1424.6h0M459.9 1414.1h0M365.9 1412.1h0M411.3 1430.7h0M388.8 1416.0h0M516.0 1415.6h0M472.3 1429.6h0M425.0 1408.6h0M598.8 1416.3h0M527.7 1423.4h0M485.4 1416.0h0M493.2 1426.5h0M421.8 1419.4h0M413.9 1409.3h0M457.6 1425.8h0M505.1 1431.1h0M399.4 1428.3h0M383.5 1417.2h0M464.8 1409.1h0M434.7 1412.5h0M457.0 1425.2h0M361.1 1415.1h0M464.8 1422.9h0M539.8 1429.6h0M381.4 1419.3h0M411.9 1429.5h0M479.0 1419.6h0M448.4 1426.6h0M418.0 1410.1h0M398.0 1410.1h0M485.6 1410.5h0M490.9 1426.0h0M461.4 1415.9h0M396.6 1420.8h0M377.7 1424.8h0M529.9 1414.3h0M393.9 1408.7h0M582.5 1422.5h0M378.1 1426.3h0M469.8 1428.5h0M342.5 1412.6h0M551.6 1422.5h0M421.7 1424.0h0M355.3 1425.8h0M470.7 1410.0h0M489.0 1414.2h0M425.0 1409.3h0M361.4 1417.3h0M382.9 1428.1h0M414.0 1415.3h0M380.2 1420.9h0M404.6 1430.5h0M458.0 1419.7h0M491.7 1415.1h0M373.9 1416.1h0M364.0 1429.8h0M405.8 1428.9h0M407.1 1411.6h0M368.5 1418.7h0M507.2 1420.1h0M527.8 1420.2h0M379.4 1430.7h0M445.5 1408.7h0M386.2 1426.2h0M404.9 1425.3h0M540.8 1419.6h0M529.1 1431.3h0M373.2 1426.7h0M475.9 1417.9h0M459.0 1423.7h0M471.7 1410.9h0M461.8 1415.4h0M364.3 1421.0h0M468.8 1408.4h0M508.8 1430.2h0M460.2 1414.4h0M366.2 1419.9h0M414.9 1425.0h0M427.9 1412.1h0M463.0 1422.1h0M541.8 1430.1h0M347.8 1412.0h0M492.8 1419.8h0M420.9 1427.1h0M368.2 1427.9h0M499.0 1414.5h0M486.3 1415.3h0M385.1 1431.1h0M477.7 1424.0h0M393.6 1420.1h0M361.7 1412.8h0M437.0 1415.7h0M514.9 1428.8h0M515.7 1417.0h0M466.8 1426.9h0M485.3 1419.7h0M355.7 1426.2h0M360.7 1410.3h0M510.6 1410.6h0M530.3 1408.7h0M363.1 1429.8h0M386.9 1429.6h0M355.5 1428.6h0M487.8 1408.6h0M518.4 1417.8h0M351.1 1414.7h0M442.8 1422.0h0M457.9 1412.8h0M453.7 1420.6h0M402.8 1414.4h0M376.1 1424.5h0M340.1 1427.6h0M427.9 1409.3h0M451.2 1414.2h0M387.2 1430.8h0M392.5 1414.1h0M449.4 1426.1h0M428.3 1424.5h0M538.6 1412.1h0M380.6 1415.4h0M356.7 1419.9h0M586.9 1429.6h0M431.1 1427.0h0M497.2 1431.3h0M407.6 1423.2h0M589.9 1425.7h0M560.8 1416.4h0M397.6 1423.8h0M439.6 1415.8h0M388.5 1419.5h0M478.3 1408.1h0M362.3 1411.0h0M418.3 1422.4h0M393.0 1417.5h0M351.5 1410.9h0M367.0 1427.5h0M364.7 1421.1h0M550.5 1413.8h0M507.8 1423.4h0M461.0 1415.9h0M556.6 1427.3h0M425.9 1413.2h0M444.8 1429.6h0M456.2 1412.2h0M596.7 1420.7h0M440.7 1415.3h0M441.3 1419.5h0M408.5 1428.6h0M372.3 1427.1h0M423.1 1427.6h0M361.0 1423.4h0M438.5 1421.4h0M369.9 1409.6h0M345.3 1416.9h0M428.7 1409.3h0M392.1 1423.9h0M468.0 1410.0h0M440.4 1413.6h0M439.8 1417.4h0M476.1 1415.2h0M401.0 1414.7h0M499.3 1426.7h0M353.6 1414.8h0M459.9 1414.0h0M540.9 1426.4h0M398.7 1420.7h0M404.9 1412.3h0M455.5 1427.4h0M384.1 1411.0h0M360.7 1416.6h0M408.7 1421.0h0M354.3 1421.7h0M433.1 1422.3h0M482.2 1419.4h0M462.5 1412.8h0M366.5 1426.3h0M381.6 1421.1h0M390.9 1408.4h0M470.9 1429.1h0M408.7 1409.4h0M460.4 1425.0h0M441.9 1412.9h0M658.6 1421.6h0M457.2 1414.9h0M532.2 1416.7h0M431.9 1418.1h0M591.2 1424.3h0M414.3 1431.2h0M381.5 1422.8h0M411.0 1423.7h0M446.8 1414.4h0M520.3 1415.7h0M370.0 1412.5h0M381.2 1423.3h0M470.6 1425.0h0M420.9 1416.2h0M372.4 1419.4h0M398.0 1429.0h0M422.2 1425.8h0M457.6 1417.2h0M378.3 1414.1h0M478.7 1412.1h0M435.8 1419.2h0M399.4 1415.5h0M393.7 1419.8h0M341.4 1426.5h0M369.0 1424.2h0M428.1 1422.2h0M401.8 1419.3h0M547.4 1412.2h0M450.1 1425.4h0M424.4 1414.1h0M403.6 1430.5h0M344.3 1413.6h0M561.4 1422.7h0M410.7 1430.5h0M398.2 1419.7h0M474.2 1427.9h0M596.4 1419.7h0M465.7 1419.4h0M402.9 1431.4h0M370.5 1423.6h0M435.4 1416.7h0M432.3 1412.5h0M414.3 1421.5h0M429.4 1414.5h0M530.0 1421.4h0M417.0 1429.3h0M401.8 1417.5h0M431.3 1418.8h0M490.4 1419.9h0M468.7 1417.6h0M454.7 1412.4h0M427.9 1418.0h0M410.0 1415.6h0M465.4 1413.0h0M387.7 1413.3h0M350.3 1410.8h0M402.4 1418.4h0M421.8 1419.8h0M450.0 1430.3h0M532.6 1417.0h0M382.8 1408.0h0M412.3 1425.8h0M439.9 1420.9h0M394.1 1413.1h0M426.9 1409.9h0M355.5 1419.4h0M409.4 1418.4h0M373.8 1427.8h0M489.5 1416.5h0M449.6 1419.7h0M417.9 1427.4h0M412.4 1418.3h0M378.8 1423.4h0M424.0 1421.9h0M339.9 1428.9h0M422.9 1416.3h0M434.9 1423.0h0M469.2 1425.2h0M400.8 1431.3h0M360.6 1416.5h0M366.2 1412.7h0M404.8 1416.0h0M444.2 1425.4h0M360.3 1422.2h0M563.1 1431.2h0M400.7 1420.5h0M423.9 1422.5h0M413.3 1410.9h0M473.8 1421.3h0M340.0 1429.2h0M448.7 1424.3h0M402.1 1423.6h0M475.8 1423.3h0M435.8 1425.0h0M420.5 1417.8h0M438.6 1415.9h0M572.8 1417.9h0M529.7 1413.4h0M534.3 1413.0h0M433.9 1414.4h0M411.7 1409.1h0M355.4 1416.6h0M375.0 1413.1h0M330.3 1419.2h0M510.8 1412.5h0M359.4 1408.2h0M380.1 1424.0h0M398.0 1419.1h0M503.5 1430.0h0M472.9 1409.4h0M519.0 1412.8h0M516.6 1414.7h0M440.6 1416.1h0M376.5 1423.8h0M436.4 1424.8h0M507.5 1410.5h0M350.5 1415.1h0M563.3 1427.0h0M396.4 1419.1h0M421.2 1422.2h0M374.2 1428.1h0M459.2 1420.9h0M466.0 1407.9h0M463.8 1427.4h0M347.9 1429.8h0M451.8 1425.1h0M428.1 1420.3h0M363.8 1415.8h0M566.1 1416.3h0M473.5 1425.7h0M608.0 1415.5h0M510.5 1424.2h0M553.2 1419.1h0M471.9 1421.8h0M387.5 1430.4h0M479.4 1418.5h0M530.6 1414.9h0M452.2 1408.2h0M399.7 1422.0h0M385.6 1414.9h0M405.1 1418.3h0M484.8 1411.4h0M555.1 1422.8h0M387.0 1420.0h0M456.1 1419.5h0M407.2 1427.3h0M450.0 1426.9h0M443.4 1410.9h0M344.3 1411.2h0M458.9 1421.6h0M444.4 1418.1h0M390.9 1422.9h0M549.0 1423.3h0M488.5 1424.0h0M468.5 1430.4h0M522.8 1410.6h0M384.5 1413.3h0M580.3 1420.3h0M539.5 1414.5h0M389.3 1420.3h0M373.8 1408.0h0M495.3 1425.2h0M542.5 1420.5h0M386.8 1419.9h0M380.4 1430.1h0M471.5 1408.1h0M393.1 1418.6h0M375.4 1422.2h0M364.1 1431.1h0M416.0 1414.1h0M433.4 1427.8h0M440.9 1424.4h0M365.6 1423.0h0M379.6 1419.3h0M441.0 1424.9h0M445.0 1419.0h0M391.8 1410.0h0M363.4 1425.0h0M447.8 1420.2h0M362.7 1409.0h0M402.6 1411.7h0M429.8 1418.3h0M372.1 1425.8h0M463.5 1420.5h0M385.7 1429.8h0M407.4 1408.4h0M407.7 1420.7h0M445.5 1409.0h0M386.3 1418.2h0M550.3 1410.0h0M498.5 1425.6h0M375.9 1408.7h0M401.4 1428.8h0M401.1 1419.1h0M376.6 1425.1h0M491.9 1409.6h0M455.4 1421.2h0M464.5 1411.8h0M415.1 1422.5h0M407.6 1426.6h0M407.3 1409.1h0M378.3 1413.4h0M386.6 1410.9h0M443.3 1419.0h0M326.4 1421.5h0M354.3 1427.0h0M511.3 1415.7h0M576.8 1430.4h0M478.7 1410.5h0M321.0 1411.3h0M461.5 1422.6h0M476.0 1408.4h0M507.7 1421.7h0M361.8 1410.0h0M487.5 1420.8h0M546.7 1425.3h0M527.3 1431.2h0M382.9 1417.6h0M372.7 1422.3h0M493.8 1425.4h0M418.0 1427.2h0M361.4 1420.5h0M436.5 1415.1h0M386.8 1416.0h0M364.9 1408.5h0M392.6 1413.7h0M472.8 1411.0h0M331.5 1422.4h0M382.5 1420.4h0M384.3 1422.3h0M417.9 1408.8h0M451.0 1421.8h0M408.3 1415.8h0M397.4 1426.2h0M365.2 1430.3h0M521.7 1427.9h0M343.3 1408.2h0M408.9 1430.9h0M466.7 1413.6h0M451.0 1425.5h0M413.9 1408.6h0M427.3 1429.6h0M400.5 1420.1h0M397.4 1425.9h0M497.8 1409.3h0M458.6 1429.3h0M442.3 1420.2h0M512.2 1428.4h0M366.9 1419.7h0M401.6 1417.9h0M459.4 1416.6h0M441.7 1409.2h0M480.6 1414.8h0M367.8 1425.2h0M473.6 1415.5h0M351.3 1422.3h0M454.3 1427.0h0M404.2 1416.4h0M436.1 1420.2h0M391.4 1420.9h0M472.9 1415.6h0M400.3 1424.4h0M359.6 1423.9h0M328.8 1430.5h0M467.7 1412.4h0M404.7 1426.0h0M428.9 1420.2h0M481.0 1420.0h0M358.5 1417.8h0M473.8 1430.1h0M369.3 1427.4h0M382.3 1429.1h0M425.8 1418.5h0M383.3 1412.7h0M340.9 1412.9h0M395.0 1417.0h0M380.6 1418.3h0M455.7 1430.7h0M378.5 1424.7h0M500.8 1427.7h0M416.9 1428.6h0M480.3 1419.4h0M353.2 1421.3h0M497.6 1430.0h0M378.7 1409.9h0M376.4 1427.7h0M532.3 1426.9h0M436.3 1416.4h0M384.5 1422.9h0M428.0 1422.7h0M419.7 1425.2h0M374.5 1418.5h0M453.1 1409.6h0M485.2 1428.7h0M423.0 1408.0h0M450.2 1420.8h0M347.9 1411.2h0M396.9 1430.3h0M411.2 1427.5h0M418.7 1427.6h0M430.5 1425.9h0M389.9 1421.2h0M359.8 1426.1h0M408.5 1426.6h0M455.4 1413.6h0M365.1 1428.7h0M406.0 1413.2h0M447.2 1420.5h0M362.6 1413.9h0M438.9 1410.6h0M476.9 1429.7h0M368.0 1419.6h0M368.5 1421.8h0M419.5 1409.0h0M550.6 1420.9h0M361.1 1411.1h0M399.7 1422.0h0M355.0 1419.2h0M448.4 1419.1h0M324.5 1425.1h0M514.0 1426.4h0M529.3 1420.9h0M452.4 1428.4h0M367.9 1431.1h0M452.7 1413.4h0M499.6 1410.2h0M372.3 1418.3h0M432.7 1423.4h0M519.5 1409.7h0M395.8 1430.1h0M457.9 1409.9h0M473.6 1427.3h0M372.3 1414.4h0M442.6 1410.3h0M526.9 1425.6h0M478.2 1427.4h0M536.6 1409.4h0M511.3 1431.2h0M372.3 1428.8h0M393.1 1418.8h0M436.3 1414.7h0M416.6 1417.7h0M469.7 1421.1h0M369.0 1411.9h0M407.2 1417.9h0M574.8 1427.8h0M384.8 1415.2h0M511.0 1409.8h0M481.3 1414.0h0M462.5 1430.6h0M476.7 1429.0h0M473.0 1429.2h0M450.7 1412.4h0M554.7 1413.0h0M355.2 1424.4h0M435.1 1423.5h0M416.7 1426.7h0M494.5 1426.9h0M468.4 1407.9h0M424.2 1430.5h0M393.4 1408.9h0M431.6 1422.2h0M353.8 1426.3h0M428.9 1408.4h0M389.4 1429.5h0M391.1 1418.8h0M537.7 1426.3h0M527.5 1428.4h0M380.1 1409.8h0M355.6 1408.7h0M347.3 1419.4h0M462.8 1427.6h0M371.9 1425.9h0M383.1 1416.6h0M607.9 1420.8h0M408.8 1421.2h0M448.8 1429.3h0M381.3 1409.3h0M555.9 1418.0h0M394.6 1415.7h0M489.4 1426.0h0M498.7 1408.0h0M527.0 1426.7h0M401.0 1428.1h0M487.7 1431.3h0M459.6 1426.8h0M495.7 1424.2h0M355.9 1427.5h0M348.5 1423.5h0M454.3 1417.4h0M432.0 1409.5h0M376.3 1420.3h0M373.8 1420.8h0M501.8 1430.0h0M458.4 1426.9h0M402.2 1420.5h0M451.6 1423.5h0M487.6 1417.9h0M450.7 1414.6h0M461.9 1429.1h0M469.4 1410.1h0M395.4 1423.7h0M370.1 1427.7h0M427.7 1414.5h0M484.4 1429.0h0M489.0 1426.3h0M475.9 1411.6h0M378.3 1421.4h0M510.8 1408.8h0M351.8 1411.7h0M597.8 1416.9h0M463.2 1423.3h0M401.3 1424.2h0M515.8 1426.4h0M423.6 1417.3h0M472.7 1417.6h0M444.9 1416.4h0M456.7 1422.1h0M440.6 1408.0h0M399.6 1425.7h0M418.8 1429.7h0M428.4 1423.9h0M422.7 1416.6h0M536.2 1415.9h0M403.2 1417.8h0M369.9 1424.6h0M451.8 1426.6h0M557.9 1424.5h0M372.2 1426.9h0M441.1 1420.3h0M501.7 1421.8h0M476.7 1428.6h0M414.1 1413.5h0M411.3 1408.7h0M428.0 1420.9h0M318.2 1427.2h0M443.8 1411.2h0M451.8 1421.8h0M368.7 1423.4h0M419.0 1427.2h0M387.8 1408.8h0M480.8 1415.4h0M355.9 1416.9h0M499.8 1418.7h0M363.2 1410.9h0M340.3 1429.4h0M455.9 1413.0h0M484.3 1421.6h0M572.6 1421.1h0M385.2 1424.6h0M472.3 1422.4h0M404.2 1410.3h0M417.8 1429.7h0M432.9 1411.1h0M356.4 1430.7h0M407.3 1423.0h0M416.0 1428.8h0M541.8 1419.4h0M421.4 1426.1h0M420.9 1411.6h0M524.4 1419.9h0M451.3 1417.0h0M496.7 1418.7h0M482.2 1408.0h0M449.6 1411.4h0M451.7 1409.9h0M502.4 1420.4h0M376.4 1416.3h0M414.0 1431.3h0M380.1 1421.6h0M449.2 1413.2h0M388.5 1422.0h0M416.9 1425.1h0M434.9 1427.2h0M412.4 1423.4h0M384.3 1416.7h0M396.5 1415.2h0M400.6 1421.5h0M409.8 1411.1h0M350.0 1419.2h0M474.0 1414.1h0M467.1 1415.0h0M371.0 1422.5h0M581.7 1415.4h0M424.0 1408.3h0M368.4 1409.9h0M484.4 1409.8h0M372.1 1431.0h0M372.6 1424.8h0M369.4 1424.8h0M351.1 1417.9h0M385.0 1417.0h0M468.6 1413.2h0M456.5 1417.9h0M442.8 1419.3h0M386.1 1418.8h0M506.0 1422.7h0M367.6 1415.5h0M377.1 1425.7h0M526.4 1420.5h0M494.6 1415.3h0M417.6 1418.5h0M464.5 1422.6h0M439.2 1421.5h0M513.7 1428.4h0M439.5 1418.2h0M356.7 1412.4h0M368.4 1419.8h0M411.3 1416.5h0M476.1 1408.9h0M438.9 1417.2h0M322.0 1415.6h0M477.2 1411.6h0M407.9 1408.2h0M464.9 1421.2h0M399.0 1415.1h0M479.0 1409.4h0M550.8 1412.2h0M652.6 1422.6h0M365.2 1425.5h0M425.6 1415.3h0M428.3 1421.5h0M421.0 1411.2h0M385.4 1419.5h0M468.4 1429.5h0M688.3 1428.0h0M476.3 1409.1h0M350.9 1412.0h0M425.2 1425.4h0M374.3 1412.9h0M381.4 1424.8h0M492.6 1422.5h0M400.0 1418.3h0M434.7 1417.3h0M379.9 1413.8h0M412.3 1422.1h0M489.1 1411.4h0M446.3 1429.0h0M461.4 1427.1h0M393.0 1422.5h0M510.2 1425.9h0M421.0 1418.0h0M363.1 1427.8h0M436.7 1408.3h0M346.0 1414.2h0M467.0 1424.6h0M343.2 1416.1h0" stroke="#00f" stroke-width="4.4" stroke-linecap="round" fill="none" clip-path="url(#cD)"/>
<path d="M378.4 1351.3h0M390.5 1404.0h0M471.4 1354.6h0M444.3 1292.1h0M400.3 1401.3h0M392.6 1387.5h0M430.5 1367.3h0M381.3 1380.1h0M442.6 1403.5h0M359.4 1403.6h0M407.1 1322.7h0M499.5 1396.0h0M448.5 1390.2h0M391.8 1396.2h0M357.2 1393.4h0M393.6 1402.8h0M410.4 1385.7h0M383.7 1365.4h0M476.5 1338.0h0M373.6 1399.1h0M358.8 1406.2h0M430.6 1317.9h0M488.3 1403.2h0M519.2 1380.1h0M422.3 1376.5h0M524.2 1398.2h0M384.7 1314.9h0M408.5 1309.1h0M392.4 1396.3h0M382.5 1406.2h0M393.5 1346.7h0M382.7 1379.7h0M395.6 1360.1h0M385.9 1339.0h0M355.0 1355.4h0M433.6 1364.4h0M371.2 1316.3h0M367.5 1398.4h0M377.1 1386.6h0M411.7 1330.9h0M387.9 1378.2h0M385.4 1364.2h0M382.9 1391.7h0M412.9 1321.4h0M376.3 1372.9h0M414.8 1356.9h0M381.0 1390.4h0M483.1 1386.5h0M371.8 1384.6h0M490.7 1324.1h0M371.5 1359.4h0M375.9 1330.3h0M462.1 1401.5h0M357.8 1389.9h0M433.8 1369.0h0M420.9 1405.2h0M436.7 1397.7h0M371.0 1377.5h0M381.2 1303.2h0M446.0 1370.3h0M357.1 1397.0h0M495.3 1385.1h0M405.3 1404.5h0M334.0 1407.9h0M376.0 1399.7h0M493.5 1397.9h0M398.6 1377.5h0M385.0 1369.5h0M402.6 1378.5h0M370.2 1402.8h0M380.1 1313.6h0M375.1 1379.9h0M423.2 1321.3h0M397.1 1389.8h0M385.9 1372.7h0M531.0 1362.8h0M345.0 1405.3h0M513.1 1384.9h0M363.3 1317.7h0M503.5 1390.3h0M392.4 1396.4h0M398.6 1388.8h0M394.5 1395.2h0M417.8 1397.4h0M332.7 1369.4h0M404.5 1376.5h0M496.2 1396.2h0M413.1 1316.3h0M546.6 1333.8h0M450.5 1397.8h0M384.7 1392.4h0M444.2 1380.2h0M563.5 1394.9h0M492.3 1346.7h0M387.0 1397.2h0M490.8 1400.2h0M430.9 1380.8h0M394.1 1399.2h0M353.0 1350.0h0M462.8 1393.8h0M319.4 1407.8h0M492.8 1389.3h0M412.1 1407.4h0M370.2 1402.8h0M420.4 1393.0h0M404.9 1362.6h0M369.4 1323.8h0M382.6 1353.3h0M583.3 1388.7h0M453.9 1394.5h0M455.9 1395.8h0M496.2 1405.4h0M451.0 1318.1h0M521.6 1395.7h0M567.7 1357.2h0M461.6 1358.9h0M433.6 1333.5h0M362.3 1407.4h0M355.0 1395.0h0M420.9 1332.0h0M371.4 1365.1h0M414.6 1370.8h0M393.7 1321.6h0M422.3 1400.1h0M397.6 1332.9h0M363.1 1342.3h0M411.8 1395.6h0M406.5 1311.4h0M366.5 1396.9h0M463.2 1405.6h0M403.3 1378.4h0M375.1 1394.1h0M351.2 1393.1h0M376.7 1399.3h0M347.0 1376.8h0M440.0 1382.7h0M394.3 1310.0h0M349.5 1390.2h0M370.5 1372.2h0M397.9 1377.5h0M377.5 1375.6h0M447.5 1394.3h0M411.2 1366.6h0M401.4 1338.6h0M551.4 1389.4h0M474.7 1403.4h0M492.3 1354.0h0M414.8 1328.6h0M398.0 1390.7h0M367.6 1335.2h0M430.9 1390.7h0M386.6 1379.7h0M484.3 1380.6h0M439.8 1351.8h0M547.5 1328.1h0M438.0 1372.8h0M532.6 1393.2h0M444.0 1398.5h0M373.2 1380.2h0M376.5 1361.9h0M392.8 1401.8h0M446.3 1401.0h0M406.3 1379.1h0M409.6 1401.5h0M478.3 1395.2h0M389.8 1295.5h0M466.6 1402.2h0M412.2 1398.1h0M465.0 1371.1h0M359.5 1360.4h0M459.6 1387.6h0M397.0 1339.4h0M409.2 1351.8h0M562.4 1355.1h0M367.8 1381.9h0M363.8 1367.5h0M385.1 1350.0h0M404.8 1380.8h0M413.3 1323.8h0M348.6 1343.1h0M430.3 1385.9h0M458.0 1391.0h0M520.7 1390.4h0M354.8 1354.6h0M370.3 1388.4h0M383.0 1383.7h0M445.8 1333.8h0M540.2 1344.9h0M392.2 1387.6h0M373.5 1349.9h0M528.1 1363.2h0M376.2 1383.0h0M401.7 1327.2h0M399.4 1348.1h0M404.8 1338.9h0M452.2 1402.2h0M437.7 1378.9h0M395.1 1382.1h0M413.9 1365.6h0M408.7 1384.9h0M380.6 1393.3h0M399.5 1395.1h0M403.2 1407.6h0M479.5 1407.0h0M376.4 1390.2h0M384.9 1405.3h0M364.5 1401.4h0M364.0 1407.1h0M416.2 1406.0h0M354.8 1322.8h0M414.2 1386.8h0M352.4 1401.3h0M561.2 1378.6h0M351.7 1396.9h0M466.2 1321.4h0M405.1 1400.9h0M472.8 1342.5h0M370.9 1356.4h0M454.8 1359.3h0M351.8 1353.0h0M412.4 1392.0h0M354.6 1367.2h0M453.7 1388.5h0M465.5 1391.5h0M371.3 1367.4h0M474.9 1390.6h0M399.6 1402.7h0M399.1 1387.9h0M440.2 1377.8h0M445.5 1343.9h0M377.5 1394.4h0M317.5 1381.2h0M361.8 1406.0h0M387.5 1394.6h0M354.8 1361.6h0M530.3 1328.7h0M367.7 1336.3h0M392.8 1382.6h0M420.4 1402.7h0M447.6 1396.6h0M386.6 1311.3h0M442.4 1403.7h0M394.4 1390.5h0M507.9 1399.3h0M455.3 1388.8h0M409.4 1379.2h0M458.1 1401.4h0M401.2 1352.5h0M405.9 1403.6h0M367.5 1297.1h0M457.3 1395.9h0M369.3 1400.6h0M474.5 1392.5h0M426.4 1407.2h0M523.1 1400.2h0M403.8 1400.9h0M441.0 1399.2h0M355.9 1327.0h0M369.2 1405.9h0M442.9 1333.0h0M363.2 1403.0h0M370.0 1317.9h0M356.9 1318.8h0M400.4 1356.3h0M532.3 1397.4h0M389.1 1329.1h0M490.3 1381.7h0M487.8 1365.1h0M518.8 1397.4h0M409.3 1307.6h0M401.9 1390.3h0M395.6 1401.1h0M497.2 1353.5h0M428.4 1346.9h0M440.4 1407.6h0M405.0 1371.8h0M455.7 1350.8h0M405.2 1402.4h0M395.5 1312.8h0M366.5 1400.6h0M476.4 1400.1h0M428.9 1383.4h0M527.4 1405.3h0M414.0 1406.4h0M332.5 1343.9h0M388.3 1398.7h0M426.2 1397.8h0M420.8 1333.1h0M484.9 1329.9h0M414.5 1400.4h0M547.3 1403.6h0M489.4 1406.1h0M341.6 1394.0h0M401.4 1392.9h0M427.4 1338.6h0M355.2 1335.0h0M436.9 1369.6h0M393.7 1316.7h0M442.2 1307.8h0M349.0 1363.1h0M354.1 1301.8h0M404.9 1373.0h0M429.1 1332.8h0M386.0 1355.0h0M384.2 1367.6h0M448.2 1392.3h0M450.8 1391.5h0M359.5 1393.4h0M481.1 1402.6h0M385.1 1342.5h0M507.7 1378.1h0M325.1 1347.9h0M425.4 1381.6h0M398.9 1305.7h0M411.0 1392.6h0M353.9 1379.0h0M463.8 1360.4h0M440.3 1315.5h0M387.1 1315.6h0M400.4 1348.7h0M381.1 1295.2h0M365.8 1403.8h0M429.5 1404.4h0M457.0 1404.0h0M437.9 1366.7h0M407.8 1333.0h0M337.9 1366.3h0M401.2 1393.7h0M397.4 1322.2h0M458.9 1395.0h0M440.1 1336.0h0M436.7 1397.2h0M445.7 1317.3h0M383.0 1389.2h0M326.9 1390.3h0M453.0 1354.9h0M474.6 1372.5h0M376.1 1344.4h0M388.5 1346.4h0M433.3 1378.6h0M403.3 1389.5h0M407.0 1385.9h0M385.2 1293.5h0M457.9 1322.5h0M389.3 1394.9h0M458.1 1405.6h0M354.4 1358.8h0M369.7 1404.5h0M395.2 1345.5h0M456.5 1391.0h0M354.2 1404.9h0M457.4 1380.5h0M403.5 1322.8h0M352.8 1304.5h0M376.1 1376.9h0M383.9 1325.2h0M379.1 1404.1h0M425.4 1369.5h0M387.0 1393.1h0M361.4 1351.4h0M494.4 1389.1h0M370.8 1333.2h0M376.8 1402.7h0M369.5 1292.3h0M389.3 1322.1h0M442.0 1344.3h0M417.3 1403.1h0M363.4 1389.3h0M424.6 1380.0h0M386.5 1345.1h0M362.4 1298.8h0M430.5 1393.6h0M423.1 1328.9h0M461.0 1406.6h0M367.8 1400.5h0M426.7 1397.5h0M449.5 1389.7h0M502.5 1368.4h0M464.1 1365.7h0M432.6 1385.2h0M384.0 1334.0h0M435.6 1381.5h0M394.1 1313.5h0M363.0 1330.6h0M481.7 1391.8h0M381.7 1389.9h0M358.4 1375.1h0M435.4 1349.5h0M428.1 1407.5h0M490.2 1379.0h0M389.8 1369.5h0M418.3 1366.0h0M357.3 1326.8h0M396.8 1391.5h0M506.2 1405.5h0M366.8 1337.9h0M408.3 1327.8h0M406.3 1402.6h0M612.9 1373.5h0M386.2 1350.1h0M429.2 1385.4h0M389.2 1393.1h0M406.0 1391.9h0M422.3 1360.4h0M344.6 1363.3h0M354.5 1348.8h0M350.2 1346.6h0M434.2 1390.6h0M390.0 1375.5h0M426.7 1347.6h0M496.1 1391.3h0M392.2 1332.9h0M409.4 1392.8h0M395.9 1393.1h0M422.2 1383.6h0M356.4 1406.1h0M383.3 1398.9h0M461.9 1389.9h0M435.7 1407.7h0M434.2 1387.0h0M378.7 1376.2h0M401.8 1402.4h0M363.8 1370.1h0M411.8 1312.6h0M552.8 1398.5h0M430.2 1395.9h0M523.8 1372.1h0M357.0 1399.4h0M438.6 1362.4h0M382.8 1326.0h0M420.4 1393.7h0M364.3 1371.2h0M465.0 1406.2h0M522.3 1377.9h0M457.1 1321.0h0M376.9 1369.5h0M518.7 1397.1h0M396.9 1381.8h0M353.1 1341.9h0M410.7 1349.4h0M456.9 1386.7h0M457.2 1389.6h0M382.0 1370.9h0M392.0 1354.8h0M375.5 1327.1h0M353.6 1373.3h0M403.7 1371.2h0M357.6 1403.7h0M382.9 1391.2h0M355.2 1384.7h0M387.6 1387.0h0M453.6 1403.7h0M504.4 1401.5h0M477.5 1371.3h0M428.8 1406.7h0M352.6 1386.6h0M506.5 1399.8h0M428.1 1368.2h0M370.3 1381.6h0M431.7 1340.1h0M457.1 1295.5h0M400.7 1391.8h0M408.1 1331.1h0M409.4 1348.6h0M412.4 1351.7h0M340.1 1405.3h0M427.2 1338.4h0M450.3 1362.8h0M441.8 1395.8h0M539.0 1376.7h0M423.4 1298.8h0M460.5 1407.7h0M372.1 1347.0h0M457.3 1407.2h0M425.9 1388.9h0M476.1 1360.3h0M527.5 1390.7h0M486.6 1402.1h0M398.9 1306.3h0M430.2 1359.5h0M382.8 1291.6h0M390.3 1394.5h0M453.0 1400.3h0M400.2 1356.9h0M411.9 1373.5h0M352.6 1393.6h0M543.8 1395.7h0M414.2 1318.5h0M443.0 1357.3h0M437.5 1383.8h0M394.7 1353.8h0M354.8 1368.3h0M456.4 1383.5h0M382.6 1372.7h0M382.6 1391.3h0M419.5 1379.3h0M464.3 1363.1h0M570.6 1372.1h0M542.3 1404.9h0M438.7 1393.1h0M392.7 1380.5h0M367.4 1378.5h0M435.7 1392.3h0M500.9 1400.1h0M367.1 1351.6h0M442.8 1371.6h0M352.8 1343.1h0M440.4 1313.3h0M483.5 1374.1h0M344.2 1400.3h0M394.4 1338.6h0M364.7 1371.6h0M384.2 1368.0h0M394.8 1344.7h0M381.1 1374.8h0M400.5 1290.3h0M433.3 1400.8h0M401.5 1383.4h0M481.4 1388.0h0M424.1 1340.7h0M429.8 1381.7h0M376.2 1326.3h0M534.0 1386.6h0M469.9 1343.8h0M470.9 1395.0h0M459.3 1392.5h0M375.3 1383.1h0M439.8 1372.2h0M380.6 1385.9h0M419.7 1372.1h0M420.4 1401.4h0M467.2 1402.0h0M356.3 1295.7h0M386.3 1313.0h0M352.1 1370.9h0M402.6 1395.5h0M437.0 1361.2h0M398.8 1310.6h0M374.1 1389.9h0M352.3 1392.3h0M447.1 1291.1h0M406.5 1315.2h0M427.0 1320.7h0M449.2 1318.3h0M412.6 1393.5h0M476.4 1365.8h0M388.2 1367.0h0M462.4 1294.4h0M354.4 1329.5h0M472.5 1404.6h0M374.2 1352.5h0M416.0 1374.5h0M438.5 1404.3h0M358.3 1399.6h0M362.2 1402.3h0M377.9 1346.4h0M524.7 1403.7h0M429.8 1393.4h0M421.5 1330.3h0M359.2 1379.4h0M398.9 1403.8h0M406.4 1316.4h0M449.2 1405.7h0M407.8 1397.5h0M350.6 1387.8h0M519.6 1403.4h0M351.4 1334.9h0M412.1 1372.2h0M536.9 1382.5h0M376.1 1370.6h0M490.2 1380.7h0M418.6 1333.1h0M368.9 1390.0h0M445.4 1404.9h0M440.9 1405.3h0M366.1 1370.2h0M340.9 1404.0h0M398.7 1348.9h0M364.2 1348.6h0M366.2 1322.0h0M369.6 1293.6h0M451.6 1384.6h0M376.2 1349.6h0M397.9 1375.2h0M474.8 1384.7h0M415.6 1347.3h0M427.0 1391.4h0M422.0 1343.7h0M434.1 1402.8h0M435.8 1392.9h0M339.7 1322.1h0M378.8 1391.4h0M403.4 1397.5h0M561.8 1395.9h0M423.9 1342.0h0M493.2 1382.4h0M410.4 1397.8h0M412.7 1394.6h0M451.3 1374.9h0M447.1 1374.2h0M351.7 1402.6h0M427.9 1341.5h0M388.8 1376.0h0M463.6 1378.5h0M642.4 1383.0h0M494.0 1310.7h0M510.9 1352.6h0M463.6 1390.5h0M361.8 1329.4h0M459.3 1402.8h0M367.9 1404.6h0M405.8 1406.9h0M381.3 1350.0h0M353.8 1403.5h0M380.1 1391.4h0M392.6 1313.9h0M491.6 1398.1h0M338.7 1365.2h0M384.3 1312.5h0M395.6 1396.9h0M529.3 1404.4h0M363.1 1394.9h0M396.1 1376.1h0M429.0 1396.3h0M397.0 1390.5h0M417.0 1330.5h0M349.1 1369.0h0M373.0 1365.7h0M362.0 1393.7h0M386.2 1388.1h0M463.2 1400.6h0M428.1 1335.8h0M452.3 1378.4h0M375.2 1336.0h0M399.1 1401.3h0M460.0 1358.5h0M433.7 1403.4h0M435.9 1367.7h0M493.1 1358.1h0M384.3 1382.6h0M440.5 1341.7h0M486.5 1391.3h0M391.5 1299.3h0M437.9 1403.8h0M354.7 1294.4h0M410.8 1346.9h0M475.1 1393.4h0M414.8 1376.1h0M452.1 1376.1h0M435.5 1319.2h0M338.5 1384.9h0M380.8 1335.5h0M405.3 1352.2h0M484.9 1398.8h0M406.5 1387.1h0M394.9 1398.0h0M385.3 1371.8h0M418.5 1333.7h0M371.6 1370.4h0M400.9 1343.2h0M376.4 1325.7h0M363.6 1329.3h0M540.6 1393.0h0M403.8 1353.8h0M382.9 1406.2h0M505.0 1321.1h0M405.4 1382.0h0M434.3 1335.4h0M376.3 1367.4h0M413.3 1343.5h0M430.8 1362.4h0M366.5 1392.9h0M407.9 1370.7h0M410.5 1380.6h0M398.8 1362.0h0M361.5 1334.0h0M507.1 1347.8h0M471.2 1399.4h0M397.0 1332.2h0M376.2 1381.6h0M388.2 1399.2h0M437.5 1386.5h0M457.4 1373.6h0M460.4 1369.8h0M413.4 1311.2h0M352.9 1400.4h0M362.7 1384.7h0M362.6 1328.2h0M388.0 1360.5h0M562.1 1396.4h0M366.1 1304.1h0M434.5 1363.8h0M484.8 1387.8h0M361.5 1399.3h0M414.2 1383.9h0M470.0 1398.3h0M385.0 1396.9h0M471.3 1402.7h0M439.1 1350.4h0M343.7 1298.0h0M491.1 1389.5h0M375.0 1405.0h0M404.2 1306.6h0M397.6 1377.4h0M464.4 1333.0h0M477.3 1403.8h0M352.4 1395.7h0M392.3 1394.4h0M376.8 1398.3h0M422.7 1390.6h0M372.9 1373.2h0M407.9 1316.5h0M472.3 1401.8h0M380.6 1367.2h0M392.1 1393.4h0M501.0 1390.6h0M410.0 1367.8h0M517.9 1406.8h0M338.2 1387.4h0M423.3 1386.7h0M356.1 1347.3h0M416.2 1386.1h0M366.4 1396.8h0M460.2 1374.1h0M429.0 1393.5h0M374.1 1391.9h0M417.8 1387.0h0M504.4 1345.5h0M355.5 1398.6h0M367.8 1367.2h0M440.3 1292.5h0M356.3 1401.5h0M379.1 1356.5h0M429.3 1384.5h0M397.9 1393.1h0M365.8 1391.0h0M368.6 1371.8h0M376.6 1403.5h0M404.4 1380.1h0M345.5 1363.0h0M394.2 1389.1h0M586.4 1406.2h0M440.0 1386.5h0M355.0 1311.5h0M508.1 1406.2h0M408.5 1396.6h0M453.7 1400.2h0M386.7 1309.5h0M414.5 1393.0h0M350.4 1363.7h0M393.2 1357.7h0M513.0 1393.0h0M456.5 1373.8h0M463.2 1379.9h0M404.4 1337.7h0M539.4 1403.5h0M425.4 1290.9h0M431.6 1388.6h0M502.7 1395.6h0M379.4 1356.7h0M436.5 1392.3h0M382.5 1387.4h0M428.9 1341.2h0M405.7 1345.1h0M499.9 1371.1h0M403.0 1362.7h0M420.8 1370.4h0M415.5 1402.4h0M501.9 1398.6h0M424.0 1386.3h0M354.6 1360.1h0M383.2 1372.1h0M399.0 1327.2h0M381.2 1388.6h0M431.6 1387.0h0M369.1 1333.8h0M327.9 1367.9h0M489.3 1359.0h0M371.1 1297.3h0M412.2 1322.3h0M408.6 1352.0h0M417.2 1320.9h0M491.3 1336.5h0M326.7 1403.6h0M400.1 1371.6h0M490.5 1336.2h0M370.9 1386.4h0M368.8 1357.8h0M368.5 1383.5h0M396.4 1345.8h0M412.0 1397.7h0M489.7 1358.2h0M429.2 1349.9h0M367.8 1329.5h0M426.2 1363.2h0M378.2 1295.9h0M388.6 1403.8h0M408.4 1301.8h0M494.6 1407.7h0M360.9 1312.5h0M355.6 1394.9h0M319.7 1343.5h0M389.8 1366.3h0M456.9 1329.5h0M456.2 1391.2h0M423.1 1357.5h0M399.0 1336.2h0M392.1 1406.3h0M463.4 1351.2h0M379.5 1369.2h0M362.9 1345.7h0M332.5 1385.0h0M356.5 1342.2h0M346.6 1343.3h0M485.8 1341.9h0M408.6 1399.7h0M360.0 1369.0h0M386.7 1301.6h0M380.8 1339.0h0M344.8 1391.1h0M413.0 1400.0h0M351.4 1335.3h0M430.3 1404.4h0M435.5 1376.9h0M414.5 1405.8h0M478.6 1365.5h0M371.7 1404.6h0M421.4 1397.7h0M517.6 1387.8h0M469.3 1386.9h0M369.0 1298.9h0M420.8 1350.9h0M494.4 1402.6h0M378.5 1353.2h0M378.4 1404.9h0M418.1 1366.4h0M371.5 1314.8h0M443.5 1354.8h0M396.6 1292.1h0M377.0 1378.3h0M414.9 1381.9h0M556.5 1388.1h0M373.6 1395.5h0M357.1 1317.9h0M413.5 1364.1h0M458.4 1360.1h0M359.4 1353.5h0M527.2 1373.7h0M415.2 1379.2h0M448.8 1404.0h0M479.4 1376.2h0M434.7 1371.6h0M394.3 1346.6h0M382.0 1393.0h0M402.8 1346.0h0M413.9 1381.2h0M476.2 1383.4h0M401.0 1381.7h0M420.6 1397.6h0M411.5 1398.0h0M384.6 1398.9h0M449.0 1373.1h0M402.8 1324.2h0M372.2 1341.5h0M417.6 1306.5h0M480.3 1402.6h0M438.4 1400.2h0M489.9 1400.0h0M327.5 1308.2h0M367.8 1362.4h0M358.0 1302.7h0M455.0 1372.9h0M354.1 1324.4h0M503.9 1382.4h0M393.9 1403.9h0M429.0 1406.4h0M493.6 1311.3h0M417.9 1396.6h0M362.0 1302.1h0M496.7 1356.3h0M475.0 1373.1h0M463.4 1346.3h0M486.0 1396.5h0M373.6 1387.1h0M396.5 1355.8h0M374.7 1380.9h0M435.3 1385.5h0M399.3 1317.7h0M389.0 1299.4h0M426.4 1312.0h0M435.6 1378.8h0M392.8 1402.0h0M404.6 1363.3h0M424.3 1387.2h0M472.9 1377.1h0M347.2 1308.5h0M369.1 1346.1h0M427.8 1396.5h0M502.8 1406.9h0M432.3 1306.0h0M491.2 1405.8h0M404.7 1317.1h0M361.7 1407.2h0M382.4 1291.7h0M367.1 1365.7h0M448.5 1371.7h0M471.7 1406.1h0M380.1 1402.4h0M512.2 1391.6h0M383.1 1404.5h0M416.3 1398.3h0M392.7 1331.3h0M539.2 1354.6h0M425.9 1348.8h0M445.5 1361.2h0M364.3 1356.7h0M391.4 1383.7h0M417.3 1374.0h0M393.5 1398.3h0M360.7 1356.4h0M419.1 1360.0h0M443.0 1365.1h0M458.3 1324.0h0M427.6 1401.9h0M411.1 1401.0h0M391.2 1407.6h0M362.6 1370.4h0M359.0 1395.7h0M384.0 1332.7h0M472.6 1407.4h0M342.7 1366.9h0M461.6 1361.5h0M379.0 1353.0h0M425.9 1329.6h0M379.0 1399.7h0M564.6 1392.6h0M407.7 1318.5h0M363.6 1377.8h0M436.5 1398.5h0M467.0 1399.9h0M387.1 1406.3h0M456.1 1349.5h0M383.0 1374.4h0M398.7 1399.2h0M368.4 1348.2h0M368.4 1404.0h0M466.9 1401.2h0M407.7 1395.8h0M541.3 1403.5h0M449.4 1405.9h0M480.6 1336.2h0M429.5 1400.1h0M470.9 1379.0h0M418.0 1379.0h0M464.8 1375.0h0M468.1 1378.2h0M391.7 1382.5h0M425.0 1384.7h0M388.4 1378.0h0M475.2 1361.3h0M467.1 1331.7h0M358.9 1407.4h0M453.2 1351.6h0M350.2 1336.8h0M402.1 1404.5h0M460.8 1335.1h0M358.1 1339.5h0M421.8 1302.2h0M457.0 1405.9h0M389.3 1373.9h0M427.2 1385.1h0M390.0 1389.1h0M385.2 1403.2h0M403.9 1323.9h0M436.0 1299.1h0M579.0 1406.9h0M482.2 1357.2h0M499.2 1400.0h0M454.1 1356.7h0M360.0 1344.7h0M365.9 1390.4h0M367.4 1319.9h0M392.2 1390.8h0M433.6 1401.3h0M444.2 1407.4h0M382.7 1328.1h0M456.2 1382.2h0M439.7 1333.7h0M383.8 1404.7h0M389.1 1366.8h0M352.9 1381.8h0M580.6 1407.4h0M438.8 1396.0h0M473.0 1402.3h0M346.0 1392.1h0M379.2 1406.0h0M400.1 1404.3h0M442.5 1369.7h0M400.3 1380.2h0M479.8 1396.4h0M381.1 1339.5h0M413.7 1384.9h0M498.3 1402.8h0M554.9 1398.8h0M362.6 1353.5h0M369.5 1370.1h0M367.2 1405.5h0M452.2 1308.1h0M468.6 1376.1h0M463.0 1307.6h0M394.5 1404.5h0M418.8 1384.6h0M524.5 1402.0h0M402.7 1340.2h0M359.3 1389.3h0M556.2 1346.1h0M369.4 1387.7h0M362.8 1327.0h0M408.0 1378.7h0M383.4 1315.1h0M419.0 1361.0h0M467.6 1384.2h0M420.2 1384.1h0M544.4 1405.7h0M422.3 1392.1h0M533.2 1390.6h0M519.0 1390.6h0M503.5 1367.7h0M430.1 1344.3h0M420.7 1395.0h0M410.3 1379.2h0M455.1 1406.1h0M430.1 1387.9h0M358.0 1387.7h0M416.2 1390.8h0M405.1 1400.9h0M425.0 1334.6h0M407.9 1399.2h0M493.9 1406.1h0M400.3 1314.2h0M441.7 1387.8h0M444.3 1406.6h0M439.5 1324.1h0M457.8 1314.4h0M363.9 1381.8h0M385.0 1359.2h0M434.0 1389.3h0M482.7 1331.5h0M371.7 1361.9h0M481.8 1359.3h0M424.3 1351.3h0M406.7 1375.6h0M389.4 1329.4h0M451.6 1371.7h0M405.6 1374.7h0M477.0 1323.4h0M503.1 1381.7h0M428.9 1313.6h0M465.4 1404.3h0M416.1 1340.9h0M463.9 1403.6h0M423.9 1402.5h0M391.7 1399.2h0M399.0 1327.8h0M431.5 1385.2h0M510.5 1405.0h0M373.7 1342.8h0M370.8 1404.8h0M410.8 1373.0h0M394.0 1384.3h0M381.6 1383.3h0M542.9 1375.3h0M404.1 1345.3h0M399.8 1398.3h0M424.1 1353.7h0M372.5 1340.7h0M429.0 1397.2h0M484.2 1384.9h0M407.4 1337.8h0M374.5 1331.2h0M394.2 1348.8h0M541.5 1334.5h0M430.6 1359.5h0M481.4 1360.9h0M497.1 1401.6h0M424.4 1351.5h0M443.3 1385.7h0M402.2 1401.2h0M394.7 1350.1h0M400.3 1307.5h0M424.3 1355.9h0M503.8 1405.1h0M383.1 1335.6h0M391.4 1292.5h0M399.5 1326.6h0M424.3 1380.2h0M350.3 1330.5h0M502.4 1403.2h0M366.6 1378.7h0M403.2 1405.9h0M354.9 1337.2h0M460.2 1395.8h0M468.2 1345.9h0M417.1 1346.9h0M370.4 1335.4h0M372.4 1355.2h0M382.4 1401.8h0M490.4 1406.2h0M433.0 1395.4h0M584.0 1404.1h0M391.6 1310.5h0M414.4 1369.8h0M476.8 1406.0h0M436.0 1394.0h0M396.4 1392.7h0M363.2 1372.6h0M390.9 1399.3h0M380.9 1350.8h0M417.0 1340.2h0M388.3 1400.9h0M433.9 1353.4h0M402.3 1331.1h0M414.0 1338.2h0M358.8 1392.9h0M376.9 1387.5h0M464.1 1401.9h0M389.9 1405.2h0M412.2 1340.0h0M393.8 1402.3h0M370.6 1401.6h0M475.3 1384.3h0M384.4 1332.8h0M401.1 1370.7h0M400.1 1377.3h0M440.0 1370.4h0M368.5 1377.0h0M439.2 1386.5h0M495.5 1401.2h0M443.7 1368.2h0M368.8 1399.0h0M490.2 1400.4h0M420.7 1315.3h0M468.8 1373.0h0M335.6 1292.7h0M386.3 1333.1h0M471.4 1383.4h0M368.3 1400.9h0M401.7 1329.0h0M446.0 1399.9h0M512.5 1375.9h0M427.7 1381.5h0M550.6 1374.8h0M346.1 1403.9h0M455.0 1319.6h0M432.9 1378.4h0M400.5 1403.1h0M481.6 1407.0h0M444.5 1399.1h0M409.6 1396.2h0M377.2 1406.8h0M436.5 1398.0h0M395.4 1376.2h0M520.1 1392.1h0M435.7 1395.7h0M459.5 1370.9h0M604.8 1373.4h0M398.6 1375.4h0M511.2 1380.9h0M370.8 1407.3h0M377.8 1330.3h0M337.8 1316.1h0M350.2 1383.0h0M454.8 1382.0h0M414.9 1359.6h0M478.1 1406.4h0M463.3 1356.8h0M503.6 1301.8h0M425.3 1383.4h0M538.9 1390.3h0M434.1 1311.7h0M374.4 1400.2h0M433.9 1401.4h0M380.3 1398.4h0M483.9 1364.7h0M406.6 1393.3h0M490.7 1383.9h0M362.9 1389.3h0M500.5 1375.9h0M364.1 1403.5h0M481.0 1356.4h0M503.7 1401.1h0M405.3 1397.9h0M462.7 1380.0h0M377.2 1311.1h0M472.4 1385.1h0M368.2 1342.0h0M392.5 1382.9h0M377.7 1360.9h0M362.7 1406.1h0M358.2 1309.9h0M391.9 1326.2h0M386.6 1399.0h0M466.5 1402.0h0M415.5 1380.3h0M400.2 1371.7h0M391.6 1390.7h0M418.2 1385.2h0M451.4 1396.7h0M336.9 1309.4h0M455.9 1350.6h0M374.8 1394.9h0M406.7 1326.9h0M397.2 1375.1h0M459.7 1344.8h0M409.1 1365.4h0M402.1 1343.0h0M462.9 1388.1h0M381.5 1384.1h0M505.1 1388.9h0M467.4 1379.2h0M382.9 1393.1h0M457.5 1397.7h0M416.4 1393.1h0M333.0 1407.2h0M363.1 1338.2h0M378.3 1344.9h0M417.9 1304.3h0M372.4 1387.2h0M475.3 1360.4h0M381.3 1350.0h0M394.9 1404.9h0M367.6 1390.5h0M444.3 1391.8h0M432.3 1366.4h0M552.2 1385.8h0M450.6 1396.9h0M393.8 1371.0h0M434.7 1395.5h0M381.5 1386.9h0M370.1 1372.3h0M405.9 1401.9h0M354.4 1404.5h0M375.2 1406.9h0M388.2 1308.2h0M391.8 1316.1h0M458.7 1407.4h0M579.7 1401.0h0M462.3 1383.3h0M431.5 1392.5h0M463.7 1329.2h0M367.1 1318.8h0M685.9 1385.5h0M438.5 1397.6h0M367.2 1318.8h0M431.2 1401.9h0M461.2 1405.4h0M461.5 1399.3h0M463.6 1334.9h0M368.3 1349.7h0M362.8 1299.0h0M350.4 1386.5h0M373.6 1350.6h0M445.5 1399.6h0M480.2 1405.9h0M498.3 1384.1h0M461.4 1395.9h0M493.6 1317.9h0M416.9 1326.0h0M446.8 1373.1h0M355.4 1390.6h0M423.0 1399.3h0M405.1 1343.3h0M365.6 1388.6h0M492.5 1405.6h0M438.1 1380.3h0M381.0 1395.7h0M395.8 1382.2h0M429.9 1293.1h0M409.7 1400.3h0M465.9 1394.7h0M470.7 1369.9h0M413.3 1396.0h0M387.8 1302.7h0M391.3 1405.5h0M395.5 1386.1h0M411.0 1328.0h0M478.2 1403.5h0M371.8 1402.7h0M372.9 1358.4h0M363.4 1382.1h0M591.5 1401.5h0M409.1 1378.6h0M445.4 1323.4h0M478.0 1398.8h0M437.1 1364.7h0M463.7 1341.5h0M555.9 1379.2h0M367.5 1399.5h0M362.2 1335.6h0M406.9 1357.2h0M362.1 1388.3h0M472.4 1383.4h0M397.1 1362.7h0M375.4 1392.3h0M373.9 1399.4h0M366.8 1401.2h0M383.3 1379.8h0M403.8 1401.4h0M516.7 1375.6h0M373.4 1298.9h0M319.9 1369.9h0M466.4 1339.8h0M339.0 1392.9h0M339.5 1402.1h0M420.6 1333.0h0M383.4 1374.7h0M427.0 1397.4h0M394.5 1390.0h0M460.0 1376.8h0M501.9 1393.4h0M319.1 1372.4h0M448.2 1396.4h0M399.0 1335.4h0M427.2 1366.9h0M461.9 1332.0h0M508.9 1374.9h0M502.9 1365.3h0M479.3 1398.1h0M361.4 1396.8h0M400.9 1407.0h0M354.9 1403.9h0M440.7 1342.2h0M405.1 1374.3h0M392.9 1374.9h0M378.8 1316.2h0M380.7 1376.0h0M401.5 1392.6h0M480.6 1373.2h0M365.2 1301.2h0M517.5 1356.6h0M343.1 1387.4h0M475.8 1384.7h0M474.4 1346.8h0M468.0 1402.0h0M456.5 1357.4h0M514.1 1340.1h0M395.9 1373.5h0M426.5 1332.2h0M416.1 1405.1h0M454.4 1391.5h0M361.5 1335.7h0M360.6 1388.5h0M450.2 1399.3h0M374.4 1334.8h0M373.9 1407.5h0M437.2 1367.4h0M434.0 1377.1h0M363.1 1400.2h0M417.0 1312.1h0M380.8 1362.7h0M370.2 1314.3h0M350.9 1394.8h0M530.3 1405.1h0M426.4 1388.3h0M580.7 1304.7h0M402.2 1365.5h0M370.1 1396.1h0M402.8 1363.4h0M393.5 1371.1h0M512.8 1403.9h0M425.7 1337.6h0M395.6 1307.8h0M362.0 1375.8h0M382.3 1302.6h0M493.7 1389.6h0M362.7 1307.6h0M415.5 1378.6h0M392.8 1335.9h0M406.9 1399.9h0M589.3 1400.7h0M541.9 1382.0h0M450.0 1339.5h0M378.8 1401.9h0M381.2 1401.6h0M395.3 1374.6h0M511.2 1404.1h0M400.3 1359.1h0M393.6 1293.4h0M367.0 1400.5h0M496.1 1387.1h0M397.6 1323.5h0M413.5 1375.9h0M508.8 1403.2h0M417.4 1396.9h0M361.4 1406.5h0M383.3 1386.1h0M433.3 1360.4h0M473.2 1343.9h0M429.8 1367.2h0M367.1 1404.1h0M394.6 1401.5h0M421.3 1344.8h0M388.5 1373.8h0M346.2 1407.8h0M361.7 1326.3h0M471.1 1386.3h0M374.8 1387.8h0M539.1 1402.0h0M379.7 1372.8h0M377.4 1405.9h0M375.2 1357.2h0M668.9 1348.8h0M337.8 1347.0h0M425.0 1400.7h0M363.5 1384.9h0M406.9 1342.9h0M347.7 1335.8h0M402.8 1356.5h0M433.2 1379.5h0M486.8 1393.4h0M432.9 1392.8h0M391.1 1298.1h0M353.2 1335.7h0M454.0 1336.4h0M367.4 1326.5h0M499.1 1400.5h0M434.6 1402.6h0M350.3 1375.4h0M493.0 1358.7h0M381.3 1407.8h0M533.3 1384.4h0M416.4 1321.5h0M411.8 1307.6h0M388.5 1356.4h0M615.2 1398.4h0M432.1 1356.9h0M415.1 1365.9h0M433.9 1407.8h0M427.6 1373.9h0M382.4 1389.0h0M437.8 1302.1h0M394.7 1361.0h0M551.8 1407.2h0M377.0 1327.7h0M368.9 1356.3h0M397.0 1403.6h0M418.5 1406.3h0M444.9 1388.9h0M429.2 1396.6h0M402.2 1399.6h0M412.1 1386.1h0M366.8 1394.9h0M388.7 1405.2h0M396.8 1382.8h0M478.4 1334.0h0M380.7 1382.1h0M458.4 1393.3h0M367.3 1294.2h0M382.7 1376.3h0M497.5 1349.4h0M446.8 1399.3h0M326.0 1358.6h0M457.1 1342.9h0M521.0 1405.9h0M382.8 1380.6h0M474.6 1403.3h0M364.5 1401.9h0M357.3 1371.0h0M360.0 1401.6h0M390.7 1396.9h0M494.0 1403.0h0M428.3 1378.5h0M350.6 1351.5h0M385.1 1374.3h0M453.9 1380.5h0M405.1 1322.8h0M430.0 1373.6h0M474.6 1387.6h0M513.1 1395.4h0M518.0 1319.1h0M356.6 1385.5h0M450.7 1329.5h0M460.6 1370.9h0M351.0 1361.7h0M481.8 1379.7h0M467.9 1322.3h0M479.8 1403.0h0M423.6 1358.0h0M431.0 1342.7h0M521.3 1388.2h0M368.5 1388.0h0M397.7 1342.3h0M360.4 1392.4h0M394.1 1403.0h0M488.7 1398.3h0M480.8 1396.6h0M390.6 1390.8h0M363.5 1331.1h0M472.0 1386.6h0M415.4 1342.8h0M359.4 1342.3h0M440.9 1405.8h0M434.8 1372.6h0M423.2 1383.8h0M409.4 1406.7h0M475.8 1399.1h0M383.4 1405.2h0M453.9 1400.2h0M445.3 1389.8h0M424.1 1389.6h0M489.7 1291.1h0M400.2 1388.8h0M491.2 1392.4h0M380.3 1350.1h0M426.9 1342.1h0M399.6 1390.3h0M338.8 1303.9h0M397.9 1345.8h0M370.8 1377.3h0M430.5 1359.7h0M382.9 1355.7h0M436.9 1308.0h0M469.0 1361.8h0M473.7 1401.5h0M374.4 1314.6h0M494.1 1402.1h0M474.8 1397.1h0M430.1 1352.6h0M488.5 1371.7h0M402.7 1347.3h0M381.0 1346.4h0M390.0 1326.5h0M432.0 1374.7h0M417.8 1335.8h0M344.5 1367.7h0M447.7 1403.9h0M410.9 1384.8h0M396.6 1380.8h0M366.1 1338.9h0M365.3 1381.9h0M433.9 1337.2h0M447.4 1402.9h0M385.6 1405.9h0M427.2 1344.3h0M364.3 1357.5h0M424.3 1366.4h0M392.1 1362.9h0M432.4 1320.1h0M418.8 1371.1h0M433.9 1345.0h0M387.6 1392.3h0M579.1 1391.3h0M397.2 1311.1h0M431.5 1389.7h0M418.2 1396.9h0M496.3 1392.0h0M401.8 1366.8h0M493.3 1349.5h0M414.1 1368.7h0M450.2 1385.7h0M445.5 1339.3h0M371.3 1392.6h0M367.3 1405.5h0M343.0 1317.3h0M379.0 1352.8h0M425.0 1369.3h0M377.1 1399.1h0M372.5 1382.2h0M365.6 1356.2h0M363.7 1383.5h0M517.3 1401.2h0M361.5 1313.3h0M395.9 1347.1h0M413.3 1351.9h0M439.6 1406.0h0M432.2 1345.9h0M372.9 1376.9h0M406.3 1367.2h0M463.5 1345.1h0M372.1 1373.6h0M370.1 1394.5h0M442.1 1362.5h0M424.6 1393.6h0M393.2 1332.0h0M433.1 1376.9h0M483.0 1399.9h0M475.3 1405.3h0M376.5 1402.2h0M383.6 1343.7h0M402.4 1307.9h0M375.4 1405.6h0M398.9 1366.5h0M376.4 1362.6h0M426.0 1346.2h0M401.6 1316.8h0M389.8 1328.3h0M360.5 1324.1h0M461.2 1351.9h0M363.8 1310.5h0M427.0 1379.6h0M570.5 1361.3h0M401.2 1292.6h0M356.4 1386.2h0M355.6 1325.4h0M369.3 1397.0h0M540.7 1369.1h0M357.4 1364.7h0M372.4 1352.5h0M397.6 1390.1h0M511.4 1329.6h0M464.4 1340.0h0M400.3 1395.2h0M458.5 1384.1h0M509.5 1403.4h0M441.0 1362.8h0M474.8 1406.5h0M392.7 1344.7h0M408.2 1399.0h0M408.1 1360.3h0M325.9 1373.7h0M471.4 1400.6h0M363.2 1395.4h0M404.8 1396.0h0M456.1 1368.1h0M383.9 1338.5h0M362.3 1389.3h0M363.4 1407.2h0M409.3 1388.5h0M529.5 1370.2h0M354.2 1389.8h0M406.2 1393.7h0M379.4 1321.3h0M438.5 1400.2h0M422.8 1376.2h0M385.7 1405.3h0M347.7 1336.0h0M388.3 1373.8h0M424.6 1367.5h0M364.5 1324.9h0M354.9 1351.4h0M436.6 1399.4h0M465.6 1387.3h0M348.1 1347.3h0M455.5 1404.1h0M392.6 1309.6h0M398.1 1338.8h0M437.7 1325.1h0M383.1 1406.9h0M400.3 1358.1h0M477.2 1400.2h0M463.5 1361.6h0M381.1 1359.2h0M458.8 1298.6h0M463.7 1383.5h0M454.4 1298.5h0M370.1 1363.2h0M417.4 1372.3h0M356.5 1403.4h0M416.3 1391.5h0M358.5 1338.7h0M485.9 1396.8h0M410.3 1318.6h0M402.4 1375.3h0M438.7 1357.8h0M415.6 1325.5h0M399.0 1366.8h0M476.3 1335.0h0M438.2 1398.5h0M412.2 1329.7h0M589.1 1405.7h0M433.3 1368.0h0M434.5 1371.6h0M408.8 1386.3h0M384.9 1341.1h0M501.8 1327.0h0M359.5 1317.1h0M533.3 1385.8h0M448.5 1404.2h0M391.6 1364.2h0M402.0 1392.9h0M525.8 1379.7h0M418.9 1342.9h0M423.4 1378.2h0M366.2 1352.6h0M372.8 1301.5h0M420.9 1404.0h0M398.1 1402.2h0M374.5 1354.8h0M330.2 1380.4h0M406.5 1318.3h0M399.2 1333.6h0M431.1 1357.5h0M487.1 1365.0h0M401.5 1390.7h0M376.0 1388.6h0M496.9 1395.0h0M390.3 1401.7h0M460.4 1379.2h0M425.6 1335.2h0M365.3 1351.8h0M475.0 1400.1h0M357.4 1342.3h0M431.2 1400.9h0M338.6 1405.8h0M381.1 1406.8h0M350.5 1292.5h0M449.5 1362.7h0M454.1 1335.9h0M349.9 1362.8h0M379.2 1310.8h0M367.1 1360.1h0M437.0 1316.7h0M462.5 1406.1h0M441.9 1375.4h0M477.4 1316.5h0M429.0 1386.6h0M392.9 1350.5h0M442.1 1307.1h0M441.7 1397.2h0M402.8 1402.8h0M391.8 1332.5h0M524.2 1322.3h0M386.7 1372.0h0M396.3 1401.3h0M361.7 1387.8h0M355.8 1370.6h0M451.0 1395.2h0M416.5 1397.7h0M461.0 1404.4h0M473.4 1310.2h0M381.0 1398.0h0M421.5 1407.2h0M384.3 1323.1h0M360.4 1366.3h0M388.0 1313.4h0M393.4 1335.6h0M346.7 1357.7h0M376.4 1402.1h0M423.5 1365.4h0M392.3 1315.6h0M479.1 1398.9h0M351.2 1371.4h0M418.9 1379.4h0M383.9 1326.3h0M366.4 1350.1h0M390.7 1359.1h0M557.4 1397.0h0M442.3 1309.3h0M422.8 1371.1h0M377.8 1353.0h0M437.4 1397.0h0M406.5 1305.8h0M376.1 1405.1h0M525.8 1391.2h0M364.0 1391.9h0M389.2 1396.4h0M400.0 1392.4h0M473.0 1398.2h0M555.5 1404.7h0M417.7 1327.7h0M370.7 1389.9h0M342.6 1402.1h0M436.7 1362.8h0M407.3 1385.4h0M392.7 1340.0h0M351.9 1341.0h0M385.4 1392.6h0M356.7 1392.5h0M390.5 1382.1h0M458.6 1381.2h0M465.8 1404.3h0M412.0 1390.4h0M432.0 1363.8h0M408.3 1405.7h0M489.9 1358.2h0M370.8 1327.4h0M352.4 1387.5h0M434.7 1365.4h0M392.5 1362.8h0M394.0 1391.1h0M396.0 1390.5h0M340.1 1321.6h0M444.4 1379.9h0M381.1 1329.5h0M424.8 1395.3h0M387.6 1319.8h0M370.0 1302.1h0M465.6 1393.8h0M461.0 1407.7h0M353.8 1406.0h0M411.7 1376.3h0M397.7 1392.7h0M496.8 1297.9h0M459.6 1377.2h0M431.1 1369.3h0M388.5 1300.7h0M367.8 1338.9h0M361.2 1406.2h0M446.2 1344.8h0M451.2 1360.7h0M393.4 1388.3h0M364.1 1395.6h0M507.3 1365.7h0M358.3 1374.1h0M400.9 1404.4h0M512.0 1390.6h0M478.9 1363.3h0M390.4 1345.0h0M484.4 1293.9h0M365.9 1396.6h0M426.8 1369.3h0M416.6 1320.6h0M508.1 1373.9h0M427.9 1386.0h0M379.9 1365.8h0M376.4 1398.1h0M378.7 1367.3h0M435.8 1376.9h0M455.5 1375.7h0M380.6 1373.0h0M383.5 1401.2h0M389.4 1391.3h0M358.9 1308.7h0M426.7 1379.9h0M561.5 1399.8h0M458.1 1407.1h0M372.1 1369.1h0M339.1 1401.5h0M358.7 1326.0h0M473.2 1396.0h0M412.6 1339.3h0M446.8 1381.5h0M396.0 1331.8h0M404.3 1384.3h0M454.2 1397.8h0M428.3 1404.6h0M442.0 1311.9h0M367.8 1394.0h0M427.8 1376.3h0M519.2 1404.4h0M369.8 1391.2h0M460.7 1392.4h0M417.2 1407.2h0M501.4 1407.9h0M375.4 1402.8h0M386.6 1321.7h0M396.0 1353.4h0M441.5 1364.3h0M413.2 1381.1h0M443.6 1330.0h0M399.8 1374.9h0M354.4 1407.2h0M413.5 1406.7h0M435.3 1336.0h0M355.5 1327.7h0M459.6 1396.0h0M435.6 1315.1h0M510.3 1381.2h0M412.7 1396.6h0M483.3 1344.5h0M473.6 1402.5h0M383.9 1332.1h0M446.4 1358.1h0M468.3 1387.9h0M434.7 1387.7h0M392.6 1376.2h0M448.5 1383.9h0M439.4 1395.6h0M397.2 1406.1h0M402.6 1293.0h0M369.9 1402.6h0M401.4 1311.9h0M423.2 1385.2h0M433.2 1405.2h0M489.4 1390.7h0M357.7 1404.0h0M511.3 1360.5h0M384.4 1400.2h0M422.4 1393.8h0M413.4 1385.0h0M399.3 1398.2h0M425.0 1361.0h0M386.1 1319.8h0M381.8 1364.3h0M468.2 1344.3h0M388.3 1396.1h0M390.2 1330.7h0M401.1 1406.9h0M455.2 1325.3h0M368.9 1337.0h0M365.8 1387.0h0M393.5 1406.8h0M532.0 1363.7h0M394.0 1400.0h0M392.1 1390.5h0M457.3 1294.5h0M374.2 1378.6h0M460.1 1396.1h0M472.2 1404.7h0M461.6 1402.9h0M440.2 1397.8h0M506.4 1357.6h0M504.3 1389.5h0M361.8 1384.6h0M407.8 1406.6h0M371.5 1407.1h0M496.6 1364.8h0M360.1 1403.9h0M348.3 1389.9h0M349.5 1398.6h0M385.8 1389.3h0M480.0 1348.8h0M356.0 1405.4h0M364.7 1382.5h0M453.5 1404.1h0M471.2 1401.2h0M364.8 1307.8h0M386.2 1317.3h0M389.1 1361.1h0M375.8 1338.6h0M372.2 1388.4h0M492.6 1368.9h0M469.0 1355.1h0M420.8 1302.1h0M354.6 1354.7h0M404.8 1400.6h0M509.9 1366.4h0M414.8 1405.6h0M465.4 1374.0h0M389.2 1398.9h0M385.7 1381.2h0M413.4 1402.1h0M342.2 1360.8h0M399.4 1406.6h0M378.2 1382.3h0M499.3 1395.4h0M381.1 1353.2h0M349.3 1397.5h0M380.2 1369.9h0M379.7 1333.2h0M454.6 1363.8h0M444.8 1319.4h0M398.3 1293.0h0M419.4 1340.8h0M414.8 1406.0h0M352.3 1395.2h0M361.2 1405.4h0M407.3 1390.2h0M382.5 1373.6h0M457.7 1392.8h0M402.1 1403.2h0M383.4 1339.5h0M443.4 1327.1h0M377.4 1389.3h0M447.6 1377.6h0M375.7 1301.2h0M430.0 1365.2h0M425.6 1298.6h0M358.4 1405.8h0M390.7 1396.4h0M368.1 1388.6h0M423.9 1313.1h0M424.4 1332.0h0M396.0 1334.3h0M379.4 1363.1h0M404.1 1392.4h0M416.4 1325.4h0M388.6 1393.5h0M408.0 1367.5h0M363.6 1375.4h0M399.8 1332.3h0M413.7 1336.5h0M437.9 1391.9h0M417.8 1392.1h0M422.5 1337.3h0M368.1 1358.3h0M381.0 1367.3h0M452.5 1397.0h0M412.0 1403.6h0M466.1 1352.8h0M426.4 1406.4h0M631.6 1361.3h0M404.2 1373.9h0M429.2 1391.6h0M464.1 1366.1h0M557.4 1401.1h0M495.9 1374.8h0M368.8 1316.0h0M351.0 1366.0h0M478.0 1367.4h0M455.8 1381.8h0M453.0 1371.1h0M394.3 1363.1h0M472.3 1404.4h0M396.2 1396.5h0M365.3 1389.9h0M384.6 1400.5h0M428.2 1350.3h0M377.1 1311.6h0M361.8 1366.0h0M491.1 1328.0h0M432.5 1403.4h0M453.0 1354.6h0M374.9 1397.5h0M409.3 1395.4h0M384.3 1322.4h0M379.3 1306.6h0M480.6 1405.3h0M365.9 1387.0h0M406.7 1400.6h0M354.3 1364.1h0M377.2 1368.7h0M429.7 1303.3h0M340.3 1341.4h0M356.6 1386.9h0M460.8 1385.1h0M397.1 1382.3h0M471.2 1381.6h0M437.4 1310.9h0M421.7 1318.8h0M426.7 1395.7h0M522.3 1353.0h0M374.5 1383.2h0M426.3 1361.5h0M634.9 1403.3h0M430.7 1373.9h0M475.2 1353.0h0M349.8 1334.4h0M398.0 1391.0h0M459.6 1366.2h0M401.3 1363.5h0M425.7 1348.8h0M466.4 1336.1h0M435.7 1364.4h0M415.3 1390.1h0M379.4 1402.7h0M380.8 1317.2h0M395.3 1351.2h0M393.1 1396.9h0M344.0 1358.2h0M398.1 1371.3h0M385.3 1341.8h0M443.6 1384.2h0M552.6 1395.2h0M376.7 1390.9h0M396.2 1369.2h0M517.8 1403.4h0M472.5 1374.9h0M406.4 1356.0h0M406.8 1364.9h0M462.2 1406.6h0M426.4 1398.6h0M395.6 1346.0h0M373.2 1318.9h0M372.2 1396.1h0M415.4 1381.5h0M348.7 1404.8h0M472.5 1372.1h0M515.8 1380.4h0M505.0 1385.6h0M346.9 1351.1h0M439.7 1395.1h0M398.4 1383.7h0M493.1 1400.3h0M389.8 1379.8h0M425.2 1406.2h0M467.0 1398.5h0M369.8 1406.6h0M409.1 1372.6h0M459.8 1406.7h0M548.7 1393.3h0M422.9 1366.6h0M462.3 1376.9h0M353.9 1404.6h0M403.1 1388.4h0M385.7 1333.9h0M433.6 1360.8h0M463.8 1375.6h0M380.3 1335.9h0M390.8 1373.2h0M368.4 1397.3h0M436.1 1354.3h0M560.9 1346.4h0M377.0 1362.0h0M504.3 1378.4h0M373.9 1336.8h0M444.5 1379.1h0M432.5 1337.5h0M374.7 1350.3h0M419.3 1340.8h0M458.5 1338.5h0M412.8 1382.6h0M369.4 1379.6h0M357.5 1338.7h0M522.8 1398.8h0M437.6 1383.7h0M522.9 1366.3h0M451.7 1394.4h0M406.4 1328.7h0M422.4 1385.9h0M421.3 1387.6h0M408.7 1320.9h0M435.4 1383.6h0M507.4 1404.5h0M490.8 1400.3h0M411.2 1395.2h0M481.2 1386.2h0M486.2 1377.4h0M379.9 1404.9h0M357.3 1291.6h0M451.2 1402.0h0M378.3 1345.4h0M469.6 1406.0h0M415.1 1367.7h0M429.8 1397.3h0M550.4 1389.2h0M416.4 1379.5h0M445.5 1402.4h0M422.7 1394.7h0M446.7 1343.0h0M424.9 1303.7h0M455.6 1394.7h0M508.1 1368.7h0M434.8 1398.6h0M442.6 1338.2h0M517.2 1388.7h0M450.9 1395.5h0M428.3 1405.2h0M364.8 1394.5h0M420.5 1386.0h0M452.5 1337.3h0M389.9 1293.5h0M381.4 1399.1h0M450.4 1395.2h0M473.8 1390.4h0M429.2 1407.0h0M418.8 1407.8h0M398.4 1325.6h0M372.6 1361.2h0M430.3 1385.0h0M403.9 1390.9h0M455.2 1348.9h0M350.6 1381.7h0M415.6 1336.2h0M407.9 1326.0h0M357.4 1405.3h0M474.2 1405.5h0M449.6 1328.6h0M581.5 1392.2h0M380.4 1405.1h0M368.2 1330.8h0M378.3 1357.7h0M388.4 1381.6h0M467.7 1397.9h0M405.1 1379.3h0M427.8 1401.4h0M431.8 1373.6h0M432.3 1398.9h0M386.8 1331.1h0M395.7 1397.9h0M399.1 1398.2h0M434.2 1336.0h0M380.3 1347.4h0M361.5 1381.5h0M482.2 1398.8h0M415.0 1358.9h0M459.2 1326.8h0M435.4 1386.7h0M366.3 1371.1h0M400.0 1359.2h0M374.9 1359.5h0M498.0 1405.0h0M368.1 1377.1h0M375.1 1372.7h0M413.9 1385.6h0M410.0 1370.0h0M365.5 1346.0h0M448.2 1363.2h0M365.9 1387.0h0M351.2 1397.3h0M356.8 1367.7h0M538.1 1393.8h0M408.4 1309.1h0M378.3 1360.6h0M360.6 1333.3h0M390.5 1391.4h0M372.5 1305.3h0M378.7 1404.6h0M351.5 1397.0h0M409.9 1377.7h0M419.2 1401.5h0M493.3 1384.7h0M446.1 1375.7h0M355.0 1363.0h0M347.1 1366.0h0M404.3 1360.0h0M500.4 1406.0h0M480.9 1381.5h0M415.6 1303.5h0M411.2 1393.1h0M434.2 1404.9h0M404.8 1333.3h0M378.5 1354.3h0M369.3 1363.3h0M485.1 1399.9h0M461.7 1343.1h0M420.6 1379.1h0M458.4 1394.2h0M405.3 1358.8h0M500.4 1348.8h0M429.7 1379.3h0M447.0 1357.3h0M389.2 1401.2h0M436.2 1396.8h0M389.9 1393.8h0M495.7 1404.6h0M362.4 1359.2h0M318.8 1401.5h0M444.3 1331.6h0M355.1 1405.9h0M434.2 1368.8h0M419.6 1355.4h0M358.7 1398.8h0M380.0 1402.2h0M351.1 1393.2h0M438.1 1328.0h0M506.1 1388.5h0M353.9 1339.0h0M485.3 1331.4h0M347.0 1380.3h0M464.1 1389.8h0M439.8 1385.0h0M374.8 1360.4h0M375.3 1375.6h0M566.2 1351.0h0M415.9 1375.0h0M423.4 1345.1h0M420.9 1397.5h0M364.8 1363.3h0M443.5 1396.0h0M468.9 1402.8h0M366.6 1395.4h0M429.9 1375.9h0M442.3 1307.8h0M399.8 1380.6h0M385.4 1384.1h0M387.3 1347.2h0M323.5 1397.6h0M425.0 1362.6h0M335.4 1376.1h0M423.8 1329.1h0M348.4 1303.0h0M429.3 1371.7h0M403.5 1396.4h0M365.2 1383.1h0M420.2 1402.6h0M521.5 1401.7h0M425.7 1401.3h0M424.0 1340.3h0M355.0 1359.2h0M424.3 1373.4h0M385.1 1406.6h0M365.2 1382.7h0M349.6 1375.9h0M428.7 1341.6h0M364.6 1386.2h0M386.4 1338.7h0M476.9 1369.6h0M547.1 1398.9h0M400.4 1337.5h0M361.0 1326.8h0M377.1 1366.3h0M431.8 1361.7h0M395.3 1314.5h0M461.1 1405.6h0M413.9 1298.4h0M466.5 1406.3h0M426.0 1385.3h0M390.8 1382.0h0M390.9 1386.9h0M408.1 1369.7h0M353.2 1334.4h0M410.6 1395.3h0M430.8 1387.1h0M377.4 1398.5h0M437.3 1390.4h0M382.5 1334.8h0M442.2 1354.9h0M418.1 1354.5h0M430.3 1388.9h0M341.8 1391.0h0M371.7 1372.0h0M354.3 1407.1h0M459.3 1383.1h0M447.5 1376.9h0M460.8 1332.6h0M356.4 1374.8h0M529.5 1395.4h0M425.5 1378.1h0M454.0 1367.7h0M415.5 1357.6h0M353.8 1390.0h0M425.0 1296.8h0M466.7 1393.3h0M500.6 1405.2h0M482.1 1406.5h0M489.1 1361.3h0M357.3 1352.4h0M396.9 1329.7h0M376.7 1386.6h0M397.1 1330.1h0M508.5 1341.1h0M427.1 1361.8h0M379.5 1387.1h0M501.8 1385.2h0M393.5 1333.0h0M456.2 1365.7h0M357.6 1374.3h0M412.5 1379.6h0M480.9 1403.9h0M440.1 1343.3h0M445.2 1390.4h0M434.1 1380.0h0M404.8 1371.0h0M381.3 1400.5h0M413.6 1383.7h0M447.9 1406.5h0M407.0 1304.2h0M421.9 1389.7h0M396.3 1354.9h0M407.4 1330.5h0M424.6 1388.9h0M377.7 1350.6h0M478.5 1391.9h0M565.7 1401.4h0M545.2 1403.3h0M426.7 1394.7h0M415.0 1401.1h0M439.9 1369.5h0M443.7 1371.8h0M436.6 1374.6h0M468.8 1404.0h0M403.2 1344.7h0M477.8 1381.7h0M401.4 1362.7h0M379.7 1397.4h0M664.0 1388.0h0M365.6 1330.8h0M347.3 1376.1h0M488.6 1382.6h0M470.8 1339.6h0M360.0 1380.4h0M406.8 1370.7h0M369.4 1382.5h0M361.1 1365.5h0M497.0 1305.8h0M487.6 1327.1h0M388.2 1328.1h0M433.6 1379.1h0M392.2 1362.6h0M403.6 1407.4h0M429.8 1352.4h0M384.5 1388.6h0M453.6 1387.6h0M367.2 1371.6h0M442.9 1385.7h0M407.2 1405.2h0M463.4 1396.0h0M454.2 1406.8h0M474.9 1396.3h0M384.9 1401.8h0M395.7 1388.3h0M498.8 1375.0h0M451.5 1293.2h0M371.8 1397.0h0M401.1 1350.5h0M392.2 1322.8h0M454.9 1357.5h0M485.8 1404.8h0M524.0 1405.8h0M377.0 1401.5h0M457.6 1404.3h0M390.4 1295.1h0M392.0 1366.4h0M372.7 1297.8h0M505.8 1406.5h0M367.1 1334.8h0M410.0 1373.3h0M374.3 1332.3h0M387.7 1362.7h0M397.3 1337.8h0M436.0 1406.6h0M359.4 1388.8h0M466.1 1407.2h0M428.0 1374.0h0M414.0 1357.8h0M439.5 1407.8h0M524.1 1387.7h0M402.6 1399.5h0M500.2 1384.1h0M389.7 1299.7h0M401.8 1330.8h0M451.4 1385.1h0M385.0 1397.2h0M388.9 1340.9h0M449.2 1353.4h0M403.0 1321.2h0M426.4 1385.9h0M347.4 1320.6h0M477.1 1378.9h0M350.4 1392.2h0M376.8 1369.8h0M516.4 1387.0h0M405.7 1392.3h0M437.1 1407.1h0M384.4 1358.1h0M416.7 1402.7h0M387.3 1369.0h0M343.5 1391.2h0M419.3 1399.9h0M375.2 1372.2h0M421.4 1406.7h0M441.9 1333.2h0M405.2 1384.8h0M385.5 1388.2h0M411.1 1395.7h0M508.8 1337.9h0M388.7 1403.8h0M344.0 1358.5h0M317.5 1380.9h0M414.6 1379.7h0M437.0 1392.7h0M369.9 1341.3h0M383.4 1396.3h0M382.5 1330.7h0M378.0 1367.9h0M494.8 1353.9h0M358.2 1384.8h0M423.9 1370.7h0M378.5 1325.4h0M361.1 1376.7h0M353.1 1369.1h0M460.0 1397.6h0M373.0 1334.1h0M431.2 1393.7h0M393.4 1406.6h0M400.3 1401.6h0M396.7 1401.1h0M370.1 1392.4h0M456.0 1355.0h0M375.0 1361.2h0M416.1 1387.7h0M416.7 1381.6h0M352.5 1405.3h0M390.2 1402.7h0M369.4 1375.7h0M457.4 1341.2h0M473.9 1404.6h0M353.1 1337.7h0M398.5 1366.5h0M476.6 1334.0h0M377.8 1355.3h0M569.1 1396.9h0M415.5 1385.6h0M497.1 1405.3h0M441.6 1379.3h0M383.3 1401.0h0M497.6 1395.6h0M397.2 1407.2h0M513.9 1380.1h0M541.6 1390.4h0M415.2 1401.0h0M492.9 1389.3h0M477.5 1328.6h0M351.8 1393.9h0M431.4 1297.2h0M487.7 1312.9h0M381.0 1352.1h0M510.0 1406.9h0M476.1 1406.1h0M374.1 1376.3h0M435.0 1399.0h0M393.2 1388.3h0M397.2 1402.0h0M481.3 1380.3h0M441.0 1389.1h0M402.3 1363.7h0M364.9 1314.2h0M368.2 1398.9h0M357.2 1380.9h0M480.3 1388.2h0M366.5 1390.2h0M469.6 1403.7h0M452.1 1360.2h0M447.6 1312.9h0M392.0 1303.3h0M462.7 1377.8h0M379.0 1392.5h0M387.2 1380.4h0M393.2 1341.4h0M488.4 1392.6h0M411.0 1365.4h0M416.7 1372.3h0M352.9 1397.1h0M482.7 1338.3h0M405.8 1363.6h0M353.8 1404.0h0M410.4 1366.5h0M447.6 1381.5h0M428.4 1399.8h0M497.4 1400.3h0M364.4 1333.9h0M456.7 1352.9h0M410.5 1404.6h0M454.0 1382.7h0M393.3 1377.9h0M466.9 1393.2h0M533.8 1407.7h0M342.0 1293.4h0M348.1 1315.0h0M427.8 1406.3h0M412.9 1401.0h0M447.5 1379.4h0M439.1 1402.9h0M404.2 1382.9h0M452.9 1397.8h0M374.0 1370.9h0M436.5 1395.1h0M464.7 1372.7h0M499.8 1402.9h0M449.4 1389.8h0M404.6 1390.8h0M395.8 1394.3h0M339.3 1387.4h0M508.0 1400.0h0M425.4 1376.3h0M435.4 1398.2h0M511.3 1389.2h0M462.4 1369.3h0M535.7 1403.8h0M350.4 1402.9h0M424.8 1347.1h0M395.7 1400.2h0M352.7 1360.4h0M376.4 1368.4h0M433.8 1369.9h0M433.4 1400.7h0M374.1 1394.7h0M507.8 1378.5h0M371.7 1406.7h0M368.7 1352.3h0M392.7 1368.5h0M421.4 1400.0h0M354.8 1370.9h0M473.9 1341.5h0M437.1 1339.9h0M430.1 1388.2h0M430.6 1294.2h0M388.0 1364.3h0M414.0 1406.8h0M645.1 1371.6h0M388.9 1358.7h0M370.8 1366.6h0M522.4 1349.7h0M376.0 1319.3h0M365.4 1327.8h0M376.9 1381.7h0M404.6 1381.7h0M394.3 1322.1h0M461.4 1396.7h0M365.2 1396.5h0M417.2 1407.7h0M446.5 1397.2h0M361.1 1335.4h0M369.9 1336.2h0M431.3 1397.4h0M407.1 1312.5h0M497.3 1314.5h0M472.4 1351.9h0M432.3 1354.8h0M409.0 1351.3h0M432.1 1402.1h0M420.6 1349.9h0M394.3 1324.1h0M455.0 1375.6h0M466.8 1400.9h0M384.9 1381.5h0M457.0 1374.3h0M461.8 1382.0h0M416.7 1403.3h0M391.5 1397.3h0M344.5 1362.3h0M420.2 1401.7h0M393.3 1369.8h0M398.4 1363.1h0M380.8 1345.1h0M410.3 1304.3h0M420.6 1378.0h0M365.5 1370.6h0M385.9 1381.8h0M497.6 1393.8h0M394.1 1346.9h0M344.6 1398.1h0M361.6 1407.5h0M426.5 1324.6h0M425.2 1294.8h0M371.1 1399.0h0M364.4 1383.2h0M435.8 1340.4h0M423.4 1376.5h0M494.3 1360.6h0M506.5 1378.0h0M449.0 1358.2h0M397.6 1388.5h0M388.9 1334.9h0M361.7 1385.1h0M365.9 1360.0h0M501.4 1364.8h0M336.2 1372.4h0M462.7 1404.0h0M381.5 1386.8h0M354.1 1346.8h0M467.4 1394.5h0M508.2 1393.8h0M403.6 1329.7h0M410.3 1404.9h0M605.7 1382.2h0M384.5 1400.5h0M334.6 1396.1h0M424.4 1403.9h0M387.0 1403.5h0M382.5 1375.1h0M415.1 1293.5h0M437.5 1295.6h0M479.1 1392.0h0M424.4 1300.0h0M426.9 1298.7h0M352.6 1305.6h0M457.6 1370.8h0M393.0 1399.9h0M378.2 1392.0h0M366.8 1376.3h0M396.8 1340.2h0M397.4 1393.4h0M381.9 1375.7h0M368.0 1353.8h0M397.7 1365.1h0M381.9 1329.2h0M385.6 1302.2h0M409.2 1347.3h0M449.7 1383.1h0M448.4 1379.9h0M388.6 1354.6h0M383.1 1375.6h0M509.9 1389.1h0M392.2 1399.7h0M370.9 1353.0h0M351.2 1391.4h0M337.2 1308.6h0M435.8 1376.1h0M465.9 1360.6h0M378.5 1347.2h0M352.7 1346.0h0M406.9 1311.0h0M424.6 1317.2h0M495.2 1372.3h0M370.8 1325.7h0M423.9 1372.3h0M418.6 1406.4h0M495.7 1398.6h0M440.7 1348.6h0M357.5 1390.6h0M386.3 1388.3h0M421.2 1343.2h0M398.8 1335.2h0M373.9 1406.4h0M362.1 1314.3h0M396.4 1338.0h0M396.7 1318.2h0M355.3 1306.6h0M414.6 1349.4h0M405.9 1371.1h0M397.1 1361.8h0M376.0 1348.0h0M460.9 1379.9h0M378.3 1328.6h0M405.9 1402.8h0M451.4 1373.8h0M451.3 1308.6h0M346.9 1352.9h0M363.8 1401.2h0M375.9 1358.4h0M487.2 1391.2h0M416.7 1398.0h0M479.7 1401.0h0M412.3 1388.3h0M425.3 1388.0h0M411.0 1364.2h0M520.0 1367.3h0M399.7 1382.8h0M378.9 1332.2h0M415.1 1376.6h0M385.1 1404.9h0M482.8 1386.6h0M478.2 1352.4h0M491.6 1407.5h0M502.9 1395.7h0M405.1 1377.0h0M473.2 1364.8h0M433.6 1389.5h0M380.7 1352.8h0M393.4 1302.3h0M402.3 1387.0h0M530.3 1393.5h0M428.3 1370.3h0M368.1 1386.1h0M371.7 1326.3h0M390.3 1387.9h0M362.3 1406.5h0M359.6 1374.9h0M534.5 1404.5h0M491.8 1380.5h0M363.1 1400.2h0M418.7 1391.9h0M448.3 1389.4h0M449.7 1398.1h0M377.5 1362.0h0M431.1 1353.4h0M485.4 1352.2h0M378.3 1350.4h0M395.7 1374.6h0M336.0 1387.8h0M656.2 1405.8h0M404.8 1348.3h0M409.4 1317.6h0M433.9 1319.0h0M505.9 1325.6h0M393.1 1356.9h0M386.3 1388.7h0M428.3 1377.7h0M405.7 1342.4h0M394.1 1373.7h0M379.0 1354.0h0M349.8 1405.4h0M490.8 1387.5h0M343.2 1334.0h0M369.8 1320.3h0M368.5 1386.4h0M473.8 1382.3h0M363.3 1333.0h0M359.5 1351.5h0M403.2 1387.3h0M434.6 1357.9h0M472.8 1293.9h0M489.7 1371.3h0M460.0 1402.4h0M481.9 1377.2h0M349.2 1378.8h0M380.6 1315.7h0M369.7 1386.4h0M362.6 1317.4h0M415.2 1306.7h0M428.2 1385.6h0M571.4 1384.8h0M450.4 1312.5h0M436.1 1325.7h0M339.1 1368.3h0M513.6 1383.3h0M388.8 1362.1h0M384.3 1405.9h0M456.1 1328.1h0M421.0 1383.9h0M407.1 1407.2h0M421.7 1393.9h0M380.4 1307.3h0M519.6 1322.3h0M445.8 1405.9h0M460.0 1327.4h0M369.5 1303.4h0M352.1 1369.0h0M414.0 1347.0h0M430.1 1405.4h0M415.1 1374.6h0M579.0 1403.5h0M409.4 1397.0h0M475.4 1367.2h0M424.2 1405.6h0M483.4 1319.9h0M455.8 1391.9h0M380.4 1302.2h0M351.6 1384.1h0M430.4 1349.5h0M370.5 1393.1h0M474.1 1358.2h0M521.3 1384.1h0M496.2 1387.6h0M437.6 1361.0h0M503.4 1405.4h0M435.4 1359.1h0M424.8 1394.0h0M366.2 1325.7h0M357.0 1383.4h0M406.4 1338.8h0M351.9 1407.3h0M366.0 1350.7h0M422.8 1384.1h0M356.7 1364.2h0M452.9 1374.9h0M408.8 1404.1h0M434.7 1313.8h0M444.0 1402.8h0M386.2 1357.4h0M423.9 1373.4h0M515.6 1403.6h0M394.6 1386.9h0M382.5 1390.5h0M465.3 1406.3h0M352.9 1407.9h0M395.7 1331.9h0M386.7 1393.9h0M346.3 1368.2h0M363.3 1381.4h0M492.3 1400.5h0M353.5 1334.1h0M520.1 1381.7h0M356.9 1376.4h0M365.7 1398.4h0M471.8 1386.2h0M455.8 1374.8h0M370.1 1407.8h0M378.4 1365.5h0M406.4 1405.0h0M320.2 1343.5h0M366.3 1360.2h0M568.8 1404.0h0M420.9 1367.7h0M488.8 1365.2h0M442.8 1378.7h0M395.8 1386.2h0M383.9 1401.4h0M423.3 1404.3h0M397.6 1404.0h0M428.3 1355.5h0M454.0 1371.7h0M382.7 1293.6h0M509.5 1345.9h0M486.9 1381.4h0M381.7 1351.5h0M376.1 1399.2h0M402.4 1326.6h0M424.2 1355.5h0M487.3 1395.7h0M390.9 1348.6h0M434.4 1321.6h0M497.6 1393.1h0M353.7 1401.7h0M365.5 1404.1h0M370.2 1407.5h0M364.6 1318.7h0M440.2 1389.0h0M378.2 1400.6h0M432.7 1396.1h0M492.6 1348.5h0M381.6 1395.8h0M429.5 1345.7h0M407.3 1331.8h0M547.4 1407.5h0M366.6 1329.0h0M394.8 1395.1h0M469.5 1353.4h0M422.7 1384.9h0M397.0 1327.0h0M356.5 1379.3h0M379.9 1355.4h0M505.2 1375.7h0M445.5 1370.8h0M361.6 1378.9h0M361.0 1391.8h0M410.0 1399.8h0M395.9 1386.4h0M430.6 1382.9h0M471.8 1387.5h0M348.5 1342.1h0M567.6 1404.8h0M548.9 1407.5h0M424.4 1349.1h0M380.1 1370.3h0M393.8 1346.4h0M447.3 1384.8h0M400.3 1372.9h0M410.6 1407.0h0M457.7 1385.5h0M319.4 1368.3h0M380.7 1377.7h0M461.1 1306.9h0M472.0 1317.9h0M384.2 1403.3h0M461.7 1378.9h0M403.7 1309.4h0M403.4 1368.6h0M369.3 1333.9h0M511.5 1330.9h0M387.6 1353.4h0M402.4 1355.3h0M406.2 1371.6h0M450.3 1325.8h0M383.2 1375.4h0M411.6 1353.6h0M355.4 1380.2h0M417.6 1391.8h0M437.4 1327.6h0M445.6 1404.0h0M435.6 1360.8h0M355.0 1395.4h0M396.0 1387.0h0M433.8 1400.1h0M547.7 1370.9h0M453.4 1382.6h0M396.8 1380.4h0M443.3 1389.7h0M514.3 1404.5h0M397.8 1402.6h0M334.9 1395.1h0M501.4 1375.1h0M408.1 1371.3h0M339.5 1392.2h0M476.6 1346.6h0M403.5 1402.1h0M457.0 1358.6h0M525.4 1292.5h0M380.2 1396.3h0M510.9 1405.4h0M446.8 1388.2h0M460.3 1403.5h0M420.0 1398.1h0M381.6 1342.2h0M415.5 1298.9h0M397.3 1401.8h0M447.6 1371.6h0M398.8 1398.4h0M480.6 1395.0h0M369.1 1369.1h0M444.4 1322.0h0M535.5 1378.3h0M359.2 1396.5h0M363.8 1396.8h0M369.9 1365.1h0M427.1 1379.6h0M428.8 1403.7h0M434.2 1401.3h0M371.0 1377.0h0M445.0 1402.6h0M531.3 1385.5h0M337.4 1368.8h0M444.6 1349.5h0M454.9 1406.8h0M359.5 1400.7h0M479.1 1345.6h0M426.4 1386.7h0M386.4 1387.7h0M370.8 1350.0h0M377.9 1387.8h0M339.6 1370.3h0M460.1 1395.4h0M413.0 1375.8h0M363.9 1346.7h0M361.9 1406.6h0M426.2 1382.8h0M382.4 1302.8h0M412.0 1318.0h0M402.3 1403.6h0M351.6 1375.2h0M372.9 1407.0h0M455.9 1372.2h0M403.8 1396.4h0M399.3 1385.1h0M442.7 1391.7h0M384.4 1355.1h0M341.1 1361.1h0M438.7 1407.4h0M340.1 1309.6h0M399.0 1392.9h0M352.4 1370.8h0M338.2 1352.9h0M426.1 1369.4h0M435.0 1361.1h0M388.9 1376.5h0M382.5 1340.3h0M421.3 1392.8h0M441.4 1406.2h0M373.0 1383.1h0M399.4 1362.8h0M438.3 1399.3h0M450.1 1397.7h0M360.9 1396.0h0M555.9 1375.7h0M464.4 1367.2h0M491.4 1402.7h0M382.5 1373.1h0M467.3 1352.9h0M519.1 1386.6h0M362.0 1379.9h0M514.3 1386.9h0M384.3 1297.6h0M450.6 1402.2h0M433.1 1381.9h0M403.3 1352.0h0M395.7 1346.3h0M376.6 1399.9h0M422.0 1381.5h0M425.6 1375.6h0M393.5 1391.5h0M496.6 1392.1h0M357.5 1353.0h0M411.0 1405.0h0M397.6 1368.4h0M355.5 1328.5h0M399.0 1335.1h0M336.2 1319.0h0M416.7 1305.2h0M424.5 1373.6h0M419.0 1392.1h0M438.8 1405.2h0M353.2 1379.3h0M383.2 1327.1h0M339.7 1328.4h0M409.0 1307.5h0M389.4 1309.7h0M363.6 1339.1h0M358.4 1387.5h0M427.6 1323.7h0M337.2 1348.1h0M339.4 1305.7h0M371.7 1391.9h0M409.6 1398.6h0M363.9 1319.0h0M510.1 1317.5h0M348.0 1376.1h0M379.0 1402.2h0M389.3 1405.9h0M416.6 1326.6h0M360.0 1371.8h0M542.3 1302.0h0M386.2 1368.1h0M407.5 1388.5h0M387.6 1392.7h0M385.2 1354.2h0M370.9 1392.2h0M337.2 1364.8h0M409.7 1379.8h0M396.7 1374.3h0M403.6 1392.7h0M446.8 1318.0h0M465.7 1376.5h0M402.3 1386.8h0M416.2 1397.6h0M374.5 1401.6h0M366.0 1391.1h0M419.1 1373.2h0M379.2 1384.0h0M403.0 1398.3h0M434.5 1386.8h0M397.6 1400.0h0M450.5 1344.4h0M334.6 1377.2h0M458.6 1406.6h0M533.9 1389.7h0M409.5 1380.4h0M478.5 1396.1h0M515.8 1386.9h0M448.1 1395.7h0M381.9 1397.7h0M416.5 1392.6h0M387.9 1294.9h0M384.5 1387.2h0M481.8 1403.2h0M365.1 1339.2h0M403.0 1295.9h0M415.1 1392.7h0M391.8 1385.9h0M366.5 1372.8h0M410.1 1346.0h0M379.3 1322.0h0M397.1 1377.3h0M443.2 1407.2h0M518.9 1399.1h0M418.7 1405.6h0M357.9 1319.3h0M403.4 1318.5h0M445.6 1394.9h0M385.1 1312.0h0M407.9 1402.4h0M429.9 1337.8h0M449.1 1363.0h0M394.8 1397.4h0M488.2 1399.7h0M462.5 1393.7h0M359.4 1369.2h0M516.5 1328.9h0M498.0 1362.3h0M399.2 1379.9h0M359.2 1319.4h0M508.3 1364.8h0M586.0 1405.0h0M396.1 1350.7h0M388.9 1382.2h0M357.4 1359.8h0M381.7 1367.6h0M427.3 1306.5h0M340.7 1402.9h0M508.3 1406.3h0M523.4 1384.7h0M372.9 1388.0h0M482.0 1402.6h0M361.5 1331.8h0M389.5 1336.0h0M407.8 1353.9h0M428.7 1344.0h0M442.0 1370.3h0M419.3 1309.2h0M433.9 1390.7h0M382.8 1379.0h0M378.3 1362.8h0M448.2 1404.0h0M421.1 1333.6h0M391.9 1323.4h0M352.3 1395.5h0M557.2 1379.1h0M491.6 1318.1h0M360.0 1364.0h0M420.6 1362.1h0M384.5 1383.1h0M374.7 1353.9h0M432.4 1381.3h0M350.7 1402.7h0M343.7 1303.1h0M366.7 1405.0h0M370.1 1403.1h0M390.1 1377.1h0M400.1 1298.5h0M565.6 1407.4h0M396.9 1406.3h0M428.1 1402.7h0M528.3 1371.3h0M412.5 1394.7h0M417.6 1314.0h0M385.2 1388.3h0M525.0 1339.2h0M407.4 1370.1h0M343.6 1357.2h0M397.8 1296.7h0M498.8 1401.5h0M395.7 1354.6h0M420.9 1348.0h0M381.7 1385.3h0M464.4 1379.5h0M396.2 1374.6h0M417.4 1341.7h0M453.4 1403.3h0M390.2 1348.9h0M386.3 1369.4h0M363.5 1373.1h0M463.0 1378.4h0M431.9 1404.7h0M442.4 1337.1h0M375.5 1373.3h0M415.9 1388.0h0M465.2 1384.8h0M420.2 1374.3h0M356.9 1340.7h0M496.9 1386.4h0M388.4 1372.5h0M406.3 1403.9h0M377.4 1381.9h0M433.1 1332.3h0M473.2 1404.8h0M343.6 1343.8h0M388.9 1299.9h0M424.0 1346.5h0M454.0 1377.8h0M361.5 1319.6h0M393.3 1298.2h0M380.8 1380.0h0M375.0 1393.4h0M527.6 1385.3h0M438.8 1401.1h0M356.7 1401.2h0M389.9 1334.6h0M384.7 1405.0h0M407.8 1303.2h0M381.8 1334.9h0M360.3 1338.9h0M408.6 1343.9h0M466.9 1369.4h0M454.9 1375.1h0M408.0 1399.1h0M360.2 1345.6h0M435.7 1402.3h0M367.1 1317.7h0M503.5 1385.3h0M439.8 1389.0h0M357.4 1360.9h0M450.4 1405.8h0M384.7 1405.3h0M558.2 1375.2h0M446.8 1400.4h0M344.0 1301.0h0M337.2 1370.4h0M359.7 1392.9h0M362.5 1373.0h0M459.7 1403.2h0M412.2 1380.3h0M393.6 1368.7h0M392.7 1374.9h0M366.8 1393.0h0M511.1 1388.9h0M430.0 1345.9h0M400.8 1371.0h0M447.7 1319.0h0M460.8 1388.2h0M530.1 1355.5h0M523.9 1393.8h0M375.2 1389.0h0M472.6 1378.6h0M469.6 1371.4h0M351.5 1399.5h0M489.2 1394.3h0M362.5 1379.6h0M458.8 1404.8h0M375.4 1388.5h0M462.9 1361.6h0M463.8 1406.3h0M432.7 1365.4h0M398.7 1382.3h0M448.1 1308.7h0M384.4 1379.7h0M445.4 1298.7h0M471.1 1381.1h0M400.0 1296.5h0M400.7 1375.8h0M358.3 1364.3h0M409.6 1355.1h0M493.1 1364.9h0M461.1 1361.7h0M373.5 1325.4h0M410.3 1405.7h0M405.9 1405.3h0M434.3 1356.7h0M402.2 1374.5h0M350.9 1374.6h0M403.8 1373.2h0M391.2 1345.1h0M361.4 1399.2h0M379.2 1388.8h0M443.9 1390.2h0M446.4 1344.9h0M429.0 1398.3h0M509.8 1376.0h0M370.7 1396.2h0M439.8 1400.3h0M388.6 1404.8h0M415.9 1329.3h0M349.8 1370.1h0M430.1 1403.2h0M532.0 1372.2h0M387.4 1334.6h0M465.4 1377.7h0M401.0 1387.2h0M344.7 1322.5h0M365.2 1296.6h0M481.4 1357.2h0M403.1 1400.9h0M458.2 1324.6h0M407.2 1392.6h0M350.7 1312.2h0M418.2 1361.4h0M401.2 1399.3h0M462.5 1392.6h0M343.6 1360.6h0M317.7 1332.3h0M605.3 1395.6h0M400.0 1378.0h0M473.8 1399.3h0M425.2 1407.4h0M425.3 1307.3h0M369.0 1345.7h0M394.8 1390.5h0M384.6 1399.0h0M408.1 1379.0h0M374.9 1333.4h0M484.9 1404.6h0M448.7 1353.1h0M381.7 1404.3h0M356.4 1392.8h0M363.8 1393.6h0M418.6 1396.3h0M319.0 1380.9h0M390.1 1367.3h0M455.1 1381.1h0M467.9 1353.9h0M472.6 1387.8h0M350.2 1407.3h0M413.1 1402.6h0M396.5 1403.2h0M357.1 1389.3h0M474.5 1341.1h0M426.5 1376.9h0M356.8 1336.9h0M446.9 1393.4h0M390.8 1347.6h0M434.1 1361.9h0M525.4 1307.6h0M405.5 1313.9h0" stroke="#f00" stroke-width="4.4" stroke-linecap="round" fill="none" clip-path="url(#cD)"/>
<path d="M372.7 1279.1h0M431.1 1274.5h0M325.6 1250.7h0M432.7 1189.8h0M371.6 1216.7h0M385.8 1212.9h0M358.9 1250.9h0M388.7 1244.3h0M448.2 1185.8h0M404.5 1163.6h0M377.3 1288.2h0M406.2 1277.9h0M405.1 1245.5h0M377.7 1177.8h0M393.2 1216.0h0M355.6 1249.7h0M409.1 1289.6h0M474.5 1251.9h0M405.3 1216.1h0M365.6 1267.6h0M390.5 1287.2h0M395.5 1171.0h0M363.4 1271.8h0M369.4 1269.8h0M388.7 1282.0h0M415.2 1248.2h0M376.1 1277.5h0M366.8 1268.5h0M398.5 1249.6h0M399.0 1173.5h0M413.7 1287.6h0M426.2 1285.3h0M377.8 1261.3h0M486.2 1190.1h0M407.9 1251.4h0M435.6 1286.9h0M419.2 1258.6h0M357.3 1177.2h0M408.7 1253.0h0M398.9 982.6h0M366.5 1249.4h0M401.2 1277.1h0M354.7 1150.0h0M458.6 1167.6h0M421.2 1238.1h0M455.7 1255.4h0M378.9 1286.6h0M426.6 1255.8h0M336.5 1274.0h0M362.3 1276.7h0M365.5 1164.7h0M373.0 1186.1h0M413.3 1258.1h0M447.8 1276.2h0M340.0 1249.1h0M388.5 1155.5h0M388.0 1284.5h0M379.8 1167.1h0M394.9 1268.8h0M385.2 1247.4h0M385.6 1289.5h0M374.7 1273.7h0M417.7 1185.5h0M384.7 1271.8h0M467.3 1264.1h0M382.1 1283.0h0M360.3 1290.2h0M383.1 1202.1h0M407.2 1136.5h0M516.7 1273.5h0M420.2 1229.6h0M392.7 1263.3h0M361.0 1252.0h0M393.3 1272.3h0M440.0 1249.9h0M373.6 1253.6h0M349.1 1283.2h0M359.5 1289.3h0M452.8 1251.6h0M411.4 1243.4h0M392.3 1186.3h0M389.7 1248.5h0M320.7 1165.0h0M383.6 1260.3h0M403.3 1283.7h0M351.7 1272.3h0M391.5 1250.6h0M430.4 1277.2h0M412.4 1269.4h0M426.7 1234.9h0M436.2 1211.6h0M354.9 1262.5h0M420.4 1145.0h0M360.2 1271.7h0M378.1 1271.6h0M412.2 1268.2h0M408.8 1251.2h0M340.1 1239.1h0M384.4 1236.6h0M424.1 1198.5h0M410.1 1282.2h0M350.0 1198.9h0M437.5 1137.9h0M532.4 906.1h0M376.7 1265.7h0M371.5 1286.6h0M429.2 1262.1h0M375.1 1197.1h0M411.2 1228.9h0M385.8 1113.1h0M359.6 1166.1h0M356.5 1269.1h0M443.9 1164.4h0M371.4 1248.2h0M364.9 1182.4h0M448.7 1227.1h0M366.8 1162.6h0M412.9 1264.2h0M361.3 1263.4h0M399.6 1251.3h0M402.0 1265.4h0M360.2 1259.1h0M400.7 1265.3h0M358.4 1254.5h0M402.1 1182.1h0M390.2 1289.0h0M379.6 1225.6h0M380.2 1248.6h0M383.4 1281.5h0M378.9 1278.8h0M483.2 1286.9h0M377.0 1255.3h0M428.4 1246.2h0M353.0 1245.4h0M367.6 1286.9h0M420.2 1290.3h0M395.5 1221.9h0M371.7 1239.5h0M395.1 1286.3h0M346.4 1281.9h0M384.4 1264.4h0M398.8 1264.6h0M406.3 1265.9h0M437.2 1276.3h0M370.5 1267.5h0M397.1 1290.2h0M379.0 1266.1h0M415.9 1177.9h0M387.0 1270.4h0M395.0 1013.6h0M362.5 1272.1h0M408.8 1278.1h0M415.9 1203.9h0M463.9 1163.7h0M467.1 1245.2h0M415.9 1245.6h0M382.0 1285.4h0M413.8 1278.6h0M394.3 1244.8h0M390.3 1270.6h0M486.2 1289.9h0M394.4 1115.6h0M415.3 1264.4h0M375.5 1145.0h0M360.6 1184.2h0M367.5 1219.2h0M409.8 1286.0h0M446.1 1227.3h0M451.6 1277.3h0M418.3 1289.0h0M375.5 1258.0h0M483.5 1282.9h0M342.0 1216.3h0M425.9 1268.6h0M355.5 1216.7h0M427.7 1210.6h0M439.7 1107.2h0M403.8 1161.7h0M320.5 1110.5h0M396.1 1171.3h0M409.8 1286.5h0M345.3 1171.6h0M399.8 1239.3h0M386.7 1285.5h0M368.6 1261.5h0M408.3 1283.1h0M409.3 1224.0h0M369.1 1239.1h0M365.4 1244.4h0M378.0 870.2h0M360.5 1282.8h0M343.6 1289.0h0M364.4 1270.6h0M380.4 1282.8h0M444.0 1258.1h0M362.7 1270.2h0M473.9 871.7h0M501.2 1053.2h0M381.0 1278.6h0M356.3 1255.0h0M377.2 1288.3h0M369.0 1274.7h0M354.2 1232.9h0M378.3 997.1h0M354.9 1266.5h0M365.3 1199.8h0M358.3 1128.8h0M341.5 1252.2h0M424.9 1265.0h0M404.5 1264.0h0M420.3 1272.1h0M339.3 1158.5h0M367.8 1204.6h0M392.0 927.0h0M381.7 1267.1h0M379.2 1168.2h0M436.9 1285.3h0M416.2 1266.3h0M347.3 1250.7h0M419.7 1184.2h0M374.2 1281.7h0M347.2 1194.3h0M389.9 1289.0h0M380.9 1277.8h0M412.9 1244.3h0M410.4 1244.0h0M384.9 1287.4h0M351.7 1277.1h0M353.1 1139.1h0M430.0 1280.6h0M447.0 1252.7h0M417.8 1243.9h0M430.1 1272.4h0M491.4 911.4h0M320.9 1287.2h0M384.2 1272.5h0M350.8 1170.9h0M450.8 1271.5h0M316.9 1276.6h0M340.7 1265.0h0M378.1 1246.5h0M357.0 1203.0h0M372.8 1242.3h0M353.8 1244.1h0M376.5 1278.3h0M424.8 1242.8h0M364.3 1263.3h0M387.5 1199.4h0M400.9 1280.2h0M412.7 1178.7h0M386.3 1235.3h0M436.8 1249.6h0M415.7 1126.8h0M418.9 1273.1h0M381.2 1262.7h0M372.2 1250.4h0M363.3 1276.7h0M375.0 1168.5h0M401.1 1240.5h0M395.5 1179.1h0M385.5 1281.5h0M375.5 1182.3h0M353.0 1219.4h0M339.3 1275.5h0M395.5 1180.7h0M347.4 1014.0h0M358.0 1288.8h0M401.8 1152.4h0M420.2 1275.1h0M383.7 1240.6h0M456.3 891.6h0M396.2 1281.1h0M400.2 986.0h0M396.0 1118.6h0M387.5 1184.8h0M384.5 1269.9h0M375.4 1254.4h0M331.1 958.9h0M396.2 1289.9h0M375.1 1273.8h0M438.8 1286.2h0M404.3 1280.3h0M459.3 1241.5h0M401.6 1274.1h0M416.0 871.4h0M403.4 1193.0h0M353.6 1264.8h0M394.3 916.8h0M339.2 1277.4h0" stroke="#0f0" stroke-width="4.4" stroke-linecap="round" fill="none" clip-path="url(#cD)"/>
<path d="M317.4 1358.2 L345 1360.5 L386.3 1373.1 L421.5 1381 L452 1388 L476.9 1397 L532 1402.7 L555.6 1402.7 L587.1 1410.6 L663.9 1426.3 L691.4 1417.2 L717 1422.4 L746.5 1408.6" fill="none" stroke="#000" stroke-width="3.2" stroke-linejoin="round"/>
<rect x="127" y="1073.5" width="808.7" height="361.5" fill="none" stroke="#262626" stroke-width="1.9"/>
<path d="M127 1435 v8.5 M127 1073.5 v-8.5 M238.9 1435 v4.5 M238.9 1073.5 v-4.5 M304.3 1435 v4.5 M304.3 1073.5 v-4.5 M350.7 1435 v4.5 M350.7 1073.5 v-4.5 M386.7 1435 v4.5 M386.7 1073.5 v-4.5 M416.2 1435 v4.5 M416.2 1073.5 v-4.5 M441 1435 v4.5 M441 1073.5 v-4.5 M462.6 1435 v4.5 M462.6 1073.5 v-4.5 M481.6 1435 v4.5 M481.6 1073.5 v-4.5 M498.6 1435 v8.5 M498.6 1073.5 v-8.5 M610.5 1435 v4.5 M610.5 1073.5 v-4.5 M675.9 1435 v4.5 M675.9 1073.5 v-4.5 M722.3 1435 v4.5 M722.3 1073.5 v-4.5 M758.3 1435 v4.5 M758.3 1073.5 v-4.5 M787.8 1435 v4.5 M787.8 1073.5 v-4.5 M812.6 1435 v4.5 M812.6 1073.5 v-4.5 M834.2 1435 v4.5 M834.2 1073.5 v-4.5 M853.2 1435 v4.5 M853.2 1073.5 v-4.5 M870.2 1435 v8.5 M870.2 1073.5 v-8.5" stroke="#262626" stroke-width="1.5" fill="none"/>
<g font-size="21" fill="#262626"><text x="133.5" y="1473.6" text-anchor="middle">10</text><text x="502.1" y="1473.6" text-anchor="middle">100</text><text x="870.7" y="1473.6" text-anchor="middle">1000</text></g>
<path d="M127 1435 h-9 M935.7 1435 h9 M127 1344.6 h-9 M935.7 1344.6 h9 M127 1254.2 h-9 M935.7 1254.2 h9 M127 1163.7 h-9 M935.7 1163.7 h9 M127 1073.3 h-9 M935.7 1073.3 h9" stroke="#262626" stroke-width="1.5"/>
<g font-size="21" fill="#262626" text-anchor="end"><text x="110.6" y="1444.2">1000</text><text x="110.6" y="1353.8">1500</text><text x="110.6" y="1263.4">2000</text><text x="110.6" y="1172.9">2500</text><text x="110.6" y="1082.5">3000</text></g>
<text x="159" y="1101.9" font-size="20" font-weight="bold" fill="#000">D)</text>
<text transform="translate(51.5,1254.5) rotate(-90)" text-anchor="middle" font-size="23.3" fill="#000">particle density [kg · m<tspan font-size="16" dy="-11.5">-3</tspan><tspan dy="11.5">]</tspan></text>
<text x="529.7" y="1501.8" text-anchor="middle" font-size="21" fill="#000">esd [<tspan font-family="Liberation Serif" font-style="italic">μ</tspan>m]</text>
<rect x="981.6" y="666" width="234.4" height="363" fill="none" stroke="#262626" stroke-width="1.9"/>
<path d="M982.3 666 L984 760 L987 839 L989.8 879 L994.5 912 L1003 932 L1013.6 947.5 L1060.6 967.5 L1108.2 983.4 L1187.6 1000.6 L1193 1006.4 L1183.3 1010.2 L1140.9 1014 L1112 1019.9 L981.7 1023.5" fill="none" stroke="#000" stroke-width="3.5" stroke-dasharray="13 11.5"/>
<path d="M981.2 666 L981.5 879 L982 900 L983.3 912 L984.5 932 L985.1 949 L994.3 968.7 L998.1 979.3 L1007.8 987 L1039.4 1002 L1067.6 1009.2 L1108 1018.9 L984 1023.7" fill="none" stroke="#00f" stroke-width="3.5" stroke-dasharray="13 11.5"/>
<path d="M982.6 665 L983 760 L985.2 839 L986.5 879 L989.2 912 L996.5 932 L1012 949 L1032.9 963 L1077.2 982.2 L1129.3 997.7 L1135.1 1001.5 L1121.6 1006.4 L1061.8 1013.1 L982.7 1019.9" fill="none" stroke="#f00" stroke-width="3.5" stroke-dasharray="12 12.5"/>
<path d="M981.9 665 L982 839 L983.5 879 L985 912 L987.5 940 L989.5 955 L990.4 965 L989.5 985 L985.6 998 L982 1011 L981.9 1023.7" fill="none" stroke="#0f0" stroke-width="3.5" stroke-dasharray="13 11.5" stroke-dashoffset="-11.5"/>
<path d="M981.6 1023.6 h5 M1216 1023.6 h-5 M981.6 966.4 h5 M1216 966.4 h-5 M981.6 909.2 h5 M1216 909.2 h-5 M981.6 852 h5 M1216 852 h-5 M981.6 794.8 h5 M1216 794.8 h-5 M981.6 737.6 h5 M1216 737.6 h-5 M981.6 680.4 h5 M1216 680.4 h-5" stroke="#262626" stroke-width="1.5"/>
<text x="1179.3" y="696.8" font-size="20" font-weight="bold" fill="#000">E)</text>
<path d="M981.5 1290 H1216 M981.5 1407.8 H1216" stroke="#999" stroke-width="1.5" stroke-dasharray="10 6"/>
<path d="M996.1 1292 L1000.6 1299.5 L1006.5 1306.4 L1011.4 1317.2 L1022.2 1324.1 L1032.1 1333 L1053.7 1357.6 L1067.5 1366.5 L1077.4 1370.4 L1087.2 1375.3 L1091.1 1386.1 L1104.9 1390.1 L1138.4 1401.9 L1168.9 1411.7 L1156.1 1416.7 L1142.3 1420.6 L1010.4 1430.4" fill="none" stroke="#000" stroke-width="3.2" stroke-dasharray="12 10"/>
<path d="M981.4 1075.5 L983.2 1111.6 L981.9 1132.3 L984.5 1140 L983.2 1163.2 L985.8 1194.2 L984.5 1214.8 L987 1220 L983.7 1231.6 L987.1 1244.5 L987.1 1266.5 L993.5 1276.8 L992.3 1287.1 L996.1 1297.4 L1002.6 1305.2 L1003.9 1312.9 L1011.6 1320.6 L1021.9 1331 L1037.4 1349 L1058.1 1367.1 L1073.5 1376.1 L1078.7 1385.7 L1127.7 1403.2 L1166.5 1412.3 L1197.4 1421.3 L1089 1430.3" fill="none" stroke="#000" stroke-width="3" stroke-linejoin="round"/>
<rect x="981.5" y="1073" width="234.7" height="362" fill="none" stroke="#262626" stroke-width="1.9"/>
<path d="M981.5 1435 h5 M1216.2 1435 h-5 M981.5 1344.6 h5 M1216.2 1344.6 h-5 M981.5 1254.2 h5 M1216.2 1254.2 h-5 M981.5 1163.7 h5 M1216.2 1163.7 h-5 M981.5 1073.3 h5 M1216.2 1073.3 h-5" stroke="#262626" stroke-width="1.5"/>
<text x="1177.3" y="1106.8" font-size="20" font-weight="bold" fill="#000">F)</text>
<rect x="969.4" y="18" width="280.7" height="467" fill="#fff" stroke="#111" stroke-width="1.8"/>
<g font-size="21" fill="#000" style="white-space:pre"><text x="980" y="46.1">ID: T5481 Merged</text><text x="980" y="73.3">Sample Date: N/A Merged</text><text x="980" y="99.8">Sample Time: N/A Merged</text><text x="980" y="126.5">Depth=2.57944 m</text><text x="980" y="152.9">N=5722 particles</text><text x="980" y="180">d<tspan font-size="16" dy="10.7" letter-spacing="0.6">50,p</tspan><tspan dy="-10.7">=&#160; 58.9 </tspan><tspan font-family="Liberation Serif" font-style="italic">μ</tspan>m</text><text x="980" y="216.2">d<tspan font-size="16" dy="10.7" letter-spacing="0.6">50,m</tspan><tspan dy="-10.7">=&#160; 76.3 </tspan><tspan font-family="Liberation Serif" font-style="italic">μ</tspan>m</text><text x="980" y="258.8">ws<tspan font-size="16" dy="10.7" letter-spacing="0.6">50,p</tspan><tspan dy="-10.7">= 0.310 mm·s</tspan><tspan font-size="16" dy="-9">-1</tspan></text><text x="980" y="300.2">ws<tspan font-size="16" dy="10.7" letter-spacing="0.6">50,m</tspan><tspan dy="-10.7">= 0.558 mm·s</tspan><tspan font-size="16" dy="-9">-1</tspan></text><text x="980" y="336.3">%_f(c,m): 36.1 26.7</text><text x="980" y="363.5">%_ba(c,m): 58.9 67.1</text><text x="980" y="390.2">%_p(c,m): 5.0 6.2</text><text x="980" y="417.3">AnalysisDate: 20-Dec-2016</text></g>
</svg></body></html>
